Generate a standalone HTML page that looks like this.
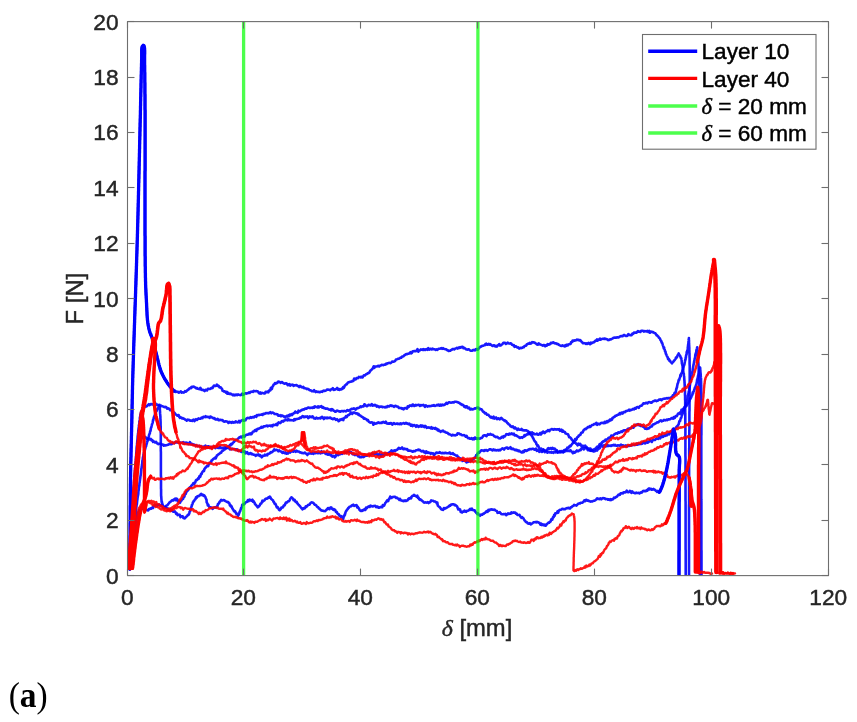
<!DOCTYPE html>
<html><head><meta charset="utf-8"><style>
html,body{margin:0;padding:0;background:#fff;}
body{width:857px;height:722px;overflow:hidden;position:relative;}
svg{position:absolute;left:0;top:0;will-change:transform;}
text{font-family:"Liberation Sans",sans-serif;fill:#262626;stroke:#262626;stroke-width:0.45px;}
</style></head><body>
<svg width="857" height="722" viewBox="0 0 857 722">
<defs><clipPath id="cp"><rect x="127.5" y="21.6" width="701" height="554"/></clipPath></defs>
<g clip-path="url(#cp)">
<polyline points="129.5,569.0 129.5,568.8 129.5,566.9 129.5,567.1 129.6,565.7 129.6,564.9 129.6,565.2 129.6,563.6 129.6,562.7 129.6,562.4 129.6,561.8 129.7,560.5 129.7,560.0 129.7,558.5 129.7,558.0 129.7,557.2 129.7,556.0 129.7,555.2 129.8,554.3 129.8,554.3 129.8,553.5 129.8,552.7 129.8,552.1 129.8,550.6 129.8,550.4 129.9,549.7 129.9,549.2 129.9,547.6 129.9,546.9 129.9,545.3 129.9,545.2 129.9,543.5 129.9,543.0 130.0,543.3 130.0,540.8 130.0,541.3 130.0,540.2 130.0,539.2 130.0,538.9 130.0,538.3 130.0,537.8 130.0,536.5 130.0,535.6 130.1,534.9 130.1,534.0 130.1,533.8 130.1,532.7 130.1,532.9 130.1,530.7 130.1,530.3 130.1,529.6 130.1,528.3 130.1,529.6 130.1,526.6 130.1,526.9 130.1,526.0 130.1,526.4 130.1,523.8 130.1,524.5 130.1,522.8 130.2,522.3 130.2,521.2 130.2,521.1 130.2,519.4 130.2,519.1 130.2,518.5 130.2,518.4 130.2,515.5 130.2,516.6 130.2,515.5 130.2,514.0 130.2,513.6 130.2,512.3 130.2,512.6 130.2,511.0 130.2,510.0 130.2,509.1 130.2,508.3 130.2,507.4 130.2,506.3 130.2,506.9 130.3,504.0 130.3,502.3 130.3,503.2 130.3,502.4 130.3,501.8 130.3,500.7 130.3,499.8 130.3,499.2 130.3,498.7 130.3,497.1 130.3,496.3 130.3,496.7 130.3,495.1 130.3,493.5 130.3,494.3 130.4,492.7 130.4,491.2 130.4,490.1 130.4,490.0 130.4,488.6 130.4,487.6 130.4,486.7 130.4,486.2 130.4,486.2 130.4,484.6 130.4,483.3 130.5,483.6 130.5,482.4 130.5,482.0 130.5,481.4 130.5,479.9 130.5,479.1 130.5,478.4 130.5,477.0 130.6,477.1 130.6,476.6 130.6,475.2 130.6,474.2 130.6,473.3 130.6,472.2 130.6,471.4 130.7,470.8 130.7,469.7 130.7,469.1 130.7,467.7 130.7,467.8 130.7,466.9 130.8,465.4 130.8,464.0 130.8,464.3 130.8,464.1 130.8,462.3 130.8,461.6 130.9,460.7 130.9,460.5 130.9,458.9 130.9,459.0 130.9,457.5 131.0,457.3 131.0,456.0 131.0,455.1 131.0,453.6 131.0,453.2 131.0,452.6 131.1,452.2 131.1,451.2 131.1,449.9 131.1,449.6 131.1,449.1 131.2,447.7 131.2,446.7 131.2,445.9 131.2,445.7 131.2,444.7 131.3,443.2 131.3,443.0 131.3,441.8 131.3,440.8 131.3,441.0 131.4,440.0 131.4,438.4 131.4,438.0 131.4,437.4 131.4,436.1 131.5,435.5 131.5,435.1 131.5,433.1 131.5,433.4 131.5,432.8 131.6,431.9 131.6,430.2 131.6,430.2 131.6,428.9 131.6,428.8 131.6,428.1 131.7,427.1 131.7,425.9 131.7,425.2 131.7,425.1 131.7,423.5 131.8,423.5 131.8,422.7 131.8,421.6 131.8,422.2 131.8,420.2 131.8,420.3 131.9,417.4 131.9,416.4 131.9,417.2 131.9,416.2 131.9,414.9 131.9,414.2 132.0,412.5 132.0,412.3 132.0,411.3 132.0,410.9 132.0,410.6 132.0,409.4 132.1,408.8 132.1,407.5 132.1,406.8 132.1,406.3 132.1,405.4 132.1,405.4 132.2,403.5 132.2,404.1 132.2,401.9 132.2,402.2 132.2,400.5 132.2,400.9 132.2,399.4 132.3,398.8 132.3,398.2 132.3,396.7 132.3,395.7 132.3,394.5 132.3,395.3 132.4,393.6 132.4,392.9 132.4,392.4 132.4,392.6 132.4,389.9 132.4,390.1 132.5,389.0 132.5,388.7 132.5,386.7 132.5,386.6 132.5,386.4 132.6,385.9 132.6,385.1 132.6,383.0 132.6,382.6 132.7,381.7 132.7,380.2 132.7,379.3 132.7,379.6 132.7,378.6 132.8,377.7 132.8,377.6 132.8,375.8 132.8,375.8 132.8,374.7 132.9,373.9 132.9,373.4 132.9,372.5 132.9,371.7 133.0,370.9 133.0,371.0 133.0,369.0 133.0,368.9 133.1,367.9 133.1,366.6 133.1,366.4 133.1,364.7 133.2,364.9 133.2,363.1 133.2,362.4 133.2,362.0 133.3,361.4 133.3,360.6 133.3,359.8 133.3,358.4 133.4,357.2 133.4,357.1 133.4,356.1 133.5,354.7 133.5,354.8 133.5,353.6 133.5,352.1 133.6,352.0 133.6,350.3 133.6,349.6 133.7,349.4 133.7,347.6 133.7,347.6 133.7,346.0 133.8,346.2 133.8,344.7 133.8,344.3 133.8,342.6 133.9,342.3 133.9,342.1 133.9,341.1 134.0,339.1 134.0,339.6 134.0,338.8 134.0,337.3 134.1,337.4 134.1,335.3 134.1,335.0 134.2,334.8 134.2,334.1 134.2,333.2 134.2,331.3 134.3,330.1 134.3,330.4 134.3,328.7 134.3,328.6 134.4,327.2 134.4,327.6 134.4,326.7 134.4,325.8 134.5,324.8 134.5,324.0 134.5,323.1 134.6,322.7 134.6,321.9 134.6,321.2 134.6,319.9 134.7,320.2 134.7,318.5 134.7,318.3 134.7,317.4 134.8,315.4 134.8,314.2 134.8,314.9 134.9,313.2 134.9,312.6 134.9,311.7 134.9,311.1 135.0,309.6 135.0,309.4 135.0,308.4 135.0,307.8 135.1,305.9 135.1,306.7 135.1,305.7 135.2,303.9 135.2,303.6 135.2,303.2 135.2,302.7 135.3,301.7 135.3,301.6 135.3,300.1 135.3,298.8 135.4,298.2 135.4,298.2 135.4,296.7 135.5,296.7 135.5,296.0 135.5,295.0 135.5,294.5 135.6,293.1 135.6,292.4 135.6,291.3 135.6,290.5 135.7,289.2 135.7,288.9 135.7,287.9 135.7,286.9 135.8,286.8 135.8,286.2 135.8,284.9 135.9,285.0 135.9,283.9 135.9,283.1 135.9,281.4 136.0,280.1 136.0,280.3 136.0,279.4 136.0,278.9 136.1,278.0 136.1,277.7 136.1,276.2 136.1,275.9 136.2,274.4 136.2,272.9 136.2,273.1 136.2,273.3 136.3,271.0 136.3,271.6 136.3,270.0 136.3,269.4 136.4,268.9 136.4,268.2 136.4,266.8 136.4,266.6 136.5,266.0 136.5,265.4 136.5,263.9 136.5,264.3 136.6,263.7 136.6,263.2 136.6,260.5 136.6,260.5 136.7,258.7 136.7,259.0 136.7,258.3 136.7,256.7 136.8,255.7 136.8,255.8 136.8,255.2 136.8,253.7 136.9,253.2 136.9,251.3 136.9,251.4 136.9,251.0 137.0,250.2 137.0,250.1 137.0,247.9 137.0,246.6 137.1,247.1 137.1,245.8 137.1,245.4 137.1,244.8 137.2,243.9 137.2,243.5 137.2,242.6 137.2,240.3 137.3,240.2 137.3,240.4 137.3,238.4 137.3,238.2 137.4,236.8 137.4,235.8 137.4,236.0 137.4,234.8 137.5,233.3 137.5,233.0 137.5,231.1 137.5,230.5 137.6,230.4 137.6,229.1 137.6,227.7 137.6,227.5 137.7,226.6 137.7,226.2 137.7,225.1 137.7,223.6 137.8,222.6 137.8,221.8 137.8,220.9 137.8,221.0 137.8,220.4 137.9,219.6 137.9,218.4 137.9,217.3 137.9,217.2 137.9,215.8 138.0,215.4 138.0,213.7 138.0,213.6 138.0,213.8 138.0,211.8 138.1,210.8 138.1,210.7 138.1,210.9 138.1,210.0 138.1,208.3 138.1,207.5 138.2,206.9 138.2,205.7 138.2,205.4 138.2,204.5 138.2,203.1 138.3,202.8 138.3,202.1 138.3,201.0 138.3,200.1 138.3,200.3 138.4,200.0 138.4,198.1 138.4,197.2 138.4,196.9 138.4,195.7 138.5,194.6 138.5,194.9 138.5,192.8 138.5,192.1 138.5,191.4 138.6,190.4 138.6,189.9 138.6,189.5 138.6,189.1 138.6,187.9 138.7,186.7 138.7,185.2 138.7,185.0 138.7,183.7 138.7,183.3 138.8,183.0 138.8,181.7 138.8,180.7 138.8,179.6 138.8,179.1 138.9,178.3 138.9,176.9 138.9,176.3 138.9,176.1 138.9,174.0 139.0,173.8 139.0,172.5 139.0,173.1 139.0,171.7 139.0,170.8 139.1,169.9 139.1,169.0 139.1,168.2 139.1,166.4 139.1,166.4 139.2,165.8 139.2,163.9 139.2,164.2 139.2,163.2 139.2,161.3 139.3,161.0 139.3,160.2 139.3,159.3 139.3,158.9 139.3,157.2 139.4,156.9 139.4,156.3 139.4,155.7 139.4,154.5 139.4,153.5 139.5,153.2 139.5,151.0 139.5,151.6 139.5,150.2 139.5,148.9 139.6,148.4 139.6,146.9 139.6,146.0 139.6,146.0 139.6,145.0 139.6,144.9 139.7,143.3 139.7,142.3 139.7,141.7 139.7,142.2 139.7,140.6 139.8,139.4 139.8,138.5 139.8,137.6 139.8,137.3 139.8,136.8 139.9,136.4 139.9,135.6 139.9,134.4 139.9,133.1 139.9,132.3 139.9,130.8 140.0,130.7 140.0,130.6 140.0,129.5 140.0,129.1 140.0,127.5 140.0,127.9 140.1,126.9 140.1,126.0 140.1,125.5 140.1,123.4 140.1,123.5 140.1,122.7 140.2,123.3 140.2,121.6 140.2,120.7 140.2,120.5 140.2,118.6 140.3,119.0 140.3,117.0 140.3,116.4 140.3,115.0 140.4,115.0 140.4,112.6 140.4,113.1 140.4,111.4 140.4,110.9 140.5,109.4 140.5,109.2 140.5,108.2 140.5,107.5 140.5,106.5 140.6,105.7 140.6,105.0 140.6,103.4 140.6,102.1 140.6,101.1 140.7,101.2 140.7,99.8 140.7,99.6 140.7,98.2 140.7,96.8 140.8,96.9 140.8,96.5 140.8,94.5 140.8,93.3 140.8,92.5 140.9,92.5 140.9,90.9 140.9,90.1 140.9,89.8 140.9,88.6 141.0,87.8 141.0,86.6 141.0,85.7 141.0,85.3 141.0,84.5 141.0,83.9 141.1,82.5 141.1,82.1 141.1,81.4 141.1,80.4 141.1,79.9 141.2,79.3 141.2,78.1 141.2,77.3 141.2,76.0 141.2,75.9 141.2,74.9 141.3,74.1 141.3,73.1 141.3,73.1 141.3,73.4 141.3,71.6 141.4,70.7 141.4,70.2 141.4,69.0 141.4,68.7 141.4,67.7 141.4,67.0 141.5,66.8 141.5,66.2 141.5,65.4 141.5,64.5 141.5,64.4 141.5,63.1 141.6,63.5 141.6,62.4 141.6,62.0 141.6,61.3 141.6,60.1 141.7,58.2 141.7,57.6 141.7,56.9 141.7,55.2 141.7,53.6 141.7,53.8 141.7,52.9 141.7,52.3 141.7,51.3 141.7,50.5 141.7,49.9 141.8,49.7 141.8,48.7 141.9,48.1 142.0,47.1 142.1,47.4 142.2,46.4 143.2,45.7 144.2,45.4 144.3,47.0 144.4,47.3 144.5,47.6 144.6,49.1 144.6,49.3 144.6,49.7 144.7,50.2 144.7,52.2 144.7,52.5 144.7,53.3 144.7,53.5 144.6,55.4 144.6,56.0 144.6,56.6 144.6,57.7 144.6,58.0 144.6,60.2 144.6,60.4 144.6,62.4 144.6,62.3 144.6,62.8 144.6,63.9 144.6,64.4 144.6,64.3 144.7,65.4 144.7,66.4 144.7,66.6 144.7,66.7 144.7,67.9 144.7,68.2 144.7,69.1 144.7,70.0 144.7,70.7 144.7,71.3 144.7,71.3 144.8,73.0 144.8,73.4 144.8,74.1 144.8,75.1 144.8,76.7 144.8,75.9 144.8,76.5 144.8,78.4 144.8,78.4 144.8,80.2 144.8,79.9 144.8,80.9 144.8,82.4 144.9,83.2 144.9,83.8 144.9,84.6 144.9,85.2 144.9,85.8 144.9,86.8 144.9,88.4 144.9,88.9 144.9,89.4 144.9,90.4 144.9,91.6 144.9,92.6 144.9,92.8 144.9,93.7 145.0,94.8 145.0,96.8 145.0,96.5 145.0,97.9 145.0,97.4 145.0,99.5 145.0,99.3 145.0,100.3 145.0,101.5 145.0,102.6 145.0,103.7 145.0,104.7 145.0,105.5 145.0,106.1 145.0,108.5 145.0,108.3 145.0,109.4 145.1,111.0 145.1,111.4 145.1,112.1 145.1,112.9 145.1,114.6 145.1,114.0 145.1,115.0 145.1,116.5 145.1,116.3 145.1,117.9 145.1,119.7 145.1,119.9 145.1,121.1 145.1,122.0 145.1,121.8 145.1,123.2 145.1,123.5 145.1,124.0 145.1,125.1 145.1,126.0 145.1,126.5 145.1,127.1 145.1,128.7 145.1,129.5 145.1,130.0 145.1,130.4 145.1,130.7 145.1,131.5 145.1,132.2 145.1,133.6 145.1,134.7 145.1,135.5 145.1,135.8 145.1,136.4 145.1,137.5 145.1,138.2 145.1,139.2 145.1,140.5 145.1,140.2 145.1,142.4 145.1,141.1 145.1,142.1 145.1,143.0 145.1,144.1 145.1,145.3 145.1,147.2 145.1,146.7 145.1,148.4 145.1,148.5 145.1,149.6 145.1,149.8 145.1,152.3 145.1,152.0 145.1,152.5 145.1,154.8 145.1,154.6 145.1,155.5 145.1,156.1 145.1,156.6 145.1,157.1 145.1,158.6 145.1,160.3 145.1,160.6 145.1,161.1 145.1,162.6 145.1,162.5 145.1,164.4 145.1,164.6 145.1,165.1 145.1,166.6 145.1,167.4 145.1,167.8 145.1,169.0 145.1,170.2 145.1,171.3 145.0,171.0 145.0,171.0 145.0,174.1 145.0,173.9 145.0,174.6 145.0,175.9 145.0,176.3 145.0,177.9 145.0,177.6 145.0,179.0 145.0,179.3 145.0,181.5 145.0,181.5 145.0,183.0 145.0,184.0 145.0,183.6 145.0,184.9 145.0,186.2 145.0,186.7 145.0,187.5 145.0,188.8 145.0,189.6 145.0,189.7 145.0,190.8 145.0,192.0 145.0,192.6 145.0,193.4 145.0,193.6 145.0,195.9 145.0,195.7 145.0,196.8 145.0,197.4 145.0,198.3 145.0,199.1 145.0,199.4 145.0,200.8 145.0,202.1 145.0,202.5 145.0,203.4 145.0,204.1 145.0,204.6 145.0,206.3 145.0,205.9 145.0,207.2 145.0,208.3 145.0,208.7 145.0,208.8 145.0,209.5 145.0,211.6 145.0,211.1 145.0,212.3 145.0,213.3 145.0,213.9 145.0,213.7 145.0,214.3 145.0,216.0 145.0,216.4 145.0,217.3 145.0,218.2 145.0,219.0 145.0,218.9 145.0,219.5 145.0,221.5 145.0,221.6 145.0,222.2 145.0,222.7 145.0,224.9 145.0,224.9 145.0,225.9 145.0,227.7 145.0,228.4 145.0,229.5 145.0,229.4 145.0,229.6 145.0,231.4 145.0,232.6 145.0,233.3 145.0,235.0 145.0,235.6 145.1,235.8 145.1,237.5 145.1,238.0 145.1,238.7 145.1,240.4 145.1,239.9 145.1,242.1 145.1,243.0 145.1,242.3 145.1,244.1 145.1,245.0 145.1,245.4 145.1,246.5 145.1,247.2 145.1,248.5 145.1,249.0 145.1,249.1 145.1,251.6 145.1,252.3 145.1,252.2 145.1,253.9 145.1,255.3 145.1,254.3 145.1,255.7 145.2,256.5 145.2,257.8 145.2,258.2 145.2,258.4 145.2,260.6 145.2,260.6 145.2,261.9 145.2,263.4 145.2,262.7 145.2,263.6 145.2,265.0 145.2,265.3 145.2,266.4 145.3,266.8 145.3,269.0 145.3,268.6 145.3,269.2 145.3,269.9 145.3,270.7 145.3,270.4 145.3,271.8 145.3,273.0 145.4,272.7 145.4,274.1 145.4,274.7 145.4,275.2 145.4,277.3 145.4,277.1 145.4,277.6 145.5,277.7 145.5,278.8 145.5,279.2 145.5,280.0 145.5,281.1 145.6,283.2 145.6,283.6 145.6,284.7 145.6,285.4 145.7,287.1 145.7,286.2 145.7,286.8 145.8,288.4 145.8,289.3 145.9,290.0 145.9,290.5 145.9,292.0 146.0,293.3 146.0,293.3 146.0,293.9 146.1,295.4 146.1,295.4 146.2,296.1 146.2,297.2 146.2,296.7 146.3,299.5 146.3,299.3 146.4,300.3 146.4,301.0 146.4,301.8 146.5,301.6 146.5,303.9 146.6,304.1 146.6,304.7 146.6,307.0 146.7,305.7 146.7,307.6 146.8,308.0 146.8,308.2 146.8,310.8 146.9,309.9 146.9,311.6 147.0,312.3 147.0,313.3 147.0,313.6 147.1,315.5 147.1,315.8 147.2,315.8 147.2,316.6 147.3,318.2 147.4,318.2 147.4,319.8 147.5,320.4 147.6,320.7 147.7,321.0 147.8,322.2 148.0,323.9 148.1,324.3 148.2,326.3 148.4,326.0 148.6,327.2 148.7,328.2 148.9,328.7 149.1,329.6 149.3,330.7 149.5,330.9 149.7,332.0 150.0,332.4 150.3,334.3 150.5,334.1 150.8,335.2 151.1,334.0 151.4,336.0 151.7,336.4 152.0,337.8 152.3,338.4 152.6,339.0 152.8,340.1 153.0,341.3 153.2,342.2 153.4,342.1 153.7,343.7 153.9,343.6 154.1,345.1 154.3,345.2 154.5,346.9 154.7,348.4 154.9,347.9 155.1,349.6 155.3,349.1 155.5,350.3 155.7,352.8 156.0,352.3 156.2,353.4 156.4,353.2 156.6,354.8 156.8,355.2 157.0,357.0 157.2,357.0 157.4,359.4 157.6,358.4 157.8,359.9 158.0,359.6 158.2,361.2 158.4,362.9 158.6,363.1 158.8,363.3 159.0,365.0 159.2,366.0 159.5,366.6 159.7,367.7 159.9,367.2 160.1,369.6 160.4,369.8 160.6,369.1 160.9,371.8 161.2,371.5 161.6,372.8 161.9,372.4 162.3,373.9 162.7,374.0 163.1,376.1 163.4,376.3 163.8,376.7 164.2,377.7 164.6,379.2 165.0,378.9 165.4,380.2 165.8,380.0 166.3,380.5 166.7,381.8 167.2,382.6 167.6,383.5 168.1,384.5 168.6,384.5 169.0,385.1 169.5,386.3 170.0,386.7 170.5,387.2 171.1,388.1 171.6,387.6 172.1,389.1 172.7,389.2 173.3,390.4 174.1,391.5 174.8,390.5 175.5,392.0 176.3,391.5 177.1,391.9 178.0,391.9 178.9,392.6 179.8,392.0 180.8,391.4 181.7,392.6 182.6,392.3 183.4,392.6 184.2,392.4 185.0,391.2 185.8,391.6 186.5,391.1 187.2,390.4 187.9,389.9 188.6,389.4 189.3,388.4 190.0,388.1 190.8,388.2 191.6,386.9 192.4,387.2 193.1,386.6 193.9,386.7 194.6,387.1 195.4,387.6 196.2,388.5 197.1,388.0 197.9,388.8 198.7,389.0 199.6,389.1 200.4,387.8 201.3,389.8 202.1,390.0 203.0,389.7 203.8,390.4 204.6,391.2 205.4,389.8 206.2,390.0 207.0,390.5 207.8,388.8 208.6,388.8 209.4,389.0 210.2,388.9 210.9,388.5 211.7,387.8 212.5,388.1 213.2,386.7 214.0,385.5 214.7,385.7 215.5,385.9 216.2,385.7 216.9,384.5 217.6,385.8 218.3,385.5 218.9,386.2 219.5,387.5 220.2,387.2 220.8,387.5 221.4,388.4 222.0,388.8 222.6,390.8 223.2,390.8 223.9,391.5 224.5,391.2 225.2,391.8 226.0,392.7 226.7,391.8 227.4,393.7 228.2,392.8 228.9,393.7 229.7,394.0 230.5,393.6 231.3,394.3 232.2,394.6 233.0,395.3 233.9,394.6 234.7,395.4 235.6,394.8 236.4,394.5 237.3,395.1 238.1,394.4 239.0,394.7 239.8,394.9 240.6,395.1 241.4,394.6 242.2,393.7 243.1,394.9 243.9,394.2 244.8,393.7 245.6,393.2 246.5,393.6 247.3,393.2 248.1,393.1 248.9,392.4 249.7,392.9 250.6,391.8 251.3,391.9 252.1,391.6 252.9,391.9 253.7,390.9 254.4,391.1 255.3,391.2 256.1,391.1 257.0,391.3 257.8,391.4 258.7,392.7 259.5,393.4 260.3,392.4 261.0,393.6 261.8,392.8 262.6,393.1 263.3,393.3 264.1,393.4 264.9,393.4 265.6,391.9 266.3,391.9 267.0,392.2 267.7,391.6 268.4,392.3 269.1,390.6 269.8,389.9 270.4,390.3 270.9,387.8 271.4,387.5 271.9,389.1 272.4,386.7 272.8,386.3 273.3,385.5 273.8,384.4 274.4,384.2 275.0,383.0 275.6,383.7 276.3,383.3 277.0,383.0 277.7,382.1 278.4,381.5 279.2,382.3 280.0,382.0 280.8,382.9 281.6,382.0 282.5,382.5 283.4,383.2 284.2,383.6 285.1,383.6 286.0,383.2 286.9,383.6 287.7,385.2 288.6,384.8 289.4,384.1 290.2,385.6 291.0,384.7 291.9,384.9 292.7,384.6 293.5,385.9 294.3,385.3 295.1,385.4 295.9,385.1 296.7,385.1 297.6,386.0 298.4,386.0 299.2,387.0 300.0,385.9 300.8,386.4 301.7,387.3 302.5,387.4 303.3,386.9 304.0,388.2 304.8,388.0 305.6,388.5 306.3,388.5 307.1,389.1 307.9,388.8 308.7,389.2 309.5,390.2 310.2,390.2 311.0,390.5 311.8,391.1 312.6,391.0 313.4,391.3 314.1,390.2 314.9,391.3 315.7,392.1 316.4,391.4 317.2,391.8 318.0,392.0 318.9,391.8 319.7,392.3 320.5,391.9 321.4,391.5 322.2,391.9 323.0,391.0 323.8,390.6 324.7,390.9 325.5,390.8 326.3,390.2 327.1,389.5 327.9,389.6 328.7,389.8 329.5,389.9 330.3,390.3 331.1,389.2 332.0,389.2 332.9,388.2 333.7,389.9 334.6,389.7 335.5,389.3 336.3,388.9 337.1,388.0 338.0,389.6 338.8,388.8 339.5,389.9 340.3,389.4 341.0,389.5 341.7,388.5 342.5,388.8 343.2,387.0 343.8,387.9 344.4,386.6 345.0,385.4 345.6,385.1 346.2,384.2 346.8,384.2 347.5,383.1 348.2,382.3 348.9,382.3 349.6,381.9 350.3,381.7 351.0,381.6 351.8,381.5 352.6,380.7 353.4,380.9 354.2,378.5 355.0,379.3 355.7,379.5 356.5,378.0 357.3,378.2 358.0,378.1 358.8,376.9 359.5,377.1 360.3,377.4 361.1,376.7 361.8,377.4 362.6,377.5 363.3,376.0 364.0,375.2 364.8,375.5 365.5,374.8 366.2,374.0 366.9,374.0 367.5,373.5 368.1,373.0 368.7,373.1 369.3,372.5 369.9,371.5 370.5,370.5 371.1,370.3 371.7,369.5 372.3,369.0 373.0,367.8 373.7,366.3 374.4,367.8 375.1,366.7 375.9,366.5 376.7,366.4 377.5,366.2 378.4,365.8 379.2,366.5 380.1,365.6 380.9,365.5 381.8,364.8 382.6,365.0 383.4,365.1 384.2,364.7 385.0,364.7 385.7,363.8 386.6,364.2 387.5,363.2 388.3,363.2 389.0,362.8 389.8,363.0 390.6,363.1 391.4,362.4 392.3,361.5 393.0,361.7 393.7,361.8 394.4,361.3 395.2,360.8 395.9,359.6 396.7,359.5 397.5,359.0 398.3,358.7 399.0,358.7 399.8,358.2 400.6,357.6 401.3,357.7 402.1,356.6 402.9,356.5 403.6,356.3 404.4,355.1 405.1,355.0 405.9,354.3 406.6,354.1 407.3,354.1 408.1,353.7 408.9,353.6 409.6,353.2 410.4,352.2 411.1,353.3 411.9,352.8 412.7,351.2 413.5,351.2 414.3,351.0 415.1,351.1 415.9,351.1 416.7,350.6 417.5,349.1 418.3,351.7 419.1,350.5 420.0,350.3 420.8,349.4 421.7,349.6 422.5,349.9 423.3,349.2 424.1,349.9 424.9,349.3 425.7,349.9 426.6,349.1 427.5,349.8 428.3,348.2 429.2,349.7 430.0,349.2 430.9,348.7 431.7,349.4 432.5,348.7 433.3,349.2 434.1,349.3 434.8,349.3 435.7,349.9 436.6,349.4 437.4,349.9 438.2,349.0 439.0,348.7 439.8,348.8 440.6,348.6 441.4,348.1 442.1,348.8 442.9,348.2 443.8,348.8 444.6,349.0 445.4,349.2 446.1,349.2 446.9,350.0 447.7,350.2 448.6,351.0 449.5,350.7 450.2,350.8 451.0,350.0 451.8,349.8 452.6,349.1 453.4,349.0 454.2,349.4 455.1,348.7 455.9,348.3 456.8,347.8 457.6,348.6 458.5,347.5 459.3,347.9 460.1,347.2 460.9,347.7 461.8,346.8 462.6,346.8 463.5,348.2 464.3,347.9 465.2,348.5 466.0,349.2 466.8,349.5 467.6,349.6 468.4,349.2 469.2,349.7 470.0,350.3 470.7,350.7 471.6,350.7 472.4,350.6 473.2,349.9 474.0,350.1 474.8,350.4 475.6,349.3 476.5,349.1 477.2,349.6 477.9,349.6 478.6,348.6 479.3,347.9 480.1,346.9 480.8,346.8 481.6,346.0 482.4,345.9 483.2,345.8 484.0,345.2 484.7,345.3 485.5,343.9 486.3,343.6 487.1,344.8 487.9,344.7 488.7,343.8 489.5,344.6 490.3,344.2 491.1,345.0 491.9,345.5 492.8,346.0 493.6,345.3 494.4,345.3 495.3,346.4 496.1,345.9 496.9,346.7 497.7,345.3 498.5,345.3 499.3,344.0 500.1,345.6 500.9,345.4 501.8,344.6 502.6,343.9 503.4,342.7 504.2,342.8 505.1,342.9 505.9,344.0 506.8,343.4 507.6,342.6 508.4,343.2 509.1,343.4 509.9,343.6 510.7,343.2 511.4,343.8 512.2,344.9 513.0,345.2 513.8,345.1 514.6,346.9 515.4,346.3 516.1,346.3 516.9,347.3 517.7,347.6 518.4,347.4 519.2,348.6 520.0,348.3 520.7,347.8 521.5,348.1 522.3,347.8 523.0,347.1 523.8,347.2 524.6,346.1 525.3,345.8 526.1,345.8 526.8,344.3 527.6,344.2 528.3,343.5 529.1,343.8 529.8,342.8 530.6,343.7 531.3,343.3 532.1,342.1 532.9,342.5 533.7,342.3 534.5,342.6 535.4,343.2 536.2,343.8 537.0,344.5 537.8,344.6 538.7,343.4 539.5,344.1 540.3,344.6 541.1,344.8 541.9,345.2 542.7,345.6 543.5,345.1 544.3,345.0 545.2,346.3 546.0,345.3 546.8,345.7 547.6,344.1 548.4,344.8 549.2,344.6 550.0,344.2 550.8,342.9 551.6,343.3 552.5,342.6 553.3,342.3 554.1,343.0 554.9,343.4 555.7,343.2 556.5,343.6 557.4,344.3 558.2,344.0 559.0,344.9 559.9,345.4 560.7,345.7 561.5,345.9 562.4,345.4 563.2,345.9 564.0,345.9 564.8,346.5 565.5,345.1 566.2,345.8 567.0,344.6 567.7,345.4 568.4,344.4 569.1,344.2 569.8,344.1 570.5,344.0 571.1,342.1 571.9,342.1 572.6,340.6 573.3,341.1 574.0,340.4 574.7,340.8 575.5,340.2 576.2,340.2 577.0,339.5 577.8,340.0 578.6,339.7 579.4,340.5 580.2,340.0 581.1,341.3 581.9,342.0 582.7,343.1 583.6,343.0 584.4,343.2 585.2,343.3 586.1,344.0 586.9,343.4 587.7,343.8 588.5,342.8 589.3,343.5 590.1,344.2 590.9,342.6 591.7,343.3 592.4,342.8 593.2,342.3 594.0,342.2 594.7,341.6 595.5,340.6 596.2,340.7 597.0,339.4 597.7,340.6 598.5,339.5 599.2,339.7 600.0,338.5 600.7,339.7 601.6,339.2 602.4,338.8 603.3,338.8 604.1,339.0 605.0,338.5 605.8,339.0 606.6,339.1 607.5,339.5 608.3,340.1 609.2,339.9 610.0,339.4 610.8,339.5 611.7,338.9 612.5,338.6 613.3,337.8 614.1,337.7 615.0,337.5 615.8,337.7 616.7,337.4 617.5,337.4 618.3,337.5 619.2,337.1 620.0,336.4 620.8,336.1 621.7,336.0 622.5,336.3 623.3,335.4 624.1,335.0 625.0,335.5 625.8,336.0 626.6,336.0 627.5,335.5 628.3,334.1 629.2,334.8 630.0,335.1 630.8,335.0 631.6,335.2 632.4,333.5 633.1,333.9 633.9,332.6 634.7,332.9 635.5,332.5 636.3,332.8 637.1,332.2 637.9,331.0 638.7,331.6 639.5,331.6 640.4,332.0 641.2,330.8 642.0,330.7 642.9,330.8 643.8,331.6 644.7,331.0 645.6,331.2 646.5,331.5 647.4,330.9 648.3,332.0 649.2,330.8 650.0,332.7 650.9,331.6 651.7,331.7 652.4,332.1 653.1,332.1 653.8,332.6 654.6,333.0 655.3,333.3 656.0,334.3 656.6,335.2 657.2,335.3 657.8,336.3 658.3,336.5 658.9,337.7 659.4,338.1 659.9,338.4 660.3,339.7 660.7,340.3 661.1,340.7 661.4,341.8 661.8,342.9 662.1,342.8 662.5,343.9 662.8,345.3 663.1,345.8 663.5,347.0 663.8,348.5 664.1,347.5 664.4,349.1 664.7,349.6 665.0,351.3 665.3,351.7 665.5,351.6 665.8,353.7 666.1,354.0 666.4,354.6 666.7,355.6 667.0,356.4 667.4,356.6 667.7,357.5 668.1,359.1 668.6,358.7 669.1,359.5 669.5,360.8 670.0,360.6 670.5,361.6 671.0,362.4 671.5,362.4 672.0,363.3 672.5,362.4 673.0,362.0 673.5,361.5 674.1,360.7 674.6,360.1 675.1,359.5 675.5,359.0 676.0,357.5 676.5,357.3 676.9,357.4 677.4,355.8 677.8,355.0 678.3,354.5 678.7,353.4 679.2,354.9 679.7,355.3 680.2,356.0 680.7,357.5 680.9,358.3 681.1,357.7 681.3,358.9 681.5,359.8 681.6,360.1 681.8,362.0 681.9,363.6 682.1,363.9 682.2,365.0 682.3,364.2 682.5,365.9 682.6,366.2 682.7,368.1 682.9,368.5 683.0,369.3 683.2,370.4 683.3,371.3 683.4,372.6 683.6,373.2 683.7,373.8 683.8,373.4 683.9,375.7 684.0,376.0 684.1,376.0 684.2,377.6 684.2,378.1 684.3,378.9 684.3,380.2 684.4,379.8 684.5,381.6 684.5,382.7 684.6,382.3 684.6,384.4 684.7,384.2 684.7,385.0 684.7,386.7 684.8,387.2 684.8,387.2 684.9,388.7 684.9,390.3 684.9,390.4 684.9,391.1 685.0,392.0 685.0,392.7 685.0,393.1 685.0,393.6 685.0,395.0 685.1,396.2 685.1,395.0 685.1,397.2 685.1,398.3 685.1,398.1 685.1,400.0 685.1,399.3 685.2,401.3 685.2,402.4 685.2,403.2 685.2,401.9 685.2,404.1 685.2,404.4 685.2,405.9 685.2,407.2 685.2,407.6 685.2,409.1 685.2,408.3 685.2,409.6 685.2,410.6 685.2,412.1 685.2,413.2 685.3,413.1 685.3,414.0 685.3,415.8 685.3,415.6 685.3,417.5 685.3,417.7 685.3,419.0 685.3,421.0 685.3,420.5 685.3,421.4 685.3,421.6 685.3,423.0 685.3,424.1 685.3,424.4 685.3,424.1 685.3,425.6 685.3,426.9 685.3,426.4 685.4,427.5 685.4,427.8 685.4,428.7 685.4,429.2 685.4,429.8 685.4,431.4 685.4,431.9 685.4,431.6 685.4,432.9 685.4,433.8 685.4,434.4 685.4,435.8 685.4,436.3 685.4,437.4 685.4,437.3 685.4,438.4 685.4,439.3 685.4,440.1 685.4,440.9 685.4,441.5 685.4,442.6 685.4,444.3 685.4,443.9 685.4,444.2 685.4,446.0 685.4,446.2 685.4,447.9 685.4,448.8 685.4,449.9 685.4,450.0 685.4,449.9 685.4,452.3 685.4,452.8 685.4,453.8 685.4,454.1 685.4,454.7 685.4,455.7 685.4,455.6 685.5,457.9 685.5,457.9 685.5,458.8 685.5,460.1 685.5,460.3 685.5,462.0 685.5,462.2 685.5,464.5 685.5,464.8 685.5,465.4 685.5,466.1 685.5,466.8 685.5,467.4 685.5,467.6 685.5,469.1 685.5,469.9 685.5,470.9 685.5,472.1 685.5,472.0 685.5,473.2 685.5,474.3 685.5,475.3 685.5,476.9 685.5,478.7 685.5,478.2 685.5,479.4 685.5,480.0 685.5,480.9 685.5,482.3 685.5,482.2 685.5,483.2 685.5,483.6 685.5,484.0 685.5,485.6 685.5,485.7 685.5,487.3 685.5,486.7 685.5,488.3 685.5,489.6 685.5,489.2 685.5,490.5 685.5,491.8 685.5,492.0 685.5,492.1 685.5,493.1 685.5,494.2 685.5,494.5 685.5,495.4 685.5,496.4 685.5,496.5 685.5,498.8 685.5,498.4 685.5,499.5 685.5,500.3 685.6,501.8 685.6,501.6 685.6,503.6 685.6,504.3 685.6,504.6 685.6,504.3 685.6,505.1 685.6,506.5 685.6,507.5 685.6,508.5 685.6,509.6 685.6,510.0 685.6,510.6 685.6,511.6 685.6,511.2 685.6,513.6 685.6,513.1 685.6,513.7 685.6,515.1 685.6,516.1 685.6,516.5 685.6,517.8 685.6,518.8 685.6,519.9 685.6,520.6 685.6,520.9 685.6,522.1 685.6,523.5 685.6,523.5 685.6,524.4 685.6,524.3 685.6,526.3 685.6,528.0 685.6,528.2 685.6,528.5 685.6,530.1 685.6,530.9 685.6,531.8 685.6,531.4 685.6,532.2 685.6,534.0 685.6,534.7 685.6,535.5 685.6,535.4 685.6,537.4 685.6,538.8 685.6,539.2 685.6,540.8 685.6,540.5 685.6,541.2 685.6,542.9 685.6,543.3 685.6,542.5 685.6,543.7 685.6,545.5 685.6,545.9 685.6,547.9 685.6,548.6 685.6,549.3 685.6,549.3 685.7,550.2 685.7,551.6 685.7,551.8 685.7,553.2 685.7,553.8 685.7,554.9 685.7,555.4 685.7,555.8 685.7,555.5 685.7,557.1 685.7,557.9 685.7,559.8 685.7,559.6 685.7,560.8 685.7,562.2 685.7,563.1 685.7,564.1 685.7,564.6 685.7,566.0 685.7,565.8 685.7,567.5 685.7,567.0 685.7,568.3 685.7,569.5 685.7,570.5 685.7,570.8 685.7,571.4 685.7,572.0 685.7,572.2 685.7,573.2 685.7,575.8" fill="none" stroke="#0000ff" stroke-width="2.6" stroke-linejoin="round" stroke-linecap="round" stroke-opacity="0.90"/>
<polyline points="130.0,568.1 130.0,567.4 130.0,566.6 130.1,566.5 130.1,565.7 130.1,564.7 130.1,563.5 130.2,563.3 130.2,561.9 130.2,561.9 130.2,561.7 130.2,559.7 130.3,559.5 130.3,558.3 130.3,557.6 130.3,556.3 130.3,556.2 130.4,555.3 130.4,555.2 130.4,555.0 130.4,552.4 130.4,552.7 130.5,550.9 130.5,550.3 130.5,549.1 130.5,549.2 130.5,548.8 130.6,547.3 130.6,546.6 130.6,545.3 130.6,544.8 130.6,543.5 130.7,543.3 130.7,541.5 130.7,542.9 130.7,541.5 130.7,539.8 130.8,539.1 130.8,538.3 130.8,537.8 130.8,537.0 130.9,537.0 130.9,535.1 130.9,533.5 130.9,533.8 131.0,533.1 131.0,531.7 131.0,531.7 131.1,530.4 131.1,529.3 131.1,528.8 131.1,527.4 131.2,527.0 131.2,527.3 131.2,526.2 131.3,525.1 131.3,524.1 131.3,523.4 131.4,521.8 131.4,521.7 131.5,520.4 131.5,519.7 131.5,520.0 131.6,518.0 131.6,517.6 131.7,516.8 131.7,516.5 131.8,515.0 131.8,514.6 131.9,513.7 131.9,512.6 131.9,511.6 132.0,510.6 132.0,510.8 132.1,509.0 132.1,509.2 132.2,508.7 132.3,506.7 132.3,505.7 132.4,504.8 132.4,504.3 132.5,504.4 132.5,502.5 132.6,501.5 132.6,500.4 132.7,500.5 132.7,499.8 132.8,499.5 132.9,498.1 132.9,497.1 133.0,496.3 133.0,497.0 133.1,495.5 133.2,494.3 133.2,492.9 133.3,492.1 133.3,491.4 133.4,490.5 133.5,490.0 133.5,488.6 133.6,489.1 133.6,486.9 133.7,486.9 133.8,486.1 133.8,485.4 133.9,484.8 134.0,483.5 134.0,482.6 134.1,482.5 134.1,481.6 134.2,480.1 134.3,479.8 134.3,477.9 134.4,478.0 134.5,475.9 134.5,476.8 134.6,475.1 134.6,475.1 134.7,474.1 134.8,472.8 134.8,472.7 134.9,472.4 134.9,470.3 135.0,471.0 135.1,469.4 135.1,467.9 135.2,467.3 135.3,466.8 135.3,466.1 135.4,464.5 135.5,463.9 135.5,463.4 135.6,462.5 135.7,462.5 135.7,461.1 135.8,460.2 135.9,458.5 135.9,457.6 136.0,456.7 136.0,456.4 136.1,455.8 136.2,455.5 136.2,454.3 136.3,452.6 136.4,452.1 136.4,452.4 136.5,450.6 136.6,449.9 136.6,448.1 136.7,447.3 136.8,446.9 136.9,446.2 136.9,445.8 137.0,444.7 137.1,443.1 137.1,444.4 137.2,442.6 137.3,440.7 137.3,441.7 137.4,440.5 137.5,439.2 137.6,438.5 137.6,438.0 137.7,435.9 137.8,436.8 137.9,435.7 137.9,435.2 138.0,433.8 138.1,433.1 138.2,433.5 138.3,430.4 138.3,432.0 138.4,431.3 138.5,429.2 138.6,429.0 138.7,427.8 138.8,426.9 138.9,425.6 139.1,424.6 139.2,424.4 139.3,423.3 139.4,422.8 139.5,422.0 139.6,420.5 139.7,420.9 139.8,419.9 139.9,417.4 140.0,417.3 140.2,416.4 140.3,416.1 140.4,414.6 140.6,415.2 140.7,413.5 140.9,414.1 141.1,412.1 141.3,412.9 141.5,411.5 141.7,411.3 142.2,410.1 142.6,409.3 143.1,408.0 143.7,407.8 144.3,407.0 145.0,406.7 145.7,406.2 146.4,406.4 147.2,405.7 148.0,405.1 148.9,404.1 149.7,405.1 150.6,404.1 151.5,404.1 152.3,404.5 153.1,404.2 153.9,404.2 154.7,404.3 155.5,403.4 156.3,404.8 157.2,404.5 158.0,405.1 158.9,405.0 159.7,404.9 160.4,406.0 161.2,405.6 161.9,406.3 162.7,406.3 163.5,406.7 164.2,407.1 165.0,407.3 165.8,406.8 166.5,407.5 167.3,408.7 168.0,408.3 168.8,408.6 169.5,409.2 170.2,410.1 170.8,409.7 171.5,410.5 172.1,410.8 172.8,411.2 173.4,412.5 174.0,412.4 174.7,413.2 175.3,413.9 175.9,414.5 176.6,415.0 177.2,415.7 177.9,415.4 178.6,415.0 179.3,417.0 180.0,417.8 180.7,417.2 181.4,417.7 182.2,418.5 182.9,418.0 183.6,418.8 184.4,418.9 185.1,419.7 185.9,419.7 186.7,420.7 187.5,419.7 188.2,420.0 189.1,419.8 189.9,420.7 190.7,420.6 191.4,420.5 192.2,420.9 192.9,420.0 193.7,419.6 194.5,421.2 195.2,419.9 196.0,419.2 196.9,419.9 197.7,419.2 198.5,418.4 199.3,418.7 200.1,418.8 200.9,418.3 201.7,417.6 202.5,418.2 203.3,416.8 204.1,416.9 204.9,417.1 205.6,416.2 206.4,417.0 207.1,416.8 208.0,417.1 208.8,416.9 209.7,417.9 210.5,416.5 211.3,417.2 212.1,417.4 212.8,417.9 213.6,418.5 214.4,418.0 215.2,419.3 216.0,419.6 216.8,419.4 217.6,418.9 218.5,420.1 219.3,420.2 220.1,419.7 220.9,420.0 221.7,420.3 222.5,420.1 223.3,421.1 224.2,421.7 225.0,421.5 225.8,421.2 226.7,421.6 227.5,421.8 228.4,422.9 229.2,421.9 230.0,422.4 230.8,422.1 231.6,422.9 232.4,421.9 233.2,422.6 234.1,422.1 234.9,422.5 235.7,421.4 236.5,421.9 237.4,422.4 238.2,422.0 239.0,420.9 239.7,422.5 240.5,421.2 241.3,420.6 242.1,420.3 243.0,419.8 243.8,420.8 244.6,420.5 245.4,420.3 246.1,418.9 246.9,418.2 247.7,417.9 248.5,418.0 249.3,418.1 250.0,417.6 250.8,417.1 251.6,417.9 252.4,417.0 253.2,417.3 254.0,417.5 254.7,416.2 255.5,416.1 256.3,416.8 257.0,415.2 257.7,415.5 258.5,414.9 259.4,415.1 260.2,414.7 261.0,414.8 261.8,414.3 262.6,414.9 263.3,413.7 264.1,413.8 264.8,414.0 265.6,413.1 266.3,413.1 267.0,413.2 267.9,413.0 268.8,413.4 269.6,412.6 270.4,412.2 271.3,413.3 272.1,412.6 273.1,412.8 273.8,413.1 274.5,414.0 275.3,414.0 276.0,414.0 276.8,414.4 277.6,414.4 278.4,415.8 279.3,415.8 280.1,415.2 281.0,416.3 281.8,415.4 282.7,415.9 283.6,416.0 284.5,417.2 285.2,417.3 285.9,416.3 286.7,415.9 287.4,416.6 288.2,415.4 288.9,416.2 289.7,414.7 290.5,415.3 291.3,414.1 292.1,415.0 292.9,413.9 293.7,413.1 294.5,413.1 295.3,411.5 296.1,412.4 296.9,412.3 297.7,412.8 298.5,410.7 299.4,411.5 300.1,411.2 300.9,410.7 301.7,409.9 302.5,409.9 303.3,409.2 304.2,409.5 305.0,408.5 305.8,408.6 306.7,408.7 307.5,407.9 308.4,407.5 309.2,407.9 310.0,407.9 310.9,407.9 311.7,407.6 312.5,408.0 313.3,407.0 314.1,407.6 314.9,406.3 315.7,407.0 316.5,407.0 317.3,407.5 318.1,406.3 318.8,407.5 319.7,406.6 320.6,406.6 321.4,406.1 322.2,407.6 323.1,407.1 323.9,408.1 324.7,408.0 325.5,408.6 326.3,408.6 327.1,408.5 327.9,408.9 328.7,409.4 329.5,409.8 330.3,409.4 331.1,410.4 331.9,409.1 332.8,409.7 333.6,410.8 334.4,410.8 335.3,411.8 336.1,411.5 336.9,410.6 337.8,410.7 338.6,411.3 339.4,411.4 340.2,411.8 340.9,411.2 341.7,411.1 342.6,411.1 343.4,411.4 344.2,410.9 345.0,411.1 345.8,411.4 346.6,410.8 347.4,410.1 348.2,410.7 349.0,410.7 349.8,409.7 350.6,409.7 351.4,408.9 352.2,409.0 353.0,408.8 353.8,408.4 354.6,408.6 355.5,409.6 356.3,409.0 357.1,408.0 358.0,408.2 358.8,407.8 359.6,407.6 360.4,406.4 361.2,407.1 362.0,406.3 362.8,406.4 363.6,406.4 364.4,404.3 365.2,404.6 366.0,405.9 366.8,406.2 367.7,405.8 368.5,404.7 369.4,405.0 370.2,405.5 370.9,405.1 371.7,404.1 372.6,405.7 373.4,405.1 374.2,405.5 375.0,404.8 375.9,405.3 376.7,406.6 377.6,405.9 378.4,406.6 379.2,407.3 380.1,406.6 380.9,406.7 381.7,406.6 382.5,407.2 383.3,407.0 384.2,407.0 385.0,407.5 385.8,406.9 386.7,407.2 387.5,406.0 388.3,406.2 389.1,406.5 389.9,405.7 390.7,405.3 391.5,405.9 392.3,405.7 393.1,406.1 393.9,406.8 394.7,405.9 395.6,405.7 396.4,406.4 397.2,406.5 398.1,406.8 398.9,407.9 399.7,407.9 400.5,408.1 401.3,408.0 402.1,408.8 402.9,408.3 403.7,409.3 404.5,408.3 405.3,408.1 406.1,408.3 406.9,408.7 407.7,406.4 408.5,407.2 409.3,405.9 410.1,405.4 410.9,405.6 411.7,406.0 412.6,404.5 413.5,405.0 414.2,406.0 415.0,405.7 415.8,404.9 416.6,405.4 417.4,405.1 418.2,404.9 419.0,404.8 419.9,405.9 420.7,405.0 421.5,405.4 422.4,405.3 423.2,404.9 424.1,405.6 424.9,406.8 425.8,405.4 426.6,405.9 427.4,406.6 428.2,406.2 429.0,406.0 429.9,406.3 430.7,406.1 431.5,405.9 432.3,405.5 433.1,405.7 434.0,405.0 434.8,405.9 435.6,405.7 436.4,405.4 437.2,404.8 438.0,405.3 438.8,404.6 439.6,405.7 440.5,404.7 441.3,405.6 442.1,404.6 442.9,405.2 443.8,404.9 444.6,404.9 445.5,404.0 446.3,402.9 447.2,403.8 448.0,403.0 448.9,402.3 449.8,402.3 450.6,402.7 451.4,402.7 452.2,402.3 453.0,402.4 453.8,402.4 454.6,401.7 455.3,401.8 456.0,401.7 456.9,401.9 457.7,402.2 458.5,402.7 459.2,402.7 460.0,403.4 460.7,404.3 461.4,404.1 462.1,405.0 462.8,404.7 463.5,405.2 464.2,406.8 465.0,406.3 465.7,407.4 466.4,406.2 467.1,406.4 467.8,408.0 468.5,408.3 469.2,407.6 469.9,409.4 470.7,409.5 471.5,408.9 472.3,409.4 473.2,409.3 474.0,408.8 474.8,408.2 475.7,408.6 476.5,407.9 477.4,407.8 478.2,407.5 478.9,408.5 479.6,409.3 480.3,408.9 481.0,409.3 481.6,409.4 482.3,410.5 483.0,411.6 483.7,411.7 484.3,412.7 485.0,413.5 485.7,413.0 486.3,413.6 487.0,414.7 487.8,414.8 488.5,414.9 489.2,415.9 489.9,416.6 490.6,417.4 491.3,416.9 492.1,417.8 492.9,418.2 493.6,416.7 494.4,418.6 495.2,418.3 496.1,417.5 497.0,419.2 497.8,418.5 498.7,418.4 499.6,419.4 500.4,418.8 501.2,417.9 502.0,418.5 502.7,419.6 503.4,419.8 504.1,420.4 504.8,420.2 505.4,421.3 506.0,421.1 506.6,421.9 507.2,423.0 507.9,423.3 508.5,424.2 509.2,424.4 509.9,425.1 510.6,426.5 511.3,426.3 512.1,427.1 512.8,426.3 513.5,427.2 514.3,428.4 515.1,427.5 515.9,428.5 516.6,428.9 517.4,430.0 518.2,428.7 519.0,429.4 519.9,429.8 520.8,429.8 521.6,428.9 522.5,430.3 523.3,430.1 524.1,430.5 524.9,430.2 525.6,430.5 526.4,430.4 527.2,430.9 527.9,431.0 528.6,432.4 529.2,432.2 529.9,434.1 530.5,434.5 531.0,434.6 531.4,435.6 531.9,435.5 532.3,436.5 532.7,437.5 533.1,437.9 533.6,439.1 534.0,440.1 534.4,440.7 534.9,441.3 535.4,441.9 535.9,442.1 536.4,444.1 536.8,444.3 537.3,445.8 537.8,445.2 538.4,446.2 538.9,447.4 539.4,448.4 540.0,448.8 540.6,449.3 541.2,448.6 541.9,450.0 542.6,451.1 543.3,449.4 544.1,451.0 544.9,452.2 545.7,450.8 546.6,451.7 547.4,452.7 548.3,452.1 549.2,452.1 550.0,452.5 550.9,452.1 551.7,452.6 552.5,452.3 553.4,452.8 554.2,451.9 555.0,452.3 555.9,452.4 556.7,451.1 557.6,452.7 558.4,451.9 559.2,451.7 560.0,451.1 560.8,451.6 561.5,451.0 562.3,451.6 563.1,451.8 563.8,450.4 564.6,450.0 565.3,449.9 566.0,449.4 566.6,449.4 567.3,447.7 568.0,448.4 568.6,447.7 569.1,446.9 569.7,445.8 570.2,446.5 570.8,446.0 571.3,444.9 571.8,444.5 572.3,443.9 572.9,442.9 573.4,442.5 574.0,440.9 574.6,441.2 575.1,439.0 575.6,440.2 576.1,439.9 576.6,439.1 577.1,437.4 577.7,437.1 578.2,436.9 578.7,435.5 579.3,435.5 579.8,434.7 580.4,434.8 581.0,433.2 581.5,432.6 582.1,432.6 582.7,432.3 583.2,431.0 583.8,430.0 584.4,429.5 585.1,428.9 585.7,429.2 586.4,428.2 587.1,428.2 587.7,427.1 588.4,427.2 589.1,427.2 589.8,426.0 590.5,426.8 591.2,425.8 591.9,425.1 592.7,425.0 593.4,424.8 594.2,424.1 594.9,423.9 595.6,424.1 596.4,422.8 597.2,424.8 598.0,423.9 598.8,423.9 599.6,424.3 600.5,423.4 601.3,422.9 602.1,422.7 603.0,422.9 603.8,423.2 604.6,421.9 605.4,423.0 606.1,421.8 606.9,421.2 607.6,422.1 608.3,420.9 609.1,421.2 609.9,419.7 610.6,420.3 611.3,419.2 612.0,419.6 612.7,417.7 613.3,417.6 614.0,416.9 614.7,417.0 615.3,415.9 616.0,415.8 616.7,415.5 617.4,414.9 618.1,414.8 618.9,414.5 619.7,413.1 620.4,414.1 621.2,412.7 622.0,412.6 622.7,413.5 623.5,412.0 624.3,412.0 625.1,412.1 625.8,411.1 626.6,411.1 627.4,410.7 628.3,410.5 629.1,409.7 629.9,410.6 630.7,409.9 631.6,409.9 632.4,409.4 633.2,408.8 634.1,409.4 634.9,408.1 635.7,408.7 636.5,407.5 637.2,407.1 638.0,407.1 638.8,407.9 639.5,406.7 640.3,405.9 641.1,405.6 641.8,405.6 642.6,404.4 643.4,403.3 644.1,403.4 644.9,403.6 645.7,402.9 646.5,402.9 647.4,403.5 648.2,402.5 649.0,402.1 649.8,402.2 650.7,402.6 651.5,402.7 652.3,402.0 653.2,401.3 654.0,401.1 654.8,400.5 655.7,400.6 656.5,401.1 657.3,400.7 658.2,400.4 659.0,399.5 659.9,399.8 660.7,399.3 661.5,400.2 662.4,399.2 663.2,398.9 664.1,398.8 664.9,398.6 665.8,398.5 666.8,398.1 667.7,398.4 668.6,398.1 669.4,398.3 670.2,398.0 671.0,397.8 671.7,396.9 672.3,396.8 673.0,395.1 673.6,395.1 674.1,394.6 674.6,392.8 675.0,393.7 675.4,392.7 675.7,391.6 675.9,392.0 676.2,389.2 676.4,389.2 676.6,388.4 676.8,387.3 677.0,387.4 677.1,386.4 677.3,385.2 677.6,383.7 677.8,383.5 678.1,382.6 678.3,382.0 678.6,380.3 678.9,379.7 679.2,380.0 679.5,378.7 679.8,377.8 680.1,377.1 680.4,375.0 680.7,376.3 681.0,374.1 681.3,373.4 681.5,373.6 681.8,373.3 682.1,372.5 682.3,370.9 682.6,370.0 682.8,369.9 683.1,368.9 683.3,367.1 683.5,367.9 683.7,365.5 683.9,365.9 684.2,365.0 684.4,364.4 684.6,363.3 684.7,362.8 684.9,361.7 685.1,360.3 685.3,359.6 685.5,359.8 685.7,357.3 685.9,357.8 686.0,356.4 686.2,355.0 686.4,354.6 686.6,354.5 686.7,352.1 686.9,353.1 687.1,352.5 687.2,350.8 687.4,350.0 687.5,349.4 687.6,349.0 687.8,347.3 687.9,346.7 688.0,346.3 688.1,344.6 688.2,344.6 688.3,343.6 688.4,343.2 688.5,341.4 688.6,341.1 688.7,340.5 688.8,339.5 688.9,338.1 688.9,340.1 689.0,340.2 689.0,341.2 689.0,341.9 689.0,343.0 689.1,343.4 689.1,343.8 689.1,345.3 689.2,345.6 689.2,346.4 689.2,347.2 689.3,347.3 689.3,348.7 689.3,349.6 689.3,349.5 689.4,350.9 689.4,351.8 689.4,353.0 689.5,353.3 689.5,354.4 689.5,355.5 689.5,355.5 689.5,356.7 689.6,357.9 689.6,359.3 689.6,360.7 689.6,360.6 689.6,361.2 689.6,361.6 689.6,362.5 689.6,364.0 689.6,363.7 689.6,364.2 689.7,365.9 689.7,365.7 689.7,366.4 689.7,366.7 689.7,368.4 689.7,368.5 689.7,368.4 689.7,369.0 689.7,371.0 689.7,371.3 689.7,372.5 689.7,373.3 689.7,374.6 689.7,375.3 689.7,374.8 689.7,376.0 689.7,376.6 689.7,378.2 689.7,377.8 689.7,379.7 689.7,379.3 689.7,381.5 689.6,382.4 689.6,381.8 689.6,383.5 689.6,384.0 689.6,384.3 689.6,386.4 689.6,386.4 689.6,388.2 689.6,388.8 689.6,390.3 689.6,390.0 689.6,391.5 689.6,392.0 689.6,392.6 689.6,394.2 689.6,394.6 689.6,395.2 689.6,396.4 689.6,396.5 689.5,398.5 689.5,399.7 689.5,399.0 689.5,400.7 689.5,401.3 689.5,402.0 689.5,403.6 689.5,404.9 689.5,405.1 689.5,405.6 689.5,407.5 689.5,407.3 689.5,408.0 689.5,408.9 689.5,410.5 689.5,410.9 689.4,411.8 689.4,412.3 689.4,413.6 689.4,414.3 689.4,416.0 689.4,415.9 689.4,416.2 689.4,418.4 689.4,418.5 689.4,419.2 689.4,420.2 689.4,420.8 689.4,420.5 689.4,422.4 689.4,423.8 689.4,424.4 689.4,424.4 689.4,425.4 689.4,426.6 689.4,428.2 689.4,428.1 689.4,428.8 689.4,429.2 689.4,430.0 689.3,430.7 689.3,431.8 689.3,432.1 689.3,433.1 689.3,433.5 689.3,435.4 689.3,436.0 689.3,436.3 689.3,437.1 689.3,438.3 689.3,438.8 689.3,439.3 689.3,438.9 689.3,440.1 689.3,442.1 689.3,442.5 689.3,443.0 689.3,443.2 689.3,445.2 689.3,445.1 689.3,446.5 689.3,447.2 689.3,447.7 689.2,448.2 689.2,449.7 689.2,449.6 689.2,450.8 689.2,451.8 689.2,453.2 689.2,453.2 689.2,454.3 689.2,455.3 689.2,454.6 689.2,456.1 689.2,457.2 689.2,457.8 689.2,459.4 689.2,459.5 689.2,460.9 689.2,461.8 689.2,462.1 689.2,463.2 689.2,464.5 689.2,465.1 689.2,465.5 689.2,465.4 689.1,466.8 689.1,467.9 689.1,468.9 689.1,469.7 689.1,470.5 689.1,470.8 689.1,472.5 689.1,473.5 689.1,473.8 689.1,474.8 689.1,476.0 689.1,476.3 689.1,477.5 689.1,478.7 689.1,478.8 689.1,480.0 689.1,480.3 689.1,480.9 689.1,481.2 689.1,483.0 689.1,484.8 689.1,484.2 689.1,485.8 689.1,486.3 689.1,486.3 689.1,487.7 689.1,487.8 689.1,487.7 689.1,490.0 689.1,490.1 689.1,490.9 689.1,492.1 689.1,493.0 689.1,493.2 689.1,494.2 689.1,495.0 689.1,495.2 689.1,496.8 689.1,496.9 689.1,498.1 689.1,499.2 689.1,500.0 689.1,499.3 689.1,500.7 689.1,501.7 689.1,502.2 689.1,503.3 689.1,504.2 689.0,505.0 689.0,506.9 689.0,506.7 689.0,507.4 689.0,507.8 689.0,508.9 689.0,509.7 689.0,510.9 689.0,510.8 689.0,512.1 689.0,512.5 689.0,513.0 689.0,515.0 689.0,515.4 689.0,516.5 689.0,517.9 689.0,518.6 689.0,518.7 689.0,519.7 689.0,520.1 689.0,521.1 689.0,521.2 689.0,523.2 689.0,523.7 689.0,525.0 689.0,526.2 689.0,525.7 689.0,527.1 689.0,527.7 689.0,529.3 689.0,529.4 689.0,531.1 689.0,532.3 689.0,533.0 689.0,533.8 689.0,533.8 689.0,534.5 689.0,534.6 689.0,536.2 689.0,536.2 689.0,537.3 689.0,539.3 689.0,540.0 689.0,539.8 689.0,542.3 689.0,541.4 689.0,542.3 689.0,544.4 689.0,545.3 689.0,545.2 689.0,546.5 689.0,546.2 689.0,548.2 689.0,548.4 689.0,550.0 689.0,550.0 689.0,550.9 689.0,552.4 689.0,553.2 689.0,553.5 689.0,553.8 689.0,555.5 689.0,556.9 689.0,557.4 689.0,557.1 689.0,558.7 689.0,559.6 689.0,561.1 689.0,561.0 689.0,561.8 689.0,563.6 689.0,563.0 689.0,564.1 689.0,564.8 689.0,566.6 689.0,566.5 689.0,568.0 689.0,568.1 689.0,570.1 689.0,570.4 689.0,570.6 689.0,572.1 689.0,572.8 689.0,573.4 689.0,573.7 689.0,576.0" fill="none" stroke="#0000ff" stroke-width="2.6" stroke-linejoin="round" stroke-linecap="round" stroke-opacity="0.90"/>
<polyline points="130.0,569.1 130.1,568.0 130.1,567.5 130.2,566.6 130.2,565.2 130.3,565.5 130.3,563.4 130.4,563.8 130.4,561.6 130.5,561.1 130.5,561.6 130.5,559.4 130.6,559.4 130.6,558.7 130.7,558.4 130.7,557.8 130.8,556.6 130.8,555.6 130.9,555.1 130.9,554.2 131.0,552.1 131.0,552.4 131.1,550.9 131.1,551.8 131.2,550.3 131.2,548.5 131.3,549.0 131.4,546.8 131.4,546.8 131.5,545.1 131.6,544.7 131.6,544.2 131.7,542.6 131.8,542.7 131.8,542.2 131.9,541.6 132.0,540.5 132.1,539.4 132.2,538.8 132.3,537.2 132.3,536.5 132.4,536.7 132.5,534.6 132.6,534.1 132.7,534.0 132.8,532.7 132.9,531.3 133.0,530.8 133.2,530.0 133.3,528.9 133.4,528.4 133.5,528.2 133.6,526.8 133.7,526.4 133.8,525.1 133.9,524.5 134.0,524.2 134.2,523.2 134.3,522.1 134.4,521.2 134.5,521.1 134.6,519.6 134.7,518.2 134.9,518.5 135.0,517.7 135.1,516.4 135.2,515.4 135.3,515.5 135.4,514.7 135.6,513.4 135.7,512.4 135.8,512.0 135.9,511.7 136.0,509.7 136.1,509.6 136.2,507.4 136.3,507.3 136.4,507.1 136.5,506.0 136.7,504.5 136.8,504.7 136.9,503.8 137.0,503.0 137.1,501.7 137.2,500.9 137.3,500.1 137.4,499.5 137.5,498.6 137.6,497.7 137.7,497.3 137.8,496.6 138.0,495.3 138.1,495.1 138.2,492.8 138.3,494.1 138.4,491.5 138.5,491.0 138.6,490.6 138.7,490.0 138.8,488.8 138.9,487.1 139.0,486.9 139.1,485.7 139.3,486.0 139.4,484.5 139.5,482.7 139.6,482.8 139.7,482.5 139.8,481.0 139.9,481.0 140.0,479.2 140.1,479.0 140.2,478.8 140.3,477.5 140.5,476.1 140.6,475.3 140.7,475.3 140.8,474.3 140.9,473.2 141.0,472.5 141.1,471.2 141.2,470.4 141.3,469.5 141.4,468.4 141.6,468.3 141.7,466.5 141.8,467.2 141.9,465.6 142.0,464.3 142.1,464.3 142.2,463.6 142.3,462.1 142.4,460.6 142.6,460.5 142.7,459.7 142.8,458.7 142.9,457.5 143.0,457.1 143.1,457.0 143.3,456.1 143.4,456.1 143.5,454.4 143.7,454.3 143.9,452.7 144.2,452.5 144.4,451.6 144.6,451.5 144.8,450.3 145.1,449.2 145.3,448.6 145.5,447.0 145.8,446.8 146.0,446.4 146.2,445.6 146.4,444.5 146.6,444.1 146.8,443.4 147.0,442.6 147.3,441.2 147.5,441.3 147.7,440.1 147.9,438.7 148.2,438.4 148.4,438.2 148.6,437.6 148.9,435.9 149.1,434.8 149.3,434.2 149.6,433.9 149.8,433.5 150.0,432.1 150.2,431.1 150.5,431.1 150.7,429.7 150.9,428.3 151.1,427.7 151.3,427.4 151.6,426.0 151.8,425.3 152.0,424.1 152.2,423.9 152.4,423.5 152.7,422.5 152.9,420.9 153.1,419.8 153.3,420.3 153.5,419.2 153.8,417.4 154.0,418.1 154.3,416.3 154.6,415.4 154.9,414.9 155.2,413.4 155.5,412.8 155.7,413.3 156.0,411.7 156.3,411.4 156.6,411.1 156.9,410.0 157.2,409.2 157.7,408.5 158.1,408.2 158.6,406.9 159.0,405.6 159.5,406.0 159.6,406.5 159.6,406.0 159.7,407.6 159.7,409.3 159.8,408.2 159.9,409.0 159.9,410.7 160.0,410.9 160.0,411.1 160.1,413.4 160.1,413.4 160.2,414.5 160.3,415.7 160.3,416.1 160.4,416.5 160.4,419.0 160.5,419.4 160.5,420.0 160.5,420.4 160.5,420.4 160.6,422.0 160.6,421.7 160.6,423.8 160.6,422.6 160.6,424.6 160.6,424.3 160.6,425.0 160.7,426.6 160.7,427.0 160.7,428.1 160.7,427.9 160.7,429.1 160.7,429.8 160.7,430.9 160.7,432.0 160.7,432.3 160.8,432.7 160.8,434.0 160.8,434.0 160.8,435.3 160.8,437.1 160.8,437.1 160.8,438.7 160.8,438.9 160.8,439.5 160.8,440.9 160.8,442.0 160.8,442.6 160.8,443.7 160.8,445.3 160.8,445.4 160.8,446.5 160.8,446.8 160.8,448.5 160.8,448.7 160.8,450.1 160.8,450.7 160.9,452.1 160.9,453.0 160.9,454.2 160.9,454.6 160.9,455.8 160.9,457.3 160.9,456.9 160.9,457.8 160.9,459.5 160.9,460.1 160.9,461.0 160.9,460.6 160.9,462.6 160.9,464.0 160.9,464.7 160.9,465.3 160.9,466.0 160.9,466.6 160.9,467.6 160.9,468.6 160.9,468.5 160.9,470.9 160.9,470.4 160.9,472.4 160.9,472.9 160.9,472.9 160.9,473.9 160.9,474.9 160.9,476.0 161.0,475.7 161.0,477.1 161.0,477.9 161.0,478.1 161.0,479.0 161.0,479.2 161.0,479.8 161.0,480.5 161.0,481.5 161.0,483.3 161.0,484.2 161.0,485.1 161.0,485.5 161.0,486.8 161.0,488.0 161.0,487.8 161.0,488.7 161.1,489.5 161.1,491.0 161.1,491.8 161.1,493.4 161.1,493.8 161.1,492.7 161.1,494.8 161.1,495.2 161.2,496.6 161.2,496.3 161.3,496.7 161.3,497.6 161.4,499.0 161.4,499.2 161.5,500.3 161.6,501.8 161.8,501.2 162.0,502.4 162.2,503.5 162.4,504.5 162.6,504.4 162.8,505.5 163.0,505.7 163.2,507.7 164.0,507.0 164.7,507.1 165.5,506.6 166.2,505.7 167.0,505.4 167.7,504.9 168.3,504.0 168.9,503.2 169.4,502.5 170.0,502.2 170.6,501.5 171.2,501.4 171.8,500.5 172.6,500.1 173.4,500.5 174.3,499.1 175.2,498.6 176.0,500.3 176.7,498.6 177.3,499.2 177.9,500.9 178.4,500.6 178.9,501.2 179.4,502.3 179.9,502.8 180.4,501.8 180.9,500.7 181.4,500.6 181.9,499.7 182.4,499.3 182.8,498.6 183.1,498.7 183.4,497.9 183.8,496.6 184.1,497.0 184.5,496.3 184.8,493.7 185.2,493.3 185.7,494.0 186.1,492.6 186.5,491.8 187.0,491.0 187.5,490.5 188.0,490.4 188.5,489.5 189.0,488.6 189.5,487.7 190.1,487.1 190.6,487.3 191.2,485.9 191.7,485.4 192.2,484.9 192.8,484.3 193.4,483.0 194.0,484.3 194.6,482.7 195.2,482.5 195.8,480.6 196.4,479.8 197.0,480.0 197.6,479.1 198.2,478.2 198.7,478.8 199.2,476.7 199.7,475.8 200.2,476.8 200.7,475.3 201.1,473.7 201.6,474.2 202.1,472.5 202.5,471.9 203.0,471.3 203.5,470.7 204.0,470.9 204.5,468.9 205.0,468.3 205.5,467.5 206.0,467.4 206.6,466.3 207.1,466.2 207.6,466.3 208.2,466.0 208.8,464.2 209.4,463.8 210.0,462.7 210.5,462.3 211.0,462.3 211.6,460.3 212.1,460.3 212.7,459.6 213.3,459.1 213.9,458.6 214.5,458.4 215.1,457.6 215.7,458.5 216.3,457.1 216.9,455.5 217.6,455.1 218.2,454.4 218.8,454.2 219.4,453.6 220.0,453.3 220.6,452.5 221.2,452.6 221.8,451.3 222.5,450.9 223.1,450.6 223.7,450.0 224.3,449.4 225.0,449.2 225.6,448.7 226.2,448.1 226.9,447.7 227.5,446.8 228.1,446.3 228.7,446.5 229.4,446.1 230.0,444.9 230.7,445.2 231.3,443.8 232.0,444.2 232.6,443.3 233.3,442.4 233.9,442.1 234.6,440.9 235.3,440.5 235.9,439.9 236.6,440.1 237.3,439.5 237.9,438.6 238.6,438.3 239.3,437.4 240.0,437.4 240.7,436.6 241.5,437.5 242.2,436.9 243.0,435.9 243.8,435.7 244.5,436.6 245.3,435.6 246.1,434.8 246.9,434.8 247.6,434.6 248.4,434.5 249.2,433.7 250.0,434.3 250.7,433.3 251.4,434.2 252.1,433.3 252.8,431.7 253.5,431.5 254.2,431.5 254.9,430.2 255.6,429.9 256.3,430.9 257.0,429.3 257.7,428.8 258.4,428.9 259.1,428.5 259.8,428.0 260.5,428.0 261.3,426.9 262.0,427.6 262.8,427.4 263.6,426.4 264.4,426.4 265.2,426.3 266.0,426.1 266.8,425.6 267.6,426.3 268.5,425.7 269.3,425.8 270.1,425.6 270.9,426.1 271.7,425.4 272.5,426.3 273.2,424.8 274.0,424.9 274.8,425.1 275.6,424.7 276.4,423.9 277.2,425.2 277.9,423.4 278.7,422.4 279.5,422.7 280.2,423.1 280.9,422.5 281.7,421.3 282.5,421.0 283.2,421.7 284.0,420.6 284.9,420.5 285.7,419.5 286.6,419.8 287.4,420.3 288.3,419.1 289.1,420.3 290.0,420.1 290.9,420.1 291.7,420.2 292.6,420.3 293.5,420.6 294.3,419.1 295.1,420.1 295.9,419.1 296.7,419.0 297.5,419.0 298.3,418.5 299.1,418.6 300.0,417.5 300.8,417.9 301.6,417.2 302.5,416.1 303.3,416.2 304.1,417.3 305.0,416.5 305.8,416.9 306.6,416.6 307.4,416.4 308.2,418.1 309.0,417.5 309.8,416.4 310.6,417.1 311.4,417.3 312.3,416.3 313.1,416.9 313.9,418.3 314.7,418.5 315.5,418.7 316.4,417.6 317.2,418.4 318.0,418.4 318.8,418.3 319.6,418.1 320.5,418.4 321.3,417.4 322.1,416.8 323.0,418.0 323.8,419.0 324.6,417.6 325.4,417.8 326.3,418.2 327.1,417.5 327.9,418.2 328.7,417.8 329.5,417.9 330.2,417.6 331.0,418.3 331.9,418.7 332.8,419.2 333.6,418.5 334.5,418.4 335.3,419.2 336.1,419.9 337.0,419.1 337.8,420.1 338.6,421.2 339.4,420.6 340.2,419.4 341.0,419.8 341.7,419.1 342.5,418.8 343.2,420.2 343.9,418.4 344.6,417.7 345.3,417.5 346.0,416.2 346.7,417.0 347.4,415.9 348.1,415.0 348.8,414.9 349.4,414.4 350.1,413.9 350.7,412.4 351.5,412.9 352.3,413.9 353.1,412.6 353.9,412.6 354.7,412.5 355.5,413.4 356.3,413.2 357.0,413.3 357.7,414.4 358.5,413.8 359.2,415.2 360.0,415.4 360.7,415.9 361.5,416.7 362.2,416.8 363.0,417.3 363.8,418.7 364.5,418.2 365.2,419.0 366.0,419.1 366.7,419.4 367.4,420.5 368.1,420.2 368.8,421.7 369.6,422.3 370.3,422.6 371.1,422.5 371.9,422.3 372.7,422.9 373.4,424.7 374.2,422.9 375.0,423.8 375.8,423.5 376.6,423.4 377.5,422.7 378.3,422.4 379.1,422.9 380.0,422.9 380.8,422.7 381.7,423.0 382.5,422.2 383.3,421.9 384.1,422.7 384.9,422.6 385.8,421.6 386.6,423.4 387.4,423.3 388.2,423.8 389.0,423.3 389.9,423.7 390.7,423.1 391.5,423.2 392.3,424.7 393.1,423.7 393.9,423.1 394.7,423.7 395.5,424.0 396.3,423.8 397.1,423.4 397.9,424.1 398.8,423.7 399.6,424.2 400.4,423.3 401.2,424.2 402.0,423.5 402.9,423.3 403.7,423.1 404.5,423.7 405.3,423.5 406.1,422.8 406.9,423.7 407.7,423.5 408.5,424.2 409.3,423.6 410.1,424.6 410.9,425.7 411.8,424.7 412.6,426.1 413.5,425.3 414.3,425.1 415.2,425.8 416.0,426.8 416.8,425.3 417.6,425.7 418.4,426.9 419.2,426.1 420.0,426.4 420.8,425.3 421.7,426.6 422.5,425.6 423.3,426.3 424.2,427.1 425.0,425.9 425.8,426.4 426.7,427.9 427.5,427.5 428.3,427.4 429.1,427.7 429.9,427.6 430.7,428.3 431.5,427.2 432.3,428.6 433.1,428.1 433.8,428.1 434.6,428.6 435.4,427.8 436.1,429.2 436.9,428.8 437.7,430.4 438.4,429.6 439.2,431.0 439.9,430.9 440.7,431.8 441.4,431.1 442.2,431.3 442.9,430.6 443.7,431.3 444.5,431.9 445.3,431.8 446.1,432.6 447.0,432.7 447.8,433.2 448.6,434.1 449.4,434.1 450.2,434.6 451.0,434.9 451.7,435.6 452.4,434.8 453.1,435.1 453.8,435.1 454.4,435.2 455.3,435.4 456.1,435.0 456.9,434.8 457.7,433.2 458.4,433.4 459.3,433.6 460.0,434.3 460.8,434.2 461.6,435.0 462.4,435.2 463.2,435.2 464.0,435.1 464.9,435.6 465.7,436.6 466.6,435.9 467.4,437.5 468.2,438.1 469.1,438.0 469.9,438.7 470.8,438.6 471.6,438.2 472.5,439.3 473.3,438.3 474.1,439.3 474.9,437.5 475.6,438.7 476.5,438.2 477.3,438.9 478.1,438.4 478.9,438.6 479.8,438.8 480.4,438.0 481.1,438.1 481.8,437.9 482.5,437.0 483.3,435.7 484.1,435.3 484.8,435.2 485.6,435.7 486.4,436.2 487.3,434.9 488.0,434.2 488.8,434.8 489.6,434.6 490.4,433.8 491.2,434.8 492.0,434.7 492.8,434.8 493.6,435.5 494.4,436.4 495.3,436.6 496.1,437.2 496.9,436.8 497.7,437.1 498.6,438.1 499.4,438.2 500.1,438.4 500.9,437.9 501.6,436.9 502.4,436.6 503.2,437.5 503.9,436.2 504.7,436.5 505.5,435.4 506.3,434.1 507.0,434.4 507.8,434.4 508.6,434.7 509.3,433.6 510.1,434.2 510.8,434.2 511.6,433.4 512.4,434.0 513.1,434.4 513.9,433.7 514.7,435.4 515.4,435.5 516.2,435.4 516.9,435.9 517.7,436.5 518.4,436.7 519.2,437.4 519.9,438.0 520.7,437.4 521.5,437.2 522.2,437.9 523.0,437.0 523.7,436.8 524.5,435.2 525.3,435.9 526.0,434.7 526.8,434.8 527.5,433.8 528.3,434.2 529.0,433.1 529.8,433.5 530.5,432.6 531.3,432.7 532.1,432.3 532.9,433.8 533.7,433.4 534.5,434.3 535.3,434.2 536.1,434.3 536.9,433.6 537.7,434.6 538.6,434.6 539.3,434.2 540.0,433.1 540.8,434.5 541.5,432.6 542.3,433.2 543.1,431.5 543.9,432.2 544.7,433.0 545.5,432.2 546.3,431.3 547.1,431.3 547.9,430.1 548.7,430.2 549.4,431.2 550.2,429.7 551.0,429.5 551.7,429.0 552.6,429.4 553.4,429.8 554.3,429.0 555.1,429.5 556.0,429.3 556.8,429.6 557.7,429.2 558.5,429.6 559.3,429.1 560.0,430.9 560.8,430.3 561.5,429.6 562.2,431.7 563.0,430.6 563.6,431.5 564.3,431.9 564.9,432.0 565.5,433.4 566.2,433.5 566.8,433.9 567.4,434.2 568.0,434.3 568.6,435.6 569.1,437.1 569.6,437.0 570.1,437.4 570.6,437.9 571.2,438.5 571.7,439.6 572.2,440.0 572.8,440.9 573.3,441.4 573.9,442.5 574.6,442.6 575.3,442.6 576.1,443.7 576.8,444.0 577.6,445.4 578.5,443.6 579.3,444.6 580.2,443.9 581.0,445.6 581.9,445.6 582.7,446.2 583.6,445.9 584.4,446.8 585.2,445.5 585.9,446.9 586.7,447.1 587.5,448.4 588.2,448.2 589.0,449.4 589.8,448.5 590.5,448.6 591.3,450.8 592.0,450.2 592.8,450.9 593.5,451.5 594.2,451.4 595.0,451.1 595.7,450.6 596.4,449.9 597.1,450.5 597.8,449.3 598.5,448.1 599.2,448.6 599.9,448.0 600.6,445.9 601.4,445.6 602.2,446.2 602.9,446.8 603.7,445.5 604.5,445.1 605.3,446.5 606.1,444.7 606.9,446.1 607.7,445.2 608.6,446.0 609.4,445.8 610.3,445.6 611.1,446.0 612.0,445.3 612.9,445.4 613.6,444.9 614.4,445.4 615.2,444.9 616.0,445.7 616.8,445.8 617.6,445.3 618.4,445.3 619.2,445.7 620.0,445.5 620.9,444.6 621.7,445.2 622.5,445.6 623.3,445.3 624.2,446.2 625.0,446.1 625.8,445.4 626.6,445.7 627.3,446.1 628.1,446.0 629.0,445.9 629.8,445.4 630.6,445.7 631.5,445.1 632.3,445.2 633.1,445.0 633.9,445.0 634.8,445.0 635.6,444.7 636.4,444.0 637.2,444.7 637.9,443.5 638.7,444.3 639.5,443.9 640.3,443.9 641.2,443.9 642.0,443.8 642.8,443.0 643.7,442.2 644.5,443.2 645.3,443.4 646.1,442.5 646.9,441.5 647.7,442.7 648.6,442.0 649.4,441.2 650.2,440.1 651.0,441.3 651.8,441.9 652.5,440.4 653.3,440.0 654.1,440.0 654.9,440.0 655.7,439.2 656.4,438.8 657.2,438.6 658.0,438.9 658.7,438.0 659.5,437.4 660.2,438.5 660.9,437.2 661.6,435.4 662.4,437.0 663.3,436.7 664.1,435.8 664.9,435.2 665.7,435.8 666.5,434.6 667.2,435.1 667.9,434.3 668.6,433.8 669.3,434.3 670.1,433.3 670.9,431.5 671.7,432.5 672.4,431.9 673.1,431.4 673.8,431.6 674.4,430.2 674.9,429.7 675.4,428.4 676.0,427.5 676.5,426.9 677.0,426.3 677.5,426.1 678.0,425.1 678.4,424.7 678.8,423.7 679.1,422.3 679.5,421.0 679.8,421.2 680.1,421.0 680.4,419.5 680.7,418.5 680.9,417.9 681.2,417.8 681.5,416.8 681.8,415.4 682.1,415.1 682.4,414.1 682.7,413.5 682.9,413.3 683.2,412.2 683.5,411.6 683.8,409.8 684.0,410.4 684.3,408.2 684.5,407.0 684.8,407.4 685.0,407.2 685.3,406.0 685.5,405.7 685.8,405.0 686.1,404.1 686.3,402.5 686.5,401.8 686.8,400.4 687.0,400.0 687.2,399.4 687.4,398.9 687.5,396.9 687.7,395.5 687.8,396.0 688.0,395.3 688.2,395.2 688.3,394.1 688.5,393.2 688.6,392.9 688.8,391.2 688.9,390.9 689.1,390.6 689.2,390.2 689.4,389.1 689.5,387.3 689.7,387.3 689.8,385.6 690.0,385.0 690.1,383.7 690.3,383.0 690.4,381.9 690.6,381.7 690.7,380.3 690.8,380.0 691.0,379.3 691.1,379.1 691.2,376.9 691.4,377.2 691.5,376.6 691.6,375.9 691.8,374.7 691.9,374.0 692.1,373.3 692.2,372.4 692.3,371.8 692.5,371.2 692.6,370.9 692.8,369.0 692.9,368.2 693.1,367.8 693.2,366.3 693.4,365.8 693.5,364.6 693.7,364.3 693.8,363.4 694.0,362.7 694.1,361.7 694.3,360.6 694.5,360.3 694.6,359.0 694.8,358.2 695.0,357.9 695.2,356.6 695.3,354.8 695.5,355.0 695.7,353.4 695.8,353.6 696.0,354.0 696.2,352.6 696.4,350.1 696.5,351.7 696.7,349.8 696.9,348.7 697.0,348.3 697.2,347.2 697.3,347.5 697.3,349.0 697.4,350.0 697.5,350.8 697.5,351.6 697.6,351.9 697.7,353.0 697.7,353.2 697.8,354.8 697.9,356.2 697.9,355.8 698.0,357.1 698.0,358.8 698.1,357.5 698.2,358.6 698.2,361.3 698.3,361.7 698.3,362.5 698.4,362.6 698.4,363.8 698.5,364.6 698.5,365.9 698.6,365.9 698.6,366.3 698.6,366.7 698.6,368.3 698.7,368.5 698.7,369.4 698.7,368.9 698.7,370.6 698.7,371.2 698.8,372.2 698.8,372.8 698.8,373.0 698.8,374.3 698.8,374.4 698.9,375.4 698.9,376.7 698.9,377.1 698.9,377.0 698.9,378.0 698.9,379.1 699.0,380.3 699.0,380.3 699.0,381.0 699.0,381.3 699.0,381.7 699.0,383.4 699.1,383.8 699.1,384.1 699.1,386.0 699.1,386.2 699.1,387.9 699.1,387.9 699.1,388.5 699.1,390.3 699.2,390.3 699.2,391.8 699.2,392.5 699.2,392.2 699.2,393.1 699.2,394.2 699.2,395.9 699.2,396.0 699.3,398.3 699.3,398.7 699.3,399.6 699.3,400.1 699.3,401.3 699.3,402.1 699.3,402.7 699.3,403.4 699.3,404.0 699.3,405.4 699.4,405.8 699.4,406.4 699.4,408.2 699.4,409.0 699.4,409.8 699.4,411.5 699.4,412.6 699.4,413.9 699.4,413.7 699.4,415.4 699.5,416.1 699.5,417.6 699.5,418.1 699.5,418.8 699.5,419.6 699.5,420.6 699.5,421.7 699.5,422.0 699.5,422.0 699.5,422.5 699.5,424.5 699.5,424.3 699.5,425.7 699.6,425.2 699.6,425.8 699.6,425.9 699.6,428.0 699.6,427.5 699.6,428.6 699.6,429.8 699.6,430.2 699.6,430.7 699.6,430.7 699.6,432.7 699.6,432.6 699.6,434.0 699.6,433.7 699.6,435.4 699.6,435.6 699.6,436.1 699.6,436.1 699.6,438.1 699.7,437.2 699.7,439.7 699.7,439.7 699.7,441.0 699.7,441.6 699.7,442.8 699.7,441.7 699.7,443.5 699.7,443.9 699.7,444.4 699.7,445.6 699.7,446.1 699.7,447.8 699.7,447.4 699.7,448.5 699.7,449.9 699.7,449.7 699.7,451.2 699.7,452.0 699.7,452.1 699.7,452.9 699.7,453.7 699.7,455.1 699.7,455.5 699.7,455.1 699.7,457.4 699.7,456.7 699.8,458.0 699.8,458.2 699.8,459.5 699.8,460.8 699.8,461.7 699.8,462.4 699.8,462.5 699.8,464.1 699.8,465.1 699.8,464.5 699.8,466.6 699.8,466.9 699.8,467.5 699.8,468.4 699.8,469.4 699.8,470.2 699.8,471.4 699.8,472.0 699.8,472.8 699.8,473.5 699.8,474.5 699.8,475.9 699.8,476.8 699.8,477.4 699.8,477.4 699.8,479.4 699.8,479.3 699.8,479.7 699.8,481.0 699.8,482.2 699.8,482.9 699.8,483.7 699.8,484.0 699.8,485.7 699.8,486.1 699.8,487.0 699.8,488.2 699.8,489.3 699.8,489.3 699.8,490.5 699.8,491.5 699.8,492.1 699.8,493.0 699.8,494.1 699.8,494.5 699.8,495.7 699.8,495.5 699.9,497.1 699.9,498.8 699.9,498.8 699.9,499.4 699.9,499.9 699.9,502.2 699.9,502.4 699.9,504.0 699.9,504.8 699.9,505.1 699.9,506.4 699.9,506.7 699.9,507.6 699.9,508.1 699.9,509.0 699.9,510.6 699.9,511.5 699.9,511.7 699.9,513.5 699.9,513.9 699.9,514.0 699.9,515.2 699.9,515.9 699.9,517.3 699.9,518.0 699.9,518.6 699.9,519.8 699.9,521.0 699.9,521.9 699.9,522.6 699.9,523.1 699.9,523.7 699.9,524.7 699.9,526.0 699.9,526.8 699.9,528.4 699.9,528.8 699.9,529.3 699.9,529.8 699.9,530.0 699.9,531.0 699.9,532.6 699.9,534.1 699.9,535.4 699.9,535.8 699.9,536.6 699.9,537.3 699.9,538.1 699.9,539.0 699.9,539.4 699.9,540.1 699.9,542.2 699.9,542.4 699.9,544.2 699.9,544.7 699.9,546.2 699.9,546.2 699.9,546.3 699.9,548.4 699.9,548.0 699.9,549.7 699.9,550.0 699.9,550.6 699.9,552.0 699.9,552.1 699.9,553.7 699.9,554.6 699.9,554.8 699.9,555.7 700.0,556.7 700.0,557.6 700.0,558.6 700.0,558.7 700.0,560.1 700.0,560.2 700.0,561.4 700.0,562.3 700.0,563.5 700.0,564.9 700.0,565.1 700.0,566.2 700.0,567.4 700.0,567.6 700.0,568.1 700.0,569.4 700.0,570.4 700.0,570.5 700.0,571.6 700.0,572.7 700.0,573.1 700.0,574.0 700.0,574.8" fill="none" stroke="#0000ff" stroke-width="2.6" stroke-linejoin="round" stroke-linecap="round" stroke-opacity="0.90"/>
<polyline points="130.0,569.1 130.0,568.4 130.1,566.9 130.1,565.9 130.1,564.9 130.1,565.3 130.2,564.4 130.2,562.4 130.2,562.2 130.3,561.3 130.3,560.1 130.3,560.5 130.3,559.2 130.4,558.8 130.4,558.8 130.4,556.8 130.4,555.5 130.5,554.4 130.5,555.2 130.5,553.9 130.5,552.4 130.6,551.7 130.6,551.0 130.6,551.1 130.6,550.2 130.7,548.3 130.7,548.5 130.7,547.3 130.7,546.1 130.8,545.8 130.8,545.3 130.8,544.1 130.9,543.0 130.9,542.7 130.9,540.3 131.0,540.6 131.0,539.7 131.0,539.6 131.1,537.6 131.1,536.7 131.1,536.7 131.2,535.4 131.2,535.0 131.3,533.9 131.3,532.5 131.4,532.7 131.4,532.0 131.4,530.5 131.5,529.7 131.6,528.5 131.6,529.2 131.7,527.9 131.7,526.9 131.8,525.8 131.8,525.0 131.9,524.9 132.0,524.8 132.0,522.3 132.1,522.2 132.1,521.6 132.2,520.5 132.3,519.7 132.3,519.0 132.4,519.1 132.5,517.4 132.6,516.1 132.6,515.0 132.7,514.2 132.8,513.0 132.8,513.4 132.9,512.6 133.0,511.7 133.1,511.5 133.1,510.6 133.2,509.2 133.3,507.7 133.4,508.3 133.4,507.2 133.5,506.0 133.6,504.0 133.7,504.9 133.8,503.2 133.8,501.7 133.9,501.9 134.0,501.6 134.1,500.9 134.1,499.2 134.2,499.1 134.3,497.9 134.4,497.0 134.4,495.8 134.5,496.2 134.6,493.8 134.7,494.5 134.7,493.0 134.8,492.0 134.9,491.1 134.9,490.8 135.0,489.6 135.1,488.5 135.1,488.1 135.2,487.5 135.3,486.8 135.4,485.5 135.4,484.2 135.5,483.3 135.6,483.0 135.6,482.3 135.7,481.2 135.8,480.4 135.8,479.8 135.9,479.1 136.0,478.2 136.1,477.6 136.1,476.2 136.2,474.7 136.3,474.6 136.3,473.5 136.4,472.5 136.5,472.2 136.5,470.3 136.6,470.0 136.7,469.2 136.7,469.0 136.8,467.3 136.9,467.1 136.9,466.8 137.0,465.5 137.1,464.9 137.2,463.7 137.2,462.9 137.3,462.6 137.4,461.0 137.4,459.7 137.5,460.3 137.6,458.6 137.6,458.4 137.7,457.7 137.8,457.6 137.9,457.1 137.9,455.3 138.0,455.3 138.1,453.7 138.2,453.4 138.3,452.2 138.4,451.5 138.5,449.6 138.5,449.4 138.6,448.6 138.7,447.6 138.8,447.2 138.9,445.9 139.0,444.4 139.1,443.4 139.2,442.9 139.4,443.2 139.5,442.2 139.7,440.9 139.9,440.6 140.1,440.2 140.5,439.1 141.1,437.9 141.6,437.8 142.2,438.1 142.7,436.9 143.3,436.4 144.1,436.3 144.8,437.5 145.5,437.1 146.3,438.0 147.0,438.9 147.8,438.3 148.5,438.9 149.3,439.5 150.0,439.4 150.8,438.9 151.5,440.3 152.3,440.0 153.1,441.9 153.8,441.3 154.6,442.2 155.3,442.5 156.1,441.9 156.8,443.2 157.6,443.5 158.4,444.1 159.2,443.7 159.9,443.7 160.7,444.0 161.5,444.3 162.3,444.6 163.0,444.5 163.8,445.7 164.6,445.1 165.4,445.4 166.2,445.2 167.0,445.0 167.8,444.7 168.6,444.7 169.4,443.8 170.2,443.9 171.0,444.3 171.9,444.0 172.7,442.9 173.5,442.7 174.3,443.2 175.2,442.3 176.0,442.4 176.8,442.5 177.6,442.1 178.4,442.5 179.2,442.8 180.0,442.3 180.8,442.7 181.7,442.8 182.5,443.0 183.3,442.1 184.2,443.7 185.0,442.5 185.8,443.0 186.6,442.6 187.5,443.3 188.3,444.2 189.1,443.8 189.9,442.1 190.7,443.7 191.5,443.7 192.3,443.9 193.2,444.7 194.0,444.6 194.8,445.0 195.6,445.4 196.4,445.5 197.2,445.9 198.0,446.1 198.8,445.9 199.6,446.0 200.5,446.5 201.3,446.6 202.2,447.0 203.0,446.6 203.8,447.3 204.6,446.9 205.4,445.6 206.2,447.4 207.0,447.8 207.8,446.2 208.7,446.3 209.5,448.0 210.3,447.7 211.2,446.9 212.0,447.8 212.8,447.2 213.7,446.7 214.5,446.8 215.3,448.1 216.1,447.2 216.9,447.4 217.7,447.7 218.5,447.9 219.4,448.0 220.2,446.8 221.0,448.1 221.9,448.3 222.7,447.9 223.5,447.8 224.3,447.5 225.2,447.2 226.0,447.3 226.8,448.1 227.6,447.4 228.4,448.1 229.2,447.8 230.0,449.3 230.8,448.9 231.6,448.7 232.4,448.8 233.1,449.2 233.9,449.2 234.7,449.2 235.4,449.3 236.2,449.6 237.0,449.3 237.7,450.6 238.5,450.3 239.2,450.7 240.0,450.6 240.8,451.5 241.5,451.9 242.3,450.9 243.1,451.3 243.8,451.8 244.6,451.3 245.4,453.4 246.3,452.7 247.1,452.1 248.0,453.7 248.9,454.1 249.8,453.2 250.7,453.1 251.5,454.2 252.4,453.9 253.2,454.7 254.1,454.8 254.9,454.7 255.6,455.9 256.4,455.3 257.1,454.6 257.7,455.2 258.6,454.5 259.5,455.9 260.2,455.2 260.9,456.2 261.7,457.3 262.5,455.8 263.2,456.0 264.0,455.7 264.8,454.7 265.6,455.4 266.4,454.6 267.2,455.4 267.9,453.8 268.7,453.8 269.4,453.5 270.1,453.1 270.8,452.1 271.5,452.4 272.2,451.9 272.8,451.5 273.5,450.5 274.3,449.3 275.0,450.4 275.8,450.1 276.6,449.8 277.4,450.2 278.3,451.3 279.1,450.3 280.0,451.2 280.8,451.6 281.6,451.8 282.3,452.9 283.2,451.9 284.0,452.6 284.8,453.2 285.6,452.4 286.5,453.7 287.2,453.3 287.9,453.6 288.6,452.6 289.4,451.8 290.2,452.5 291.0,451.4 291.8,451.5 292.6,450.8 293.4,451.7 294.1,451.0 294.9,450.8 295.7,451.8 296.6,450.7 297.4,451.5 298.2,451.5 299.0,451.6 299.8,452.5 300.6,452.3 301.5,453.0 302.3,452.9 303.1,453.2 303.9,453.3 304.8,452.5 305.6,453.2 306.5,453.9 307.4,455.0 308.2,453.5 309.0,453.6 309.9,453.4 310.7,453.4 311.5,453.6 312.3,453.1 313.2,453.9 314.0,453.2 314.7,452.9 315.5,453.2 316.4,452.6 317.2,452.9 318.0,453.3 318.8,453.1 319.7,452.8 320.5,453.3 321.4,451.3 322.2,452.9 323.1,452.4 323.9,452.6 324.8,452.9 325.6,453.8 326.4,453.3 327.3,454.6 328.1,454.8 329.0,453.9 329.8,454.0 330.6,455.5 331.5,455.2 332.3,456.6 333.0,456.2 333.8,455.9 334.7,457.3 335.6,456.5 336.4,454.6 337.3,454.7 338.1,455.2 339.0,453.7 339.8,454.4 340.7,454.0 341.6,452.7 342.4,453.8 343.3,452.7 344.2,452.2 345.0,452.9 345.8,452.8 346.6,452.0 347.3,451.8 348.1,451.7 348.9,452.0 349.8,451.8 350.4,452.1 351.1,452.0 351.8,452.8 352.5,454.2 353.2,453.8 354.0,454.4 354.8,455.1 355.6,454.5 356.4,454.6 357.2,455.1 358.0,456.2 358.8,456.1 359.6,457.1 360.4,457.1 361.2,457.3 362.0,456.5 362.8,456.8 363.6,457.1 364.4,456.4 365.2,455.8 366.1,455.5 366.9,455.8 367.7,454.9 368.5,454.8 369.3,455.2 370.2,454.8 371.0,454.4 371.9,453.5 372.7,453.9 373.5,453.7 374.3,454.4 375.1,453.9 376.0,453.4 376.9,454.0 377.7,454.9 378.6,454.7 379.4,453.8 380.3,454.9 381.1,456.2 382.0,454.2 382.8,455.2 383.5,455.3 384.3,454.8 385.0,453.4 385.7,453.9 386.5,454.1 387.3,453.8 388.0,453.1 388.7,453.4 389.4,452.4 390.1,451.7 390.8,451.8 391.5,450.4 392.3,452.4 393.0,451.0 393.8,450.8 394.6,450.3 395.4,450.7 396.2,450.1 397.1,449.8 397.9,449.1 398.8,447.8 399.6,448.3 400.4,448.8 401.3,448.2 402.1,447.5 402.9,448.9 403.8,449.2 404.6,448.5 405.4,449.0 406.3,449.4 407.1,449.0 408.0,450.6 408.8,450.6 409.6,450.6 410.4,450.7 411.2,450.9 411.9,451.4 412.8,451.8 413.6,451.1 414.3,451.3 415.1,451.2 415.9,450.2 416.7,450.2 417.5,450.0 418.4,449.6 419.1,450.2 419.8,449.8 420.6,450.6 421.4,451.4 422.2,451.3 423.0,450.8 423.8,452.1 424.7,451.7 425.5,453.2 426.4,451.4 427.2,452.8 428.1,452.4 429.0,453.0 429.8,452.9 430.7,453.6 431.5,453.0 432.3,453.5 433.1,453.4 434.0,455.3 434.8,454.1 435.6,453.3 436.5,452.5 437.3,452.9 438.2,452.8 439.0,452.7 439.8,452.1 440.6,452.9 441.5,453.3 442.3,452.9 443.1,453.3 443.8,453.0 444.6,453.2 445.5,452.8 446.4,453.1 447.2,453.2 448.1,453.3 448.9,453.0 449.8,452.5 450.6,453.9 451.4,453.5 452.2,453.9 452.9,453.2 453.7,454.4 454.4,454.4 455.1,455.0 455.9,455.5 456.5,455.7 457.2,455.6 457.8,457.1 458.5,457.1 459.1,458.4 459.7,458.4 460.3,458.4 460.9,459.0 461.7,458.9 462.5,461.0 463.3,460.4 464.1,460.8 464.9,461.0 465.8,460.9 466.5,462.4 467.2,461.8 468.0,461.9 468.7,461.6 469.5,461.3 470.3,461.1 471.1,459.7 471.9,460.8 472.6,459.4 473.4,459.2 474.0,458.5 474.6,457.8 475.2,457.3 475.7,456.8 476.2,455.1 476.6,455.8 477.1,454.3 477.6,453.4 478.1,453.2 478.7,452.2 479.3,452.6 480.0,451.7 480.7,451.0 481.5,450.2 482.3,450.5 483.1,450.5 484.0,451.0 484.8,450.0 485.7,450.4 486.6,450.1 487.5,450.9 488.3,450.1 489.1,449.7 489.9,449.2 490.7,449.3 491.6,449.9 492.5,450.5 493.4,449.4 494.2,450.2 495.1,449.9 496.0,450.4 496.8,450.2 497.6,450.0 498.4,450.5 499.2,449.9 500.1,450.4 500.9,449.6 501.7,448.8 502.5,448.3 503.3,448.7 504.1,449.5 504.9,448.3 505.7,448.1 506.5,447.6 507.3,447.6 508.1,448.7 508.9,448.4 509.7,447.8 510.5,447.2 511.3,448.9 512.1,449.1 512.9,448.6 513.7,449.1 514.5,449.9 515.3,450.2 516.0,449.6 516.7,450.5 517.6,450.1 518.4,451.1 519.2,450.5 520.0,451.5 520.8,451.8 521.6,452.5 522.5,452.5 523.2,451.2 523.9,452.0 524.7,450.4 525.4,450.3 526.2,451.0 527.0,450.7 527.8,449.8 528.6,450.0 529.4,449.0 530.2,449.1 531.0,449.1 531.8,449.1 532.6,448.7 533.5,448.7 534.3,449.7 535.1,449.8 536.0,448.6 536.8,450.8 537.7,450.1 538.5,450.8 539.4,451.8 540.2,451.0 541.1,451.2 541.9,451.9 542.7,451.2 543.6,449.9 544.4,450.7 545.2,450.7 546.1,450.6 546.9,450.7 547.7,448.7 548.5,448.2 549.3,448.9 550.1,448.2 550.9,448.1 551.7,449.1 552.5,447.8 553.2,448.9 554.0,448.8 554.7,448.5 555.5,449.7 556.2,451.1 556.9,450.2 557.7,452.1 558.4,452.1 559.1,452.0 559.9,452.5 560.7,452.1 561.5,452.3 562.3,451.9 563.2,452.4 564.0,451.3 564.8,451.6 565.6,450.5 566.4,450.9 567.2,451.0 568.0,451.0 568.9,450.7 569.7,451.1 570.5,450.2 571.3,451.4 572.1,451.9 572.9,453.2 573.7,451.9 574.6,452.7 575.3,452.3 576.0,451.4 576.8,450.5 577.6,451.3 578.3,451.3 579.1,450.6 579.9,449.8 580.7,450.1 581.5,448.4 582.2,448.5 583.0,448.1 583.7,449.4 584.4,449.0 585.3,448.0 586.1,447.9 587.0,448.5 587.8,450.1 588.6,450.2 589.4,449.9 590.1,450.8 590.9,450.5 591.7,450.1 592.4,450.5 593.2,449.7 593.9,449.4 594.6,449.4 595.4,448.5 596.1,448.0 596.7,447.2 597.3,446.5 597.9,446.9 598.5,446.4 599.0,445.7 599.6,444.2 600.3,443.9 600.9,443.3 601.5,443.8 602.2,442.0 602.8,442.2 603.5,441.0 604.1,441.1 604.8,441.1 605.5,439.6 606.2,440.1 606.9,439.3 607.7,438.9 608.4,437.9 609.1,437.6 609.9,437.6 610.6,437.4 611.3,435.5 612.1,436.3 612.8,436.2 613.6,435.1 614.3,434.4 615.1,433.9 615.9,433.5 616.6,433.2 617.4,433.6 618.2,432.4 618.9,432.5 619.7,432.6 620.5,431.9 621.3,431.4 622.1,432.0 623.0,430.9 623.8,430.3 624.6,430.4 625.5,430.2 626.3,430.4 627.1,429.6 628.0,428.7 628.8,428.6 629.6,428.8 630.4,428.2 631.2,428.1 631.9,427.0 632.7,427.5 633.5,427.7 634.3,426.1 635.1,426.0 635.8,425.1 636.6,424.5 637.3,425.0 638.1,424.2 638.8,424.9 639.5,425.4 640.2,424.9 640.9,426.0 641.6,425.1 642.3,426.1 643.0,426.6 643.7,427.0 644.4,427.5 645.0,428.6 645.7,428.2 646.4,428.9 647.1,428.3 647.8,428.8 648.4,428.2 649.1,428.2 649.8,427.3 650.5,426.9 651.2,426.4 651.9,426.5 652.6,424.8 653.3,424.5 654.0,424.3 654.7,423.9 655.5,423.4 656.2,423.1 657.0,422.3 657.7,422.4 658.5,422.2 659.3,421.3 660.1,420.7 660.9,420.3 661.6,421.3 662.4,420.8 663.2,420.8 664.0,419.9 664.9,420.1 665.7,420.4 666.6,419.6 667.4,420.1 668.3,419.3 669.1,419.4 669.9,419.3 670.7,418.9 671.5,418.0 672.3,418.0 673.1,418.7 673.8,417.2 674.6,418.1 675.3,416.6 676.1,415.9 676.8,416.1 677.5,414.8 678.1,413.5 678.8,413.5 679.4,413.0 679.9,413.8 680.5,412.0 681.1,412.5 681.5,409.8 682.0,410.3 682.5,410.5 683.0,408.8 683.5,408.8 684.1,408.4 684.7,407.9 685.3,406.6 685.9,406.5 686.4,406.2 687.0,405.1 687.4,404.5 687.8,403.7 688.2,403.0 688.6,401.9 689.0,401.8 689.4,400.9 689.8,399.5 690.2,398.4 690.6,398.5 690.9,397.7 691.3,397.1 691.6,396.0 692.0,395.5 692.3,394.7 692.7,392.4 693.0,393.6 693.3,391.7 693.7,391.7 694.0,390.6 694.3,389.4 694.6,389.3 694.9,387.5 695.2,387.6 695.5,387.3 695.7,385.8 696.0,385.8 696.2,384.5 696.5,384.1 696.7,382.3 696.9,381.9 697.1,379.5 697.3,380.3 697.5,378.8 697.7,377.7 697.9,376.9 698.0,375.9 698.2,375.5 698.4,375.2 698.5,374.1 698.7,374.3 698.9,372.8 699.0,372.0 699.2,370.9 699.5,369.5 699.7,368.6 699.9,368.2 700.1,367.4 700.2,368.2 700.2,369.5 700.3,370.0 700.4,371.0 700.4,371.4 700.5,372.5 700.5,372.4 700.6,373.8 700.7,373.8 700.7,376.6 700.8,376.0 700.8,377.3 700.9,378.0 701.0,378.4 701.0,380.6 701.0,380.6 701.0,380.4 701.0,382.0 701.1,381.5 701.1,382.6 701.1,382.0 701.1,383.1 701.1,383.8 701.1,384.3 701.1,384.8 701.2,384.9 701.2,386.7 701.2,386.0 701.2,386.7 701.2,387.5 701.2,388.1 701.2,388.8 701.2,388.8 701.2,389.6 701.2,390.5 701.2,390.7 701.3,392.7 701.3,391.9 701.3,392.9 701.3,393.3 701.3,395.1 701.3,395.0 701.3,397.0 701.3,396.6 701.3,397.8 701.3,398.3 701.3,398.1 701.3,400.3 701.3,399.8 701.3,400.7 701.3,402.9 701.3,402.5 701.3,403.0 701.3,403.7 701.3,405.1 701.4,406.7 701.4,406.2 701.4,406.3 701.4,407.1 701.4,409.6 701.4,410.2 701.4,410.8 701.4,412.3 701.4,412.0 701.4,413.4 701.4,414.4 701.4,415.0 701.4,416.4 701.4,416.3 701.4,416.8 701.4,418.2 701.4,419.3 701.4,419.5 701.4,422.0 701.4,421.8 701.4,422.1 701.4,423.2 701.4,424.3 701.4,425.8 701.4,426.4 701.4,427.2 701.4,428.3 701.4,428.8 701.4,430.4 701.4,430.5 701.4,432.1 701.4,432.9 701.4,433.1 701.4,435.1 701.3,435.2 701.3,436.2 701.3,437.9 701.3,438.2 701.3,439.0 701.3,439.8 701.3,439.9 701.3,441.9 701.3,442.2 701.3,443.9 701.3,444.8 701.3,445.3 701.3,446.5 701.3,447.8 701.3,449.0 701.3,450.2 701.3,450.6 701.3,451.7 701.3,452.5 701.3,454.5 701.3,455.0 701.3,455.0 701.3,456.5 701.3,457.2 701.3,457.8 701.3,458.5 701.3,459.6 701.3,460.9 701.3,460.8 701.3,462.7 701.3,463.2 701.3,464.4 701.3,465.2 701.3,465.8 701.3,466.3 701.3,467.8 701.3,467.9 701.3,468.3 701.3,469.1 701.3,471.3 701.3,472.5 701.3,473.2 701.3,473.2 701.3,474.4 701.3,476.0 701.3,475.8 701.3,476.8 701.3,477.8 701.3,478.3 701.3,479.2 701.3,479.7 701.3,480.2 701.3,481.8 701.3,482.4 701.3,483.9 701.3,484.5 701.3,484.9 701.3,484.8 701.3,485.7 701.3,487.9 701.3,489.0 701.3,489.6 701.3,489.4 701.3,491.0 701.3,491.5 701.3,492.3 701.3,493.6 701.3,494.1 701.3,495.7 701.3,495.6 701.3,496.2 701.3,497.3 701.3,497.4 701.3,498.1 701.3,499.4 701.3,499.9 701.4,501.6 701.4,501.5 701.4,502.5 701.4,503.6 701.4,504.8 701.4,505.4 701.4,506.6 701.4,506.0 701.4,507.3 701.4,507.9 701.4,508.6 701.4,510.0 701.4,511.3 701.4,512.3 701.4,512.9 701.4,513.8 701.4,513.6 701.4,514.4 701.4,515.6 701.4,515.6 701.4,517.0 701.4,517.3 701.4,518.8 701.4,519.9 701.4,520.6 701.4,520.3 701.4,521.7 701.4,522.7 701.4,524.2 701.4,524.3 701.4,525.5 701.4,525.9 701.4,527.6 701.4,527.3 701.4,528.9 701.4,528.6 701.4,530.0 701.4,530.3 701.4,531.2 701.4,533.0 701.4,532.8 701.4,533.1 701.4,534.4 701.4,535.1 701.4,536.7 701.4,537.9 701.4,538.4 701.4,537.9 701.4,539.1 701.4,540.8 701.4,541.4 701.4,542.1 701.4,542.0 701.4,543.5 701.4,544.2 701.4,545.9 701.4,545.8 701.4,547.4 701.4,546.9 701.4,548.2 701.4,548.8 701.4,550.0 701.5,550.7 701.5,551.7 701.5,551.4 701.5,552.8 701.5,553.7 701.5,554.9 701.5,555.0 701.5,557.1 701.5,558.1 701.5,558.2 701.5,558.6 701.5,559.5 701.5,560.5 701.5,561.3 701.5,562.6 701.5,562.1 701.5,563.8 701.5,565.3 701.5,565.1 701.5,566.0 701.5,567.4 701.5,568.3 701.5,568.9 701.5,568.9 701.5,570.6 701.5,570.3 701.5,572.1 701.5,572.6 701.5,572.9 701.5,573.4 701.5,575.0" fill="none" stroke="#0000ff" stroke-width="2.6" stroke-linejoin="round" stroke-linecap="round" stroke-opacity="0.90"/>
<polyline points="130.0,569.2 130.1,568.8 130.2,567.7 130.3,566.8 130.3,565.2 130.4,565.2 130.5,563.4 130.6,564.1 130.7,562.5 130.7,562.7 130.8,561.0 130.9,559.9 131.0,559.3 131.1,559.3 131.2,557.1 131.3,556.5 131.4,556.1 131.5,554.8 131.6,554.9 131.7,555.0 131.8,552.6 131.9,552.7 132.0,551.3 132.1,550.8 132.2,550.1 132.3,548.2 132.4,548.1 132.5,547.5 132.6,546.5 132.7,545.3 132.8,544.8 132.9,543.6 133.0,543.4 133.2,542.2 133.3,541.2 133.4,540.9 133.5,539.1 133.6,538.2 133.8,538.4 133.9,537.6 134.0,536.8 134.1,535.3 134.3,534.5 134.4,533.1 134.5,532.8 134.6,533.3 134.8,531.7 134.9,530.2 135.0,530.1 135.1,529.3 135.3,528.6 135.4,526.8 135.6,525.8 135.7,525.3 135.8,524.8 136.0,523.5 136.1,523.5 136.2,522.0 136.4,521.2 136.5,519.6 136.6,518.5 136.8,517.6 136.9,518.6 137.1,516.2 137.3,516.5 137.4,515.8 137.6,513.9 137.8,513.3 138.0,513.1 138.3,512.4 138.5,512.4 139.0,510.2 139.5,510.7 140.1,510.0 140.7,510.5 141.5,508.9 142.2,508.0 142.9,508.1 143.8,509.6 144.6,509.7 145.5,509.8 146.5,509.9 147.3,510.1 148.2,510.5 148.9,509.0 149.7,509.1 150.4,508.4 151.1,508.7 151.8,508.4 152.4,507.4 153.1,507.9 153.8,505.8 154.6,505.7 155.4,505.6 156.2,504.8 157.1,505.8 157.9,504.8 158.7,504.8 159.5,504.5 160.3,505.5 161.1,505.6 161.9,505.4 162.8,506.7 163.6,506.5 164.4,507.6 165.2,507.3 166.1,507.7 166.9,508.1 167.7,508.5 168.5,509.3 169.3,509.7 170.2,509.4 171.0,510.7 171.8,510.0 172.6,511.4 173.4,511.7 174.1,511.8 174.8,511.3 175.5,512.3 176.2,513.9 176.9,513.3 177.6,515.1 178.4,514.7 179.1,515.0 179.8,514.8 180.5,517.2 181.2,516.5 181.9,516.4 182.7,516.3 183.4,518.1 184.1,518.3 184.8,518.4 185.4,517.7 186.0,516.8 186.6,516.5 187.2,515.8 187.8,514.9 188.4,515.0 188.9,514.3 189.3,513.4 189.6,511.7 189.9,511.4 190.1,511.5 190.4,510.4 190.6,509.2 190.9,508.6 191.1,508.1 191.4,506.8 191.6,506.4 191.9,504.9 192.2,504.7 192.6,503.6 192.9,502.3 193.3,502.1 193.7,501.1 194.1,501.0 194.5,500.2 195.0,499.3 195.5,499.3 196.0,497.3 196.6,497.9 197.2,496.4 197.9,496.1 198.5,496.3 199.2,495.5 199.9,495.4 200.6,494.3 201.2,493.9 202.0,495.1 202.8,494.7 203.6,495.9 204.3,495.4 205.0,496.5 205.4,497.0 205.7,498.2 206.0,498.7 206.2,499.3 206.5,499.7 206.7,502.4 206.9,502.6 207.2,503.2 207.5,503.7 207.8,505.5 208.2,504.6 208.7,505.8 209.4,507.1 210.1,507.4 210.9,507.3 211.8,507.9 212.7,508.9 213.6,507.8 214.4,507.4 215.2,507.6 215.8,507.1 216.4,507.3 216.9,506.4 217.5,506.0 218.0,503.7 218.5,503.7 219.0,503.4 219.6,501.7 220.1,501.7 220.6,500.7 221.2,499.9 221.8,500.2 222.6,500.5 223.4,500.0 224.3,500.3 225.1,500.9 226.0,501.4 226.8,501.7 227.6,502.3 228.3,502.0 228.9,503.1 229.4,503.4 229.9,505.5 230.4,504.9 230.8,506.3 231.3,506.0 231.7,506.7 232.2,508.1 232.6,508.6 233.0,509.5 233.5,510.1 234.0,511.1 234.5,511.6 235.0,511.1 235.6,512.3 236.1,513.6 236.6,513.3 237.1,513.9 237.6,515.0 238.1,515.8 238.5,515.3 238.8,514.0 239.1,513.6 239.5,512.3 239.8,511.5 240.1,511.4 240.5,510.0 240.8,509.3 241.1,508.1 241.5,507.8 241.8,507.5 242.2,504.9 242.5,505.2 242.9,504.9 243.3,504.3 243.7,504.5 244.2,503.6 244.6,503.8 245.4,502.6 246.2,502.0 247.0,502.0 247.9,500.0 248.7,501.2 249.6,499.7 250.4,500.2 251.2,500.7 251.8,500.5 252.4,499.7 252.9,501.6 253.5,500.9 254.0,502.4 254.5,502.5 255.1,504.2 255.6,504.5 256.1,505.3 256.6,505.6 257.2,506.5 257.7,507.3 258.2,507.1 258.7,506.5 259.2,506.0 259.7,505.4 260.3,504.0 260.8,503.5 261.3,503.4 261.8,502.2 262.4,500.6 263.0,501.4 263.6,500.8 264.3,500.4 264.9,499.6 265.6,498.7 266.3,498.6 267.0,498.7 267.7,498.3 268.4,497.4 269.1,497.6 269.8,496.5 270.3,497.2 270.7,497.9 271.2,499.1 271.7,499.2 272.1,499.8 272.6,499.9 273.1,500.6 273.5,501.9 274.0,502.0 274.5,503.7 274.9,503.8 275.4,503.7 275.9,505.2 276.3,506.0 276.8,507.3 277.3,507.0 277.7,507.2 278.2,508.0 278.7,509.1 279.1,509.8 279.6,510.2 280.2,509.3 280.7,509.2 281.3,507.7 281.8,507.9 282.4,507.2 283.0,507.3 283.5,505.9 284.1,505.2 284.6,505.4 285.2,504.2 285.8,502.6 286.3,502.6 286.9,502.5 287.4,502.0 288.0,501.3 288.5,501.0 289.1,501.1 289.7,500.1 290.2,498.8 290.8,498.1 291.3,497.4 291.9,497.5 292.4,498.1 293.0,498.7 293.5,500.2 294.0,499.8 294.6,499.7 295.1,501.0 295.6,501.8 296.1,501.5 296.7,501.9 297.2,503.4 297.7,503.5 298.3,504.4 298.8,505.1 299.3,505.5 299.9,506.1 300.4,506.8 300.9,507.3 301.4,508.2 302.0,508.3 302.5,509.3 303.2,508.7 303.8,508.0 304.5,508.5 305.1,507.9 305.8,506.3 306.4,506.9 307.1,505.9 307.7,505.4 308.4,504.9 309.0,504.5 309.7,504.6 310.3,503.2 311.0,502.7 311.6,502.4 312.3,502.5 312.9,502.7 313.6,503.1 314.2,504.1 314.9,504.8 315.5,504.9 316.2,505.3 316.8,506.3 317.5,507.0 318.2,507.3 318.8,508.4 319.4,508.6 320.1,509.2 320.7,510.2 321.3,510.0 321.9,510.6 322.5,510.7 323.1,510.7 323.7,511.0 324.5,511.0 325.2,511.1 325.9,510.4 326.6,509.6 327.3,509.1 328.0,508.1 328.8,508.3 329.5,509.2 330.3,507.6 330.9,507.3 331.5,507.7 332.1,509.0 332.7,508.9 333.3,510.0 333.9,509.0 334.6,509.9 335.2,509.9 335.9,511.9 336.6,511.7 337.2,512.9 337.9,513.9 338.6,514.0 339.3,515.7 340.0,515.6 340.6,516.9 341.3,516.2 342.0,516.7 342.6,518.0 343.3,518.9 343.6,516.2 344.0,516.7 344.3,515.8 344.6,514.5 344.9,515.0 345.2,513.6 345.5,512.4 345.8,511.6 346.2,510.9 346.5,510.8 346.9,509.8 347.3,509.4 347.7,509.1 348.2,508.1 348.8,507.9 349.5,506.7 350.3,506.5 351.0,506.3 351.8,505.4 352.6,505.5 353.3,504.7 354.1,505.9 354.8,505.5 355.4,505.4 356.0,505.6 356.6,505.2 357.2,507.4 357.8,506.7 358.3,508.2 358.9,508.3 359.5,509.9 360.0,510.3 360.6,511.0 361.2,511.0 361.9,510.3 362.6,510.8 363.3,509.9 364.0,510.0 364.7,509.0 365.4,509.9 366.1,507.6 366.8,508.2 367.5,507.4 368.2,506.7 368.9,506.3 369.7,506.9 370.4,505.6 371.1,506.0 371.9,506.1 372.7,506.5 373.5,506.1 374.4,505.9 375.2,505.7 376.1,507.1 376.9,506.6 377.7,506.6 378.5,507.8 379.3,507.7 380.1,507.2 380.9,506.8 381.5,507.2 382.2,507.3 382.8,505.0 383.4,505.5 384.1,505.6 384.7,504.3 385.3,502.9 385.9,502.3 386.5,501.5 387.1,500.4 387.6,500.4 388.2,501.1 388.7,499.4 389.3,498.4 389.8,498.5 390.2,496.6 390.7,497.7 391.6,498.0 392.3,497.1 393.1,497.0 393.9,496.9 394.6,496.7 395.3,497.0 396.1,498.0 396.9,497.5 397.7,498.4 398.5,498.9 399.3,499.8 400.0,498.9 400.8,500.2 401.6,500.5 402.4,500.8 403.2,501.1 404.0,500.5 404.9,501.0 405.5,500.4 406.1,501.0 406.8,500.5 407.5,500.4 408.2,499.1 408.9,498.3 409.6,498.8 410.4,497.8 411.1,498.3 411.8,496.4 412.6,495.7 413.3,495.8 414.0,494.9 414.7,495.5 415.4,495.9 416.0,496.2 416.7,496.8 417.3,495.7 418.0,497.8 418.6,497.6 419.2,499.2 419.9,499.8 420.5,499.3 421.2,500.1 421.8,500.4 422.5,501.3 423.1,501.5 423.8,502.5 424.5,502.6 425.3,502.4 426.1,502.5 426.9,502.6 427.8,502.1 428.6,503.0 429.5,502.1 430.3,502.1 431.2,500.4 432.0,500.7 432.8,500.7 433.6,501.1 434.3,501.5 435.0,501.5 435.6,501.8 436.2,502.1 436.7,503.3 437.3,502.5 437.8,505.6 438.4,506.2 438.9,506.6 439.5,507.0 440.0,507.5 440.6,508.4 441.2,509.2 441.8,509.4 442.5,509.8 443.2,509.9 443.9,508.0 444.6,508.6 445.4,508.5 446.2,507.9 447.0,507.6 447.8,506.9 448.6,506.6 449.4,505.6 450.2,505.7 451.0,504.6 451.8,504.6 452.5,504.2 453.2,504.2 453.9,504.2 454.6,505.1 455.3,504.9 455.9,505.6 456.5,505.8 457.1,506.4 457.7,508.0 458.3,509.5 458.9,508.8 459.5,509.2 460.1,509.5 460.7,511.8 461.4,511.6 462.1,512.5 462.9,511.6 463.6,511.8 464.5,510.5 465.3,511.6 466.1,511.9 467.0,510.8 467.8,510.7 468.7,510.5 469.5,509.5 470.3,508.9 471.1,509.8 471.9,508.6 472.6,510.0 473.3,510.1 474.0,510.4 474.7,510.3 475.3,511.6 476.0,512.4 476.6,513.2 477.3,514.0 478.0,513.4 478.6,514.6 479.4,514.9 480.1,515.8 480.8,514.8 481.5,514.5 482.2,514.8 483.0,513.9 483.7,513.8 484.5,512.9 485.3,512.7 486.0,511.6 486.8,511.1 487.6,511.8 488.4,509.9 489.2,510.7 490.0,509.5 490.7,509.5 491.5,509.3 492.3,509.8 493.0,509.6 493.8,509.9 494.5,509.6 495.3,510.2 496.0,510.7 496.8,510.9 497.5,512.8 498.3,512.5 499.1,512.8 499.8,512.2 500.6,513.2 501.4,514.1 502.1,514.3 502.9,514.2 503.7,514.1 504.6,514.3 505.4,513.9 506.3,515.2 507.1,514.3 508.0,513.3 508.9,514.0 509.7,513.5 510.6,513.8 511.4,512.3 512.2,513.0 513.0,512.7 513.7,512.4 514.4,512.7 515.2,512.5 516.0,513.7 516.7,513.6 517.4,514.9 518.1,515.0 518.8,515.0 519.5,514.9 520.2,516.2 520.9,517.1 521.5,517.8 522.1,517.0 522.8,518.1 523.4,518.3 524.0,519.4 524.7,520.6 525.3,521.1 525.9,522.0 526.6,522.0 527.2,522.6 527.8,523.4 528.5,523.5 529.1,523.8 529.9,523.2 530.7,524.4 531.5,523.7 532.3,523.5 533.1,522.6 533.9,522.2 534.7,522.3 535.6,522.0 536.3,522.4 537.1,521.9 537.9,522.2 538.7,522.7 539.5,522.7 540.4,524.6 541.2,523.5 542.0,525.1 542.8,524.4 543.5,524.6 544.2,525.4 544.9,524.6 545.7,525.7 546.5,524.6 547.2,523.8 547.9,523.3 548.5,522.5 549.2,522.6 549.8,521.8 550.3,521.8 550.8,521.0 551.3,519.3 551.8,519.7 552.3,519.8 552.8,517.6 553.2,516.9 553.7,517.1 554.2,514.8 554.7,515.8 555.3,513.2 555.8,513.6 556.4,513.0 556.9,513.0 557.5,511.4 558.2,512.7 558.8,510.6 559.6,510.1 560.3,509.7 561.0,509.8 561.8,509.2 562.6,508.7 563.4,509.3 564.2,509.1 565.1,509.1 566.0,508.5 566.9,508.1 567.7,508.1 568.6,507.7 569.4,508.5 570.2,508.4 570.9,507.3 571.7,507.0 572.5,506.2 573.3,505.9 574.1,504.8 574.8,505.2 575.6,505.2 576.4,505.6 577.1,504.8 577.8,504.0 578.5,503.7 579.2,503.4 580.0,503.4 580.7,502.8 581.5,502.7 582.2,502.8 582.9,502.2 583.6,501.6 584.3,500.4 585.0,501.2 585.7,499.9 586.5,499.7 587.3,500.7 588.1,500.4 588.9,501.1 589.7,501.1 590.6,501.6 591.4,501.4 592.3,501.5 593.1,501.0 593.8,500.8 594.6,500.7 595.5,500.2 596.3,499.4 597.1,498.4 598.0,499.0 598.8,498.7 599.7,499.2 600.5,498.3 601.3,499.3 602.1,498.5 602.9,498.0 603.8,498.4 604.6,498.2 605.4,499.1 606.3,499.0 607.1,499.0 607.9,499.7 608.7,499.4 609.5,500.0 610.3,499.2 611.1,500.1 611.8,499.3 612.5,499.5 613.2,498.9 614.0,497.6 614.7,498.0 615.4,497.4 616.1,497.0 616.9,496.6 617.6,495.7 618.4,494.7 619.1,495.0 619.8,494.8 620.6,493.3 621.3,493.5 622.1,493.0 622.8,493.4 623.6,492.3 624.4,492.4 625.1,492.4 625.9,491.9 626.7,490.7 627.4,492.1 628.2,492.3 629.0,492.0 629.8,490.9 630.6,491.4 631.4,492.9 632.2,491.3 633.0,492.4 633.8,492.7 634.6,493.1 635.5,493.1 636.3,492.6 637.1,493.0 638.0,493.0 638.7,492.9 639.5,493.4 640.3,492.8 641.0,492.2 641.8,492.6 642.6,491.4 643.4,490.9 644.2,491.3 645.0,490.8 645.8,491.2 646.6,490.2 647.4,490.6 648.2,489.1 649.0,488.4 649.7,489.4 650.4,488.8 651.1,488.9 651.9,489.8 652.7,489.6 653.5,488.8 654.2,489.7 655.0,489.8 655.7,490.7 656.4,491.0 657.1,491.8 657.8,491.0 658.6,492.1 659.3,491.5 659.7,491.7 660.1,491.7 660.5,490.6 660.8,489.5 661.2,489.0 661.6,487.7 662.0,486.8 662.2,486.1 662.4,485.5 662.7,484.5 662.9,484.1 663.1,483.0 663.4,482.1 663.6,482.1 663.8,480.8 664.0,480.1 664.3,480.2 664.5,478.9 664.7,476.9 664.9,477.8 665.1,475.6 665.4,475.8 665.6,474.3 665.8,472.9 666.0,471.5 666.2,471.2 666.4,471.0 666.5,470.5 666.7,469.6 666.8,469.1 667.0,468.3 667.1,467.8 667.3,467.1 667.4,466.0 667.6,465.3 667.8,463.8 667.9,463.5 668.1,462.5 668.2,461.9 668.4,460.7 668.5,459.2 668.6,458.6 668.8,458.1 668.9,456.8 669.1,457.2 669.2,456.2 669.4,455.0 669.5,454.0 669.6,452.4 669.8,452.0 669.9,451.7 670.0,450.3 670.2,449.1 670.3,449.2 670.4,448.6 670.6,447.5 670.7,446.6 670.8,446.5 670.9,444.7 671.1,444.6 671.2,444.5 671.4,442.2 671.5,442.3 671.6,440.6 671.8,440.1 671.9,439.1 672.0,438.7 672.1,437.4 672.3,435.7 672.4,436.4 672.5,435.4 672.6,433.9 672.8,434.0 672.9,432.3 673.0,432.5 673.1,431.7 673.2,430.6 673.4,430.1 673.5,429.5 673.7,429.2 673.9,429.8 674.2,430.2 674.4,431.9 674.6,433.7 674.8,433.3 675.1,433.2 675.2,436.1 675.4,435.2 675.5,436.3 675.6,437.4 675.6,438.1 675.6,439.9 675.6,439.8 675.6,440.3 675.6,441.0 675.6,442.2 675.6,444.0 675.6,444.2 675.6,445.7 675.5,445.9 675.5,447.5 675.6,448.4 675.6,448.5 675.6,450.4 675.7,451.3 675.8,451.1 675.9,451.0 676.0,452.6 676.2,453.2 676.6,454.9 677.1,455.4 677.7,454.9 678.3,455.2 678.8,456.4 679.2,456.9 679.4,457.7 679.5,457.8 679.6,459.6 679.6,459.4 679.7,460.0 679.7,460.6 679.7,460.8 679.7,460.9 679.6,463.3 679.6,463.1 679.5,464.9 679.4,464.5 679.4,465.2 679.3,467.0 679.3,468.3 679.2,469.6 679.2,469.6 679.2,472.2 679.2,472.3 679.2,472.7 679.2,471.5 679.2,473.4 679.2,472.4 679.2,474.2 679.2,475.2 679.2,475.6 679.2,476.1 679.2,476.6 679.2,477.3 679.2,477.2 679.2,477.5 679.2,478.8 679.2,480.6 679.2,480.1 679.2,479.6 679.2,480.3 679.2,482.2 679.2,482.8 679.2,483.1 679.2,482.8 679.2,483.5 679.2,485.4 679.2,486.3 679.2,485.9 679.2,487.0 679.2,487.4 679.2,487.8 679.2,488.7 679.2,490.1 679.2,491.3 679.2,491.9 679.2,492.6 679.2,492.7 679.2,493.6 679.2,493.9 679.2,495.9 679.2,495.4 679.2,497.0 679.2,497.3 679.2,498.3 679.2,498.5 679.2,499.9 679.2,500.6 679.2,501.1 679.1,503.2 679.1,503.2 679.1,503.9 679.1,504.7 679.1,505.9 679.1,507.3 679.1,507.1 679.1,508.5 679.1,508.2 679.1,509.3 679.1,510.7 679.1,511.5 679.1,511.3 679.1,514.2 679.1,513.8 679.1,514.6 679.1,515.7 679.1,516.2 679.1,518.8 679.1,518.9 679.1,519.8 679.1,521.0 679.1,521.4 679.1,522.4 679.1,523.5 679.1,524.6 679.1,525.0 679.1,525.5 679.1,526.0 679.1,528.2 679.1,528.1 679.1,529.1 679.1,530.2 679.1,531.2 679.1,532.8 679.1,533.2 679.1,534.5 679.1,536.2 679.1,535.3 679.1,537.3 679.1,537.6 679.1,538.9 679.1,539.4 679.1,541.0 679.1,541.2 679.1,542.8 679.1,543.8 679.1,544.4 679.1,545.1 679.1,545.7 679.1,547.2 679.1,548.9 679.1,549.1 679.1,550.9 679.0,551.4 679.0,551.6 679.0,551.7 679.0,554.0 679.0,554.3 679.0,555.2 679.0,555.3 679.0,556.8 679.0,558.0 679.0,558.0 679.0,559.6 679.0,561.7 679.0,561.6 679.0,561.9 679.0,563.4 679.0,563.6 679.0,565.1 679.0,566.5 679.0,567.0 679.0,566.8 679.0,568.8 679.0,568.0 679.0,570.3 679.0,569.7 679.0,571.4 679.0,572.7 679.0,573.1 679.0,574.6 679.0,574.6" fill="none" stroke="#0000ff" stroke-width="2.6" stroke-linejoin="round" stroke-linecap="round" stroke-opacity="0.90"/>
<polyline points="131.0,568.9 131.0,568.2 131.1,567.2 131.1,565.7 131.2,565.0 131.2,564.4 131.3,565.1 131.3,563.1 131.4,561.1 131.4,561.2 131.5,560.2 131.5,559.4 131.6,559.5 131.6,558.0 131.7,556.8 131.7,555.7 131.8,555.0 131.8,554.8 131.9,553.7 131.9,553.2 132.0,551.6 132.0,551.6 132.1,550.6 132.1,549.7 132.2,547.8 132.2,548.4 132.3,547.1 132.3,545.4 132.4,546.3 132.4,544.5 132.5,543.9 132.5,542.9 132.6,542.9 132.6,542.1 132.7,541.1 132.7,540.9 132.8,538.6 132.8,538.8 132.9,538.3 132.9,537.1 133.0,535.8 133.0,534.9 133.1,535.0 133.1,533.5 133.2,533.5 133.2,532.1 133.3,530.7 133.3,531.3 133.4,528.3 133.4,529.0 133.5,528.7 133.5,527.8 133.6,526.9 133.6,526.0 133.7,524.9 133.7,524.0 133.8,522.5 133.8,522.1 133.9,521.8 133.9,521.0 134.0,519.4 134.1,519.4 134.1,519.3 134.2,517.5 134.2,516.0 134.3,515.2 134.3,515.4 134.4,514.5 134.4,513.7 134.5,512.4 134.5,511.3 134.6,510.9 134.6,510.2 134.7,509.6 134.7,509.3 134.8,508.3 134.8,507.1 134.9,505.6 134.9,505.5 135.0,503.6 135.0,504.5 135.1,503.3 135.1,501.8 135.2,501.3 135.2,499.7 135.3,500.1 135.3,497.5 135.4,497.6 135.4,497.6 135.5,496.0 135.5,496.2 135.6,494.6 135.7,494.8 135.7,493.3 135.8,492.1 135.8,491.3 135.9,490.4 135.9,490.0 136.0,489.0 136.0,487.2 136.1,487.5 136.1,487.5 136.2,486.4 136.2,484.7 136.3,484.4 136.4,483.0 136.4,481.9 136.5,481.4 136.5,481.2 136.6,481.0 136.6,478.7 136.7,479.3 136.8,478.6 136.8,478.3 136.9,476.2 136.9,476.6 137.0,476.0 137.1,473.6 137.1,472.3 137.2,471.2 137.3,472.7 137.4,470.7 137.4,469.5 137.5,468.9 137.6,468.1 137.7,467.2 137.7,465.8 137.8,465.5 137.9,465.4 138.0,464.2 138.1,462.9 138.1,461.9 138.2,461.6 138.3,460.8 138.4,459.5 138.5,459.7 138.5,458.0 138.6,457.7 138.7,456.5 138.8,455.5 138.9,455.2 138.9,454.1 139.0,453.1 139.1,453.3 139.2,452.2 139.3,451.2 139.3,449.1 139.4,449.0 139.5,448.2 139.6,447.7 139.6,447.8 139.7,446.3 139.8,445.7 139.9,445.0 139.9,442.9 140.0,443.1 140.1,442.6 140.2,441.9 140.2,440.7 140.3,439.4 140.4,438.1 140.5,438.5 140.5,437.6 140.6,436.3 140.7,435.6 140.7,435.5 140.8,434.0 140.9,433.9 140.9,432.0 141.0,431.4 141.0,431.0 141.1,429.3 141.2,428.9 141.2,428.5 141.3,427.2 141.3,426.4 141.4,426.1 141.5,424.9 141.5,423.3 141.6,423.0 141.7,422.3 141.7,421.3 141.8,420.5 141.9,420.3 141.9,419.0 142.0,418.3 142.1,418.8 142.2,418.3 142.2,416.5 142.3,415.8 142.4,414.1 142.5,413.9 142.6,413.7 142.7,412.4 142.9,412.5 143.0,411.7 143.2,411.1 143.3,409.7 143.5,408.3 143.7,408.2 143.8,406.2 144.0,407.2 144.2,404.7 144.3,405.8 144.5,404.1 144.7,404.0 144.8,401.5 145.0,401.6 145.1,400.6 145.3,399.7 145.5,398.8 145.6,398.4 145.7,398.0 145.8,397.2 145.9,395.5 146.0,395.7 146.1,395.1 146.3,393.1 146.4,394.4 146.5,392.1 146.6,391.2 146.7,390.5 146.8,391.0 146.8,388.5 146.9,388.0 147.0,387.1 147.1,386.5 147.2,386.4 147.3,385.0 147.4,384.3 147.5,384.3 147.6,382.0 147.7,381.7 147.8,381.4 147.9,379.6 148.0,379.4 148.1,377.5 148.2,377.2 148.3,375.8 148.4,375.4 148.5,375.5 148.6,374.0 148.7,374.3 148.8,372.1 148.9,371.9 149.0,370.7 149.2,369.7 149.3,370.0 149.4,368.2 149.5,367.5 149.6,366.8 149.7,364.9 149.9,364.8 150.0,363.6 150.1,363.4 150.2,362.1 150.3,361.0 150.4,360.3 150.5,358.4 150.7,358.0 150.8,357.4 150.9,357.0 151.0,356.0 151.1,356.5 151.2,354.1 151.3,353.3 151.4,353.7 151.5,351.6 151.6,352.2 151.7,350.4 151.9,350.8 152.0,350.2 152.2,348.7 152.3,346.7 152.5,347.9 152.6,346.4 152.8,345.9 153.0,344.5 153.3,343.8 153.7,343.6 154.1,343.0 154.5,341.3 154.8,341.8 155.1,339.9 155.5,339.6 155.8,339.3 156.1,338.8 156.4,337.2 156.6,336.6 156.7,336.1 156.8,335.1 157.0,335.0 157.1,332.5 157.2,331.9 157.3,331.3 157.5,329.8 157.6,330.0 157.7,328.0 157.8,327.2 157.9,326.2 158.1,325.2 158.2,325.2 158.4,324.1 158.5,323.5 158.7,322.8 158.9,323.3 159.7,321.2 160.5,321.1 160.7,320.2 160.9,319.7 161.1,318.7 161.2,317.7 161.4,317.9 161.6,315.8 161.7,316.8 161.8,315.5 162.0,314.4 162.1,313.9 162.2,313.2 162.4,310.8 162.5,310.0 162.7,309.1 162.8,308.7 163.0,308.3 163.2,307.0 163.4,305.8 163.6,305.8 163.7,304.4 164.0,303.4 164.2,303.0 164.4,302.4 164.6,301.7 164.8,299.0 165.0,299.9 165.2,299.3 165.3,298.3 165.5,297.8 165.7,295.5 165.9,295.5 166.0,295.2 166.1,294.5 166.3,293.4 166.4,292.1 166.4,292.4 166.5,289.8 166.6,289.6 166.7,288.3 166.8,286.9 166.8,286.7 166.9,285.8 167.1,285.5 167.2,284.4 167.4,283.9 168.0,283.6 168.6,283.0 169.0,284.5 169.3,285.2 169.6,285.9 169.7,286.1 169.8,287.8 169.8,288.1 169.9,289.0 169.9,289.7 169.9,290.8 169.9,292.0 169.9,292.7 169.9,292.3 169.9,293.8 169.9,294.9 169.9,295.4 170.0,296.0 170.0,296.2 170.0,297.2 170.0,297.2 170.0,298.1 170.0,299.7 170.0,300.0 170.0,300.0 170.0,301.4 170.0,302.2 170.1,302.4 170.1,303.6 170.1,304.0 170.1,305.3 170.1,305.8 170.1,307.8 170.1,306.5 170.1,308.1 170.1,309.8 170.1,309.6 170.1,310.3 170.1,311.8 170.1,313.6 170.1,313.6 170.2,314.6 170.2,315.0 170.2,315.4 170.2,316.8 170.2,318.4 170.2,317.8 170.2,319.7 170.2,320.4 170.2,321.2 170.2,322.8 170.2,323.6 170.2,323.7 170.3,324.3 170.3,326.1 170.3,327.0 170.3,326.9 170.3,328.4 170.3,329.4 170.3,330.7 170.3,332.0 170.3,331.8 170.3,332.5 170.4,334.0 170.4,334.6 170.4,335.2 170.4,336.4 170.4,336.0 170.4,337.0 170.4,337.1 170.4,338.5 170.4,341.0 170.4,340.8 170.4,341.5 170.5,341.6 170.5,343.4 170.5,343.7 170.5,344.9 170.5,346.4 170.5,346.5 170.5,347.1 170.5,348.9 170.5,349.0 170.5,350.5 170.5,350.9 170.6,351.7 170.6,352.8 170.6,353.7 170.6,354.1 170.6,355.7 170.6,356.9 170.6,357.5 170.6,357.9 170.6,358.7 170.7,359.3 170.7,359.8 170.7,361.1 170.7,362.6 170.7,363.1 170.7,363.6 170.7,363.1 170.7,365.4 170.8,365.4 170.8,367.3 170.8,367.6 170.8,368.4 170.8,368.6 170.8,369.6 170.9,371.5 170.9,371.4 170.9,371.8 170.9,373.2 170.9,374.7 170.9,374.1 171.0,376.6 171.0,375.4 171.0,376.2 171.0,378.5 171.1,377.8 171.1,378.4 171.1,379.7 171.1,380.2 171.2,381.8 171.2,382.2 171.2,383.3 171.3,383.4 171.3,385.7 171.3,386.9 171.4,386.7 171.4,387.6 171.4,389.1 171.5,389.4 171.5,391.1 171.5,391.8 171.6,393.2 171.6,393.0 171.7,394.8 171.7,394.8 171.7,396.3 171.8,396.5 171.8,396.7 171.9,398.0 171.9,398.9 172.0,400.2 172.0,401.1 172.0,402.0 172.1,402.2 172.1,403.5 172.2,404.5 172.2,404.0 172.3,405.9 172.3,406.3 172.4,406.4 172.4,407.4 172.5,408.2 172.5,409.1 172.6,409.7 172.6,409.1 172.7,409.9 172.8,412.2 172.9,412.7 173.0,413.8 173.1,414.8 173.1,415.0 173.2,416.0 173.3,417.5 173.4,418.3 173.5,418.7 173.6,420.1 173.7,420.7 173.8,421.1 174.0,421.7 174.1,421.3 174.2,423.3 174.3,423.7 174.5,424.9 174.6,425.3 174.8,427.4 174.9,426.9 175.1,428.5 175.3,428.9 175.4,430.8 175.6,429.7 175.8,431.0 176.0,432.0 176.2,433.5 176.4,434.3 176.6,434.5 176.8,434.9 177.0,436.1 177.2,437.2 177.5,438.2 177.7,438.0 177.9,438.3 178.2,439.7 178.4,439.5 178.7,441.5 178.9,442.3 179.2,442.6 179.4,443.8 179.7,444.2 180.0,445.1 180.3,447.9 180.6,446.7 181.0,447.7 181.3,448.0 181.7,449.0 182.1,450.2 182.6,450.9 183.0,451.8 183.5,451.8 184.0,452.2 184.5,452.9 185.1,454.0 185.6,453.9 186.2,456.0 186.9,455.6 187.5,456.3 188.2,456.2 188.8,456.7 189.6,458.0 190.3,458.1 191.1,458.3 191.9,458.2 192.7,458.5 193.5,459.8 194.3,458.6 195.1,459.1 196.0,459.9 196.8,460.8 197.5,461.3 198.3,462.3 199.1,460.4 199.9,461.9 200.7,461.3 201.5,461.6 202.3,462.2 203.1,461.9 203.9,463.5 204.7,462.6 205.5,462.6 206.3,463.0 207.0,463.5 207.8,463.6 208.5,463.0 209.4,462.8 210.2,463.1 211.0,463.6 211.9,463.8 212.7,463.6 213.4,464.6 214.2,464.3 215.0,464.4 215.9,463.2 216.7,464.9 217.5,463.7 218.4,463.5 219.2,463.7 220.1,463.2 221.0,463.0 221.8,462.8 222.7,462.8 223.6,462.7 224.4,462.4 225.2,463.0 226.0,461.5 226.8,463.2 227.6,463.4 228.4,463.6 229.2,463.7 230.0,464.4 230.7,464.5 231.5,465.0 232.2,465.6 233.0,465.7 233.7,465.3 234.5,467.2 235.2,466.6 235.9,467.6 236.7,467.4 237.4,468.0 238.1,467.7 238.7,470.2 239.4,469.7 240.0,469.2 240.6,471.7 241.2,470.5 241.8,472.0 242.3,473.4 242.8,473.7 243.3,473.8 243.8,473.7 244.3,475.3 244.7,475.5 245.3,476.1 245.9,477.7 246.4,478.5 247.0,479.2 247.8,478.7 248.5,477.8 249.3,477.1 250.0,476.5 250.8,476.2 251.7,476.2 252.4,475.7 253.2,476.3 254.0,477.5 254.8,476.7 255.6,476.8 256.4,477.6 257.2,477.9 258.0,478.3 258.7,478.0 259.5,479.1 260.3,479.5 261.0,479.5 261.8,479.9 262.6,480.1 263.4,479.7 264.1,480.2 264.9,479.2 265.7,478.6 266.5,479.1 267.3,477.7 268.2,477.6 269.0,477.9 269.9,475.7 270.8,477.6 271.5,477.0 272.3,476.9 273.1,477.4 273.8,476.7 274.6,477.5 275.4,477.3 276.2,477.2 277.1,479.1 277.9,478.6 278.7,477.8 279.6,478.1 280.4,478.5 281.3,478.2 282.1,479.0 282.9,478.0 283.7,478.7 284.5,477.8 285.4,477.2 286.2,477.7 287.1,477.0 288.0,478.1 288.8,478.0 289.7,477.2 290.5,477.4 291.3,476.8 292.1,478.0 292.9,477.5 293.6,476.9 294.3,477.5 294.9,477.3 295.8,477.5 296.6,478.0 297.4,478.4 298.1,478.8 298.8,478.7 299.5,479.6 300.2,479.7 300.9,480.4 301.7,480.5 302.4,479.9 303.1,481.4 303.8,482.0 304.6,481.7 305.4,482.0 306.2,482.8 306.9,482.7 307.7,481.5 308.5,481.3 309.4,481.8 310.2,480.6 311.1,480.1 311.9,479.9 312.8,480.4 313.6,478.7 314.4,480.1 315.3,480.2 316.2,479.2 317.0,478.5 317.9,479.3 318.8,479.0 319.6,479.6 320.5,479.6 321.4,478.4 322.2,479.6 323.1,477.8 323.9,478.1 324.8,477.9 325.6,477.9 326.4,477.0 327.3,477.7 328.1,477.3 328.9,477.3 329.8,476.1 330.6,476.2 331.4,476.1 332.3,475.9 333.2,476.0 334.0,475.1 334.9,475.7 335.7,475.1 336.6,475.9 337.4,475.1 338.2,474.9 339.0,474.2 339.9,473.5 340.7,474.2 341.6,473.1 342.4,473.0 343.2,474.8 344.1,473.2 345.0,473.5 345.7,473.4 346.3,473.2 347.0,473.8 347.7,474.5 348.4,475.1 349.2,474.1 349.9,476.4 350.7,476.9 351.4,476.1 352.2,475.8 353.0,477.6 353.8,477.2 354.6,477.6 355.5,477.6 356.3,477.1 357.0,478.4 357.8,478.8 358.6,478.3 359.4,477.9 360.2,477.6 361.1,478.9 361.9,478.4 362.8,477.9 363.6,477.5 364.5,477.9 365.4,478.3 366.2,476.8 367.1,477.4 367.9,478.0 368.8,476.9 369.6,477.4 370.4,476.9 371.2,476.5 372.0,476.7 372.7,477.2 373.5,475.6 374.3,475.9 375.1,475.7 375.9,475.9 376.7,474.1 377.5,474.8 378.2,475.1 379.0,473.6 379.7,473.2 380.4,473.4 381.2,472.3 381.9,472.3 382.6,473.0 383.4,471.6 384.1,472.4 384.9,471.4 385.7,471.4 386.5,471.9 387.3,472.4 388.1,470.8 388.9,471.8 389.7,472.1 390.5,471.3 391.3,471.2 392.2,470.9 393.0,470.8 393.9,469.8 394.6,471.0 395.4,470.8 396.2,471.0 396.9,471.1 397.7,470.1 398.5,471.9 399.3,470.8 400.1,471.2 400.9,471.7 401.8,471.2 402.6,472.4 403.4,472.1 404.3,471.6 405.1,472.9 406.0,472.0 406.9,471.8 407.7,473.0 408.6,471.6 409.4,473.1 410.1,471.9 410.9,471.8 411.7,471.9 412.6,472.2 413.4,471.6 414.2,471.6 415.1,472.6 415.9,473.1 416.8,472.0 417.6,471.7 418.5,471.9 419.3,472.5 420.2,471.9 421.0,473.3 421.9,472.3 422.7,472.3 423.5,471.7 424.3,471.3 425.1,472.5 425.9,472.3 426.7,473.1 427.5,471.4 428.2,472.0 429.1,471.9 430.0,471.6 430.9,472.9 431.7,473.5 432.6,473.0 433.4,472.9 434.2,472.7 435.0,474.0 435.9,473.4 436.7,475.3 437.4,474.7 438.2,473.7 439.0,474.9 439.8,474.5 440.5,474.5 441.3,475.3 442.2,474.8 443.0,475.1 443.8,474.1 444.7,474.5 445.5,473.7 446.3,473.0 447.1,473.3 447.8,473.2 448.6,473.6 449.5,473.1 450.3,472.4 451.1,472.6 451.8,472.5 452.6,471.4 453.4,472.1 454.2,470.5 454.9,471.2 455.7,470.6 456.5,470.8 457.3,470.0 458.1,469.1 458.8,467.8 459.6,468.7 460.4,468.8 461.1,468.5 461.8,468.1 462.5,468.7 463.4,468.2 464.3,468.5 465.1,468.7 466.0,469.1 466.8,469.1 467.6,470.1 468.4,469.6 469.2,470.8 470.0,471.5 470.9,471.0 471.7,471.0 472.5,471.3 473.4,470.4 474.2,471.8 475.0,472.9 475.8,471.5 476.6,472.0 477.4,472.2 478.2,470.2 479.0,470.4 479.9,469.7 480.7,469.1 481.7,469.2 482.4,469.4 483.1,469.3 483.9,468.9 484.7,468.7 485.5,469.8 486.4,468.6 487.2,469.2 488.1,469.6 489.0,468.3 489.9,467.9 490.7,467.9 491.6,468.1 492.5,469.0 493.3,468.5 494.1,468.0 495.0,467.7 495.8,468.5 496.6,468.4 497.5,469.1 498.3,468.0 499.1,467.7 500.0,467.3 500.8,468.0 501.7,468.7 502.5,467.9 503.3,467.4 504.2,468.0 505.0,467.7 505.8,468.1 506.7,466.8 507.5,467.2 508.3,468.0 509.2,468.4 510.0,469.0 510.9,467.9 511.7,468.1 512.5,469.2 513.4,469.3 514.2,470.1 515.0,469.6 515.9,469.4 516.7,469.1 517.5,469.8 518.4,469.8 519.2,469.8 520.0,469.6 520.9,469.7 521.7,469.4 522.6,469.5 523.4,468.5 524.2,469.5 525.1,469.7 525.9,469.3 526.7,470.2 527.5,469.8 528.3,470.1 529.2,469.5 530.1,469.9 531.0,469.7 532.0,468.5 532.9,469.1 533.7,468.8 534.6,468.3 535.4,468.4 536.2,469.1 537.0,469.0 537.7,469.1 538.6,469.2 539.4,470.1 540.2,471.1 540.9,470.8 541.6,471.7 542.3,470.5 542.9,472.4 543.5,472.9 544.0,473.3 544.6,473.3 545.1,475.6 545.7,475.0 546.3,476.6 547.0,476.2 547.7,476.6 548.4,477.6 549.2,477.1 550.0,477.1 550.8,477.9 551.6,477.9 552.4,477.7 553.2,479.0 554.0,478.0 554.8,477.8 555.5,477.8 556.3,477.8 557.1,477.3 557.8,476.4 558.6,477.0 559.4,477.2 560.2,475.9 561.0,476.9 561.8,477.7 562.6,476.8 563.4,477.8 564.2,477.0 565.0,477.0 565.8,477.3 566.7,478.0 567.5,478.1 568.4,478.9 569.2,478.9 570.0,478.5 570.8,478.8 571.6,479.1 572.4,478.6 573.3,478.4 574.1,477.3 574.9,478.3 575.7,477.5 576.5,476.9 577.3,476.2 578.2,476.6 579.0,476.4 579.7,475.7 580.4,475.7 581.2,475.8 581.9,474.4 582.7,473.9 583.4,474.0 584.2,474.0 584.9,473.6 585.6,472.2 586.4,472.9 587.1,472.2 587.9,471.8 588.6,470.3 589.3,470.3 590.0,469.8 590.7,469.9 591.3,469.3 591.9,467.9 592.6,467.5 593.2,467.4 593.8,467.1 594.4,467.9 595.0,466.5 595.7,465.8 596.3,465.1 596.9,464.5 597.5,464.0 598.1,462.8 598.7,462.3 599.4,463.1 600.0,462.5 600.7,461.6 601.4,462.0 602.1,460.5 602.8,459.4 603.6,459.8 604.3,459.8 605.0,458.8 605.7,459.4 606.4,458.7 607.2,456.8 607.9,457.2 608.6,456.7 609.3,456.1 610.0,456.7 610.6,455.6 611.2,454.6 611.9,454.7 612.4,453.9 613.0,453.0 613.6,453.0 614.2,452.2 614.8,452.3 615.4,451.4 616.0,451.3 616.6,451.2 617.2,448.9 617.9,448.3 618.6,448.6 619.3,449.3 620.0,449.0 620.7,447.5 621.4,447.4 622.1,446.9 622.9,447.1 623.6,446.5 624.4,446.3 625.2,446.5 626.0,447.0 626.9,446.8 627.7,445.0 628.5,444.9 629.4,445.1 630.2,445.6 631.0,445.7 631.8,443.8 632.6,444.9 633.4,443.6 634.2,444.9 635.0,443.5 635.7,444.7 636.5,443.3 637.3,443.8 638.1,443.2 638.9,442.7 639.6,443.0 640.4,443.4 641.2,441.9 641.9,441.5 642.7,441.4 643.4,441.4 644.1,441.0 644.9,440.8 645.6,440.7 646.4,440.3 647.1,439.4 647.9,438.8 648.7,439.3 649.4,439.7 650.2,438.5 651.0,438.3 651.7,438.6 652.5,437.6 653.2,437.8 654.0,437.2 654.8,436.3 655.5,436.2 656.3,436.9 657.1,436.5 657.8,436.2 658.6,435.9 659.3,434.1 660.1,434.5 660.9,434.5 661.6,434.3 662.4,432.5 663.2,433.5 664.0,433.8 664.7,433.3 665.5,433.2 666.3,432.6 667.1,431.6 667.8,432.1 668.6,432.0 669.4,431.7 670.1,431.7 670.9,431.1 671.6,430.8 672.3,429.6 673.1,430.6 673.9,430.2 674.7,429.2 675.5,429.4 676.2,428.7 677.0,428.8 677.7,429.1 678.5,427.7 679.2,427.6 680.0,427.8 680.7,427.2 681.5,427.6 682.3,427.2 683.0,427.1 683.8,426.9 684.6,426.9 685.4,425.3 686.2,425.4 686.9,424.3 687.7,424.6 688.5,425.4 689.2,423.0 689.9,422.4 690.6,423.1 691.4,423.0 692.2,423.3 693.0,423.6 693.8,422.8 694.6,422.8 695.3,421.6 696.0,421.8 696.7,422.2 697.2,420.5 697.7,421.1 698.1,420.4 698.6,418.5 699.0,417.9 699.4,417.5 699.8,416.0 700.2,415.2 700.5,414.9 700.9,413.6 701.3,413.3 701.6,412.9 702.0,412.0 702.6,410.8 703.1,410.8 703.6,410.1 704.1,408.6 704.6,408.3 705.1,407.3 705.4,406.9 705.7,405.5 706.0,406.1 706.3,403.8 706.6,403.1 706.8,403.2 707.1,401.5 707.4,399.9 707.6,400.5 707.9,399.8 708.0,400.2 708.0,400.6 708.1,402.4 708.2,402.5 708.3,403.2 708.3,404.0 708.4,404.3 708.5,405.9 708.6,406.8 708.6,408.9 708.7,407.6 708.8,408.7 708.9,410.2 708.9,409.5 709.0,411.3 709.1,412.2 709.2,412.8 709.2,414.1 709.3,412.6 709.5,414.7 709.7,413.4 709.9,412.4 710.1,411.7 710.3,410.7 710.5,410.1 710.7,408.4 710.8,408.4 711.0,407.1 711.2,406.4 711.4,405.6 711.6,404.8 711.8,404.2 712.0,403.3 712.9,403.3 713.9,403.7 714.8,404.5 715.1,403.8 715.4,403.4 715.7,401.8 716.0,402.4 716.3,400.7 716.5,399.4 716.6,400.1 716.6,398.7 716.7,398.6 716.8,398.9 716.8,397.7 716.9,396.7 716.9,396.4 717.0,396.1 717.0,395.5 717.1,394.4 717.1,393.8 717.1,392.9 717.2,393.1 717.2,391.7 717.2,391.0 717.2,390.5 717.3,388.9 717.3,388.1 717.3,387.3 717.3,386.5 717.3,385.9 717.3,385.0 717.3,383.7 717.3,382.5 717.3,381.8 717.4,381.4 717.4,380.8 717.4,379.4 717.4,379.3 717.4,376.5 717.4,376.9 717.4,374.7 717.4,374.2 717.4,374.3 717.4,373.2 717.4,371.9 717.4,370.4 717.4,370.0 717.4,369.5 717.4,367.8 717.4,368.4 717.4,366.4 717.4,366.9 717.4,364.9 717.4,362.6 717.4,362.9 717.5,362.2 717.5,361.4 717.5,360.3 717.5,359.5 717.5,359.1 717.5,359.2 717.6,357.1 717.6,355.5 717.6,355.2 717.6,355.1 717.7,353.5 717.7,352.9 717.7,352.5 717.7,351.5 717.7,350.9 717.8,349.8 717.8,349.2 717.8,348.7 717.8,347.7 717.8,346.7 717.9,346.5 717.9,345.1 717.9,344.7 717.9,344.3 718.0,343.6 718.0,341.8 718.0,340.9 718.0,340.7 718.0,339.4 718.1,338.5 718.1,337.9 718.1,338.0 718.1,337.0 718.1,336.1 718.2,335.0 718.2,333.0 718.2,332.7 718.2,332.9 718.3,331.0 718.3,331.1 718.3,329.6 718.3,329.6 718.3,328.5 718.4,327.2 718.4,327.4 718.4,325.8 718.5,326.8 718.6,328.0 718.7,328.6 718.8,329.6 718.9,329.5 719.0,330.4 719.1,330.3 719.2,332.4 719.3,332.8 719.4,333.9 719.5,334.5 719.5,335.7 719.5,335.7 719.6,335.9 719.6,336.7 719.6,337.7 719.6,336.9 719.7,336.7 719.7,338.3 719.7,339.1 719.7,339.4 719.7,340.1 719.8,339.9 719.8,341.1 719.8,341.9 719.8,342.7 719.8,342.7 719.8,343.3 719.8,343.8 719.9,345.1 719.9,345.5 719.9,345.2 719.9,347.1 719.9,347.3 719.9,347.4 719.9,348.3 719.9,349.0 719.9,350.4 719.9,351.2 720.0,351.2 720.0,352.3 720.0,352.4 720.0,352.7 720.0,354.5 720.0,353.9 720.0,356.3 720.0,355.9 720.0,358.0 720.0,358.2 720.0,358.7 720.0,359.5 720.0,360.8 720.0,360.0 720.0,361.9 720.0,362.5 720.0,363.3 720.0,364.5 720.0,365.8 720.0,367.2 720.0,367.1 720.0,368.7 720.0,369.0 720.0,370.2 720.0,370.9 720.0,371.7 720.0,371.7 720.0,373.4 720.0,373.9 720.0,376.4 720.0,375.4 720.0,377.2 720.0,377.6 720.0,377.2 720.0,379.5 720.0,380.0 720.0,380.7 720.0,382.6 720.0,383.3 720.0,384.2 720.0,385.4 720.0,385.8 720.0,386.7 720.0,387.3 720.0,386.9 720.0,389.6 720.0,390.7 720.0,391.2 720.0,391.4 720.0,393.2 720.0,395.7 720.0,396.0 720.0,396.1 720.0,397.1 720.0,398.9 720.0,399.0 720.0,399.9 720.0,401.8 720.0,401.8 720.0,401.9 720.0,402.7 720.0,405.0 720.0,406.5 720.0,406.3 720.0,408.4 720.0,409.0 720.0,409.7 720.0,411.0 720.0,411.8 720.0,411.8 720.0,413.1 720.0,415.1 720.0,415.2 720.0,415.8 720.0,417.7 720.0,418.1 720.0,419.2 720.0,420.2 720.0,421.2 720.0,420.8 720.0,421.5 720.0,422.8 720.0,423.3 720.0,424.2 720.0,425.1 720.0,424.7 720.0,426.5 720.0,426.8 720.0,427.1 720.0,428.8 720.0,429.3 720.0,429.7 720.0,430.3 720.0,430.8 720.0,432.2 720.0,432.6 720.0,433.9 720.0,433.1 720.1,434.7 720.1,435.9 720.1,435.8 720.1,437.7 720.1,437.5 720.1,438.3 720.1,438.7 720.1,440.6 720.1,440.5 720.1,440.9 720.1,442.9 720.1,442.6 720.1,443.8 720.1,445.0 720.1,444.7 720.1,446.6 720.1,447.1 720.1,447.2 720.1,448.1 720.1,449.3 720.1,449.9 720.1,449.8 720.1,451.7 720.1,451.7 720.1,453.1 720.1,454.3 720.1,454.0 720.1,455.0 720.1,455.3 720.1,457.2 720.1,458.3 720.1,458.7 720.1,459.3 720.1,460.0 720.1,459.9 720.1,461.9 720.1,462.2 720.1,462.9 720.1,464.0 720.1,465.4 720.1,465.9 720.1,466.5 720.1,467.2 720.1,467.9 720.1,468.3 720.1,469.1 720.1,470.5 720.1,471.1 720.1,472.6 720.1,473.6 720.1,473.2 720.1,474.8 720.1,475.4 720.1,475.6 720.1,477.5 720.2,479.1 720.2,477.8 720.2,479.6 720.2,480.2 720.2,481.7 720.2,481.4 720.2,482.8 720.2,483.0 720.2,484.9 720.2,485.2 720.2,486.2 720.2,486.7 720.2,487.5 720.2,488.6 720.2,488.8 720.2,490.7 720.2,490.3 720.2,492.4 720.2,492.0 720.2,493.5 720.2,493.5 720.2,495.2 720.2,496.1 720.2,496.4 720.2,497.4 720.2,499.1 720.2,500.3 720.2,499.9 720.2,501.2 720.2,502.0 720.2,502.9 720.2,503.4 720.2,504.2 720.2,505.3 720.2,506.1 720.2,506.8 720.2,508.2 720.2,508.3 720.2,509.0 720.2,509.6 720.2,510.4 720.2,512.5 720.2,513.0 720.2,513.1 720.2,514.7 720.2,515.4 720.2,515.5 720.2,516.0 720.2,518.0 720.2,517.1 720.2,520.1 720.2,520.8 720.2,520.3 720.2,521.9 720.2,522.0 720.2,523.2 720.2,523.4 720.2,525.5 720.2,525.7 720.2,527.1 720.2,527.6 720.2,528.9 720.2,528.5 720.2,531.4 720.2,530.5 720.2,531.9 720.2,532.0 720.2,533.8 720.2,534.1 720.2,535.5 720.2,535.7 720.2,536.2 720.2,537.4 720.2,537.7 720.2,539.1 720.2,540.4 720.2,540.8 720.2,541.7 720.2,542.4 720.2,542.5 720.3,544.3 720.3,544.9 720.3,545.9 720.3,546.4 720.3,548.7 720.3,549.2 720.3,549.2 720.3,550.3 720.3,550.3 720.3,552.1 720.3,552.8 720.3,553.4 720.3,554.4 720.3,554.9 720.3,556.1 720.3,556.9 720.3,557.3 720.3,557.6 720.3,559.3 720.3,559.7 720.3,560.5 720.3,561.2 720.3,562.1 720.3,563.7 720.3,564.4 720.3,564.7 720.3,565.8 720.3,566.8 720.3,567.3 720.3,568.1 720.3,568.2 720.3,569.6 720.3,570.4 720.3,571.4 720.3,571.7 720.3,573.6 721.1,572.6 721.9,572.3 722.8,572.1 723.6,574.0 724.4,573.8 725.2,573.2 726.0,573.1 726.8,573.4 727.7,572.5 728.5,573.2 729.3,573.7 730.1,574.3 730.9,573.0 731.7,573.2 732.5,573.1 733.4,574.0 734.2,573.5 735.0,573.4" fill="none" stroke="#ff0000" stroke-width="2.4" stroke-linejoin="round" stroke-linecap="round" stroke-opacity="0.90"/>
<polyline points="128.5,568.5 128.6,568.2 128.6,567.4 128.7,565.7 128.7,564.7 128.8,564.7 128.9,563.4 128.9,563.1 129.0,562.1 129.0,561.5 129.1,560.7 129.1,559.5 129.2,558.1 129.3,557.7 129.3,557.3 129.4,556.6 129.4,556.0 129.5,555.0 129.6,554.4 129.6,553.7 129.7,552.4 129.7,551.4 129.8,551.2 129.9,549.3 129.9,549.4 130.0,548.8 130.0,547.1 130.1,546.9 130.2,545.1 130.2,546.0 130.3,543.7 130.3,543.7 130.4,543.2 130.5,542.5 130.5,540.7 130.6,540.4 130.6,539.2 130.7,539.4 130.7,538.0 130.8,537.2 130.9,535.7 130.9,534.9 131.0,533.7 131.0,532.6 131.1,533.4 131.2,532.8 131.2,530.2 131.3,530.2 131.3,529.7 131.4,529.0 131.4,528.3 131.5,527.0 131.6,526.6 131.6,525.4 131.7,525.4 131.7,523.3 131.8,523.6 131.8,523.3 131.9,520.7 131.9,520.5 132.0,520.1 132.1,519.8 132.1,518.0 132.2,517.6 132.2,515.9 132.3,517.3 132.3,515.0 132.4,515.5 132.4,513.0 132.5,512.8 132.5,511.4 132.6,510.3 132.7,509.7 132.7,509.5 132.8,508.3 132.8,507.3 132.9,506.6 132.9,507.1 133.0,504.8 133.0,504.8 133.1,503.8 133.1,502.5 133.2,502.4 133.2,501.2 133.3,499.6 133.3,498.6 133.4,499.1 133.4,497.6 133.5,496.5 133.5,495.3 133.6,496.4 133.6,494.6 133.7,493.8 133.7,493.0 133.8,492.5 133.8,491.9 133.9,490.9 133.9,489.3 134.0,488.9 134.0,488.0 134.1,487.4 134.2,486.6 134.2,486.0 134.3,485.9 134.3,483.7 134.4,483.2 134.4,482.9 134.5,481.7 134.5,481.1 134.6,480.3 134.6,479.0 134.7,479.2 134.8,478.0 134.8,476.6 134.9,477.2 134.9,475.5 135.0,475.5 135.1,473.8 135.1,473.0 135.2,472.6 135.3,471.5 135.4,470.4 135.5,469.4 135.5,469.2 135.6,467.7 135.7,467.8 135.8,466.2 135.8,465.7 135.9,464.6 136.0,464.1 136.1,462.9 136.2,462.2 136.2,461.4 136.3,461.2 136.4,460.1 136.5,459.2 136.6,457.9 136.7,457.7 136.7,456.1 136.8,455.7 136.9,454.9 137.0,454.1 137.1,453.3 137.2,452.7 137.2,452.2 137.3,451.1 137.4,451.3 137.5,450.6 137.6,448.7 137.7,448.1 137.7,447.5 137.8,446.8 137.9,445.4 138.0,444.9 138.1,443.1 138.2,442.9 138.3,442.7 138.4,441.3 138.5,440.2 138.6,439.5 138.6,439.8 138.7,437.9 138.8,438.7 138.9,436.7 139.0,435.6 139.1,434.6 139.2,434.7 139.3,432.6 139.4,432.1 139.5,432.4 139.6,431.6 139.7,429.8 139.8,429.3 139.9,428.9 140.0,427.7 140.1,426.7 140.2,426.3 140.3,425.7 140.4,425.2 140.5,423.1 140.6,423.2 140.7,422.7 140.8,421.2 140.9,421.3 141.0,420.3 141.1,419.3 141.2,418.2 141.4,416.4 141.5,417.2 141.6,416.0 141.7,414.8 141.9,413.9 142.0,413.5 142.1,412.5 142.3,411.6 142.4,410.7 142.5,409.9 142.7,408.8 142.8,409.4 142.9,407.8 143.1,406.9 143.2,406.5 143.3,405.6 143.5,403.7 143.6,403.3 143.7,402.9 143.9,401.8 144.0,401.2 144.1,401.2 144.2,399.2 144.4,398.9 144.5,398.1 144.6,397.4 144.7,397.0 144.8,395.1 145.0,394.2 145.1,393.6 145.2,392.8 145.3,392.0 145.4,392.4 145.5,390.8 145.6,389.7 145.7,389.6 145.8,388.2 145.9,387.4 146.1,386.9 146.2,385.5 146.3,384.3 146.4,384.4 146.5,383.1 146.6,381.6 146.7,381.8 146.8,380.6 146.9,380.6 147.0,379.4 147.1,378.3 147.2,377.3 147.4,375.6 147.5,375.2 147.6,374.8 147.7,374.2 147.8,374.5 147.9,372.7 148.0,372.1 148.1,371.9 148.2,370.0 148.4,369.7 148.5,368.6 148.6,366.5 148.7,366.7 148.9,365.4 149.0,365.5 149.1,364.2 149.2,362.4 149.3,362.9 149.5,361.8 149.6,360.9 149.7,361.0 149.8,359.3 149.9,357.9 150.1,358.5 150.2,356.6 150.3,356.2 150.4,355.1 150.5,354.4 150.7,354.7 150.8,352.8 150.9,353.1 151.0,352.4 151.2,351.5 151.3,349.9 151.5,350.0 151.6,348.4 151.8,347.4 151.9,346.2 152.1,345.2 152.2,345.6 152.4,344.3 152.5,343.3 152.7,342.3 152.8,342.1 153.0,341.3 154.1,342.1 155.0,341.5 155.2,342.5 155.3,343.6 155.4,343.6 155.4,344.7 155.4,344.8 155.4,345.6 155.3,347.1 155.3,347.9 155.2,349.6 155.1,350.0 155.0,350.7 155.0,351.7 155.0,352.7 155.0,352.4 154.9,354.2 154.9,354.8 154.9,355.8 154.8,356.5 154.8,357.3 154.7,358.6 154.7,360.0 154.6,359.5 154.6,360.7 154.5,361.4 154.5,362.8 154.4,363.5 154.4,364.8 154.3,364.3 154.3,366.4 154.2,366.2 154.2,366.4 154.1,368.5 154.1,368.8 154.0,369.7 154.0,370.6 153.9,371.5 153.9,373.8 153.9,374.2 153.8,374.0 153.8,374.7 153.8,375.7 153.7,376.8 153.7,376.5 153.7,379.1 153.7,379.6 153.6,380.5 153.6,381.2 153.6,382.5 153.6,383.0 153.5,383.6 153.5,383.9 153.5,384.5 153.5,385.6 153.5,385.5 153.5,387.9 153.5,388.6 153.5,388.8 153.6,389.0 153.6,391.2 153.6,390.6 153.7,392.5 153.7,394.0 153.7,393.5 153.8,394.9 153.8,395.3 153.8,396.0 153.9,397.3 153.9,397.3 154.0,398.9 154.0,399.6 154.1,401.3 154.2,401.1 154.2,402.8 154.3,403.2 154.4,403.7 154.4,405.1 154.5,406.5 154.6,407.6 154.7,407.3 154.8,408.1 154.9,409.8 155.0,409.8 155.1,410.8 155.2,410.8 155.3,412.1 155.4,412.5 155.5,414.1 155.6,416.0 155.8,414.6 155.9,417.0 156.1,417.3 156.3,417.0 156.4,418.4 156.6,419.8 156.8,421.0 157.0,421.6 157.1,422.3 157.3,422.6 157.5,423.4 157.8,424.6 158.0,424.9 158.2,427.4 158.5,427.0 158.7,427.5 159.0,428.9 159.3,428.8 159.7,429.2 160.1,430.2 160.6,430.8 161.0,432.2 161.5,432.0 162.0,433.3 162.5,433.7 163.1,433.5 163.6,435.4 164.1,435.4 164.6,436.7 165.2,437.4 165.7,437.4 166.3,438.0 166.9,438.0 167.4,439.4 168.0,440.2 168.7,440.8 169.3,441.2 170.0,441.0 170.8,442.5 171.6,441.9 172.5,442.4 173.4,443.3 174.3,443.5 175.2,441.9 176.1,441.3 177.0,441.8 177.8,442.5 178.5,442.8 179.3,442.4 180.1,442.9 180.8,443.3 181.6,442.8 182.4,442.4 183.2,443.9 184.0,443.4 184.8,444.2 185.6,443.9 186.4,443.9 187.2,444.4 188.1,444.2 188.9,444.3 189.8,444.5 190.7,444.7 191.5,444.8 192.4,444.5 193.3,445.6 194.1,444.9 194.9,445.4 195.7,446.6 196.6,444.9 197.4,446.6 198.3,446.3 199.1,445.6 200.0,447.5 200.9,445.9 201.7,447.8 202.6,447.0 203.4,446.9 204.2,447.6 205.0,447.3 205.9,446.8 206.8,446.8 207.6,447.8 208.5,447.7 209.3,447.3 210.2,448.1 211.0,448.1 211.9,449.1 212.7,447.7 213.5,447.5 214.3,446.9 215.2,447.5 216.0,446.9 216.8,446.3 217.6,446.5 218.5,445.3 219.3,444.5 220.1,445.3 220.9,444.8 221.7,445.1 222.5,445.1 223.2,445.4 224.0,444.9 224.7,445.3 225.5,445.3 226.2,445.2 226.9,446.4 227.7,446.5 228.4,446.7 229.2,446.9 229.9,448.1 230.7,448.4 231.5,449.6 232.2,449.0 233.0,448.7 233.8,449.2 234.7,449.0 235.5,450.3 236.3,450.3 237.1,450.3 237.9,449.6 238.6,451.2 239.3,451.2 240.0,450.5 240.7,450.9 241.4,450.5 242.0,449.7 242.6,448.8 243.2,448.3 243.8,447.7 244.4,446.2 245.1,447.4 245.8,446.0 246.6,446.0 247.4,447.5 248.4,446.2 249.3,445.6 250.3,446.5 251.2,446.4 252.1,447.3 252.9,447.4 253.5,446.8 254.0,446.6 254.4,448.9 254.6,449.5 255.0,449.9 255.5,450.4 256.2,450.0 257.0,450.1 257.9,451.7 258.8,450.6 259.8,450.6 260.8,451.0 261.7,451.6 262.6,450.4 263.4,450.8 264.1,450.7 264.8,451.0 265.5,450.5 266.1,449.4 266.8,449.4 267.4,449.0 268.0,448.5 268.7,447.3 269.4,447.1 270.1,447.2 270.9,445.3 271.6,446.4 272.3,446.1 273.1,446.2 273.9,446.5 274.7,445.4 275.5,444.1 276.3,445.4 277.2,445.9 278.0,446.5 278.9,446.4 279.7,447.4 280.5,447.6 281.3,447.4 282.1,448.3 282.9,448.7 283.6,447.7 284.3,449.5 285.0,449.5 285.7,450.4 286.5,450.2 287.4,450.7 288.3,451.2 289.2,450.7 290.1,450.5 291.0,450.9 291.8,450.1 292.5,449.6 293.2,449.5 293.8,448.9 294.5,448.6 295.1,447.0 295.7,446.6 296.4,446.1 297.0,445.3 297.7,444.9 298.4,445.3 299.1,442.9 299.8,443.4 300.5,443.6 301.2,443.4 301.8,444.5 302.3,444.5 302.8,445.3 303.4,445.9 303.9,446.5 304.4,447.4 305.0,447.4 305.5,448.4 306.2,449.0 306.8,449.8 307.5,450.0 308.2,449.9 308.9,450.0 309.7,450.9 310.5,451.0 311.3,451.9 312.1,451.1 313.0,451.1 313.9,451.4 314.7,451.5 315.6,451.6 316.4,451.6 317.2,451.9 318.0,451.2 318.9,451.3 319.7,451.8 320.6,452.2 321.4,451.8 322.3,452.0 323.1,451.7 323.9,451.3 324.7,452.2 325.6,452.0 326.4,451.6 327.2,450.5 328.1,452.0 328.9,451.9 329.7,452.2 330.5,452.5 331.4,452.8 332.2,452.2 333.1,453.1 333.9,452.6 334.8,452.5 335.6,452.7 336.5,452.9 337.3,452.9 338.2,453.3 339.0,453.0 339.9,453.5 340.8,452.5 341.6,452.6 342.5,452.6 343.4,453.1 344.2,453.5 345.0,452.9 345.8,452.7 346.6,453.6 347.4,452.8 348.2,452.8 348.9,454.5 349.7,452.6 350.5,452.7 351.3,453.0 352.2,453.1 353.1,454.1 353.8,452.9 354.5,454.0 355.3,454.1 356.0,453.1 356.8,453.3 357.7,454.8 358.5,453.2 359.4,454.0 360.2,454.4 361.1,454.1 362.0,454.5 362.8,454.7 363.7,454.3 364.5,454.2 365.4,455.0 366.2,454.7 367.1,455.3 367.9,455.0 368.6,455.1 369.4,456.3 370.3,455.0 371.1,455.4 372.0,456.0 372.8,455.3 373.6,455.8 374.4,455.9 375.2,456.1 376.0,457.3 376.8,456.1 377.6,456.5 378.4,457.1 379.2,458.0 380.0,456.3 380.8,457.0 381.6,456.9 382.4,456.1 383.2,456.8 384.1,456.1 384.9,455.1 385.7,455.1 386.5,454.4 387.4,455.0 388.2,454.5 389.0,454.2 389.9,454.0 390.7,453.0 391.5,453.9 392.3,453.7 393.1,453.5 393.9,453.4 394.7,453.8 395.4,453.5 396.1,454.3 396.9,454.4 397.6,454.8 398.3,454.9 399.1,455.8 399.8,455.6 400.5,456.4 401.2,457.6 401.9,457.1 402.6,457.3 403.3,458.6 404.0,459.1 404.7,459.7 405.4,459.7 406.2,458.8 406.9,460.3 407.7,460.8 408.5,460.8 409.2,461.8 410.0,460.8 410.7,462.8 411.5,461.7 412.2,463.2 413.0,463.1 413.7,462.6 414.5,463.9 415.2,463.6 416.0,464.6 416.7,463.2 417.4,462.8 418.1,462.3 418.8,461.8 419.5,462.1 420.3,460.9 421.0,460.3 421.8,459.3 422.5,459.8 423.3,458.5 424.1,460.0 425.0,458.1 425.7,458.6 426.4,459.0 427.2,457.3 428.0,458.3 428.7,457.8 429.5,458.4 430.4,457.8 431.2,458.3 432.0,458.7 432.9,458.6 433.7,457.7 434.6,458.6 435.4,458.0 436.3,457.8 437.1,459.0 438.0,459.3 438.8,459.2 439.6,459.0 440.5,458.2 441.3,458.8 442.1,458.7 442.9,459.6 443.8,459.9 444.6,459.6 445.4,459.2 446.3,459.0 447.1,458.4 447.9,459.1 448.8,459.3 449.6,459.6 450.4,459.6 451.2,460.2 452.1,459.2 452.9,460.3 453.7,459.9 454.5,459.8 455.3,460.6 456.1,460.1 456.8,460.1 457.6,460.2 458.5,459.9 459.3,459.9 460.2,460.4 461.0,459.8 461.9,459.8 462.7,459.6 463.5,459.7 464.3,460.6 465.2,461.0 466.0,460.7 466.8,460.1 467.6,460.3 468.4,460.9 469.2,460.4 470.0,461.4 470.8,461.9 471.7,460.4 472.5,461.3 473.4,462.2 474.2,461.3 475.0,461.1 475.9,461.4 476.7,461.5 477.5,462.6 478.4,461.1 479.2,462.0 480.0,461.7 480.9,462.1 481.7,462.3 482.5,462.7 483.4,463.2 484.2,463.0 485.0,463.6 485.8,462.6 486.7,462.6 487.5,462.9 488.3,462.7 489.2,463.1 490.0,462.9 490.8,463.6 491.6,463.5 492.5,463.7 493.3,464.1 494.1,461.9 495.0,464.1 495.9,463.5 496.7,462.7 497.6,463.1 498.5,462.3 499.3,461.7 500.2,461.1 501.1,461.7 501.9,460.9 502.7,460.9 503.5,461.2 504.3,461.7 505.0,461.3 505.9,461.5 506.7,461.7 507.4,461.7 508.2,462.5 508.9,462.8 509.6,462.2 510.4,462.8 511.2,463.3 512.0,463.9 512.7,463.8 513.5,464.0 514.3,465.0 515.1,463.8 515.9,465.4 516.7,465.2 517.5,464.7 518.4,464.7 519.2,463.1 520.0,464.5 520.9,464.3 521.7,464.3 522.5,464.8 523.3,465.7 524.1,464.9 525.0,464.3 525.8,465.3 526.6,466.1 527.4,465.3 528.2,465.6 529.1,465.5 529.9,465.4 530.7,466.0 531.5,465.5 532.2,466.7 533.0,466.2 533.9,465.1 534.7,465.7 535.6,464.9 536.4,465.6 537.3,465.5 538.1,465.7 538.9,464.9 539.7,463.5 540.4,465.3 541.2,464.1 542.1,463.8 542.9,463.7 543.7,463.2 544.5,462.6 545.3,462.8 546.1,462.7 547.0,461.2 547.9,461.6 548.8,462.4 549.7,462.4 550.7,462.6 551.6,462.2 552.5,463.6 553.3,463.3 554.0,463.7 554.6,463.7 555.2,464.8 555.7,464.8 556.2,466.1 556.6,467.5 557.0,468.1 557.4,468.6 557.8,470.3 558.3,469.5 558.7,472.1 559.1,471.4 559.7,473.4 560.3,472.7 560.9,473.5 561.6,474.7 562.3,474.6 563.1,475.9 563.9,475.9 564.6,476.2 565.4,477.0 566.2,478.2 567.0,477.8 567.8,478.2 568.6,477.8 569.4,478.2 570.1,477.8 570.8,477.7 571.5,477.2 572.2,476.0 572.9,475.6 573.5,474.3 574.2,474.4 574.7,474.2 575.2,472.9 575.7,472.6 576.2,472.6 576.6,471.7 577.1,470.1 577.6,470.2 578.1,469.9 578.6,468.3 579.1,467.6 579.8,467.7 580.4,466.7 581.1,465.9 581.8,464.1 582.5,465.6 583.3,463.9 584.0,464.4 584.8,463.2 585.6,464.0 586.4,462.9 587.2,463.1 588.0,463.4 588.8,462.1 589.6,463.9 590.4,463.9 591.2,463.4 591.9,463.9 592.8,463.8 593.6,464.8 594.4,465.9 595.2,465.1 596.0,466.3 596.8,466.7 597.7,466.3 598.6,466.9 599.5,466.1 600.4,466.3 601.2,466.3 602.1,466.8 603.0,466.9 604.0,466.4 604.9,467.3 605.8,466.2 606.8,466.7 607.6,466.6 608.4,466.1 609.2,467.8 609.8,465.7 610.5,467.9 611.0,468.7 611.4,468.9 611.8,470.3 612.2,470.9 612.9,471.0 613.6,471.5 614.4,472.4 615.3,471.6 616.2,472.0 617.2,472.2 618.1,472.6 619.0,472.1 619.8,470.9 620.5,471.3 621.2,471.6 621.7,469.4 622.2,469.3 622.6,469.8 623.0,468.1 623.5,467.6 624.2,468.4 625.0,468.3 625.7,468.6 626.4,468.6 627.1,468.8 627.9,469.5 628.7,469.8 629.6,470.3 630.3,470.6 631.0,469.8 631.8,469.9 632.5,470.6 633.3,469.9 634.2,470.5 635.0,470.5 635.8,471.5 636.7,470.3 637.6,470.4 638.4,470.6 639.3,470.2 640.1,469.9 641.0,470.7 641.8,471.1 642.6,470.9 643.4,470.4 644.3,470.9 645.1,470.5 645.9,471.0 646.8,471.7 647.6,471.8 648.4,471.3 649.2,471.3 650.1,471.1 650.9,471.2 651.7,471.3 652.5,471.7 653.2,470.7 654.0,472.4 654.9,471.1 655.8,472.5 656.7,471.8 657.5,472.2 658.4,471.4 659.3,472.2 660.1,472.5 660.9,472.2 661.7,472.3 662.5,473.8 663.2,473.3 664.0,472.8 664.8,474.3 665.5,474.9 666.2,475.4 667.0,474.8 667.7,476.9 668.5,477.1 669.3,477.6 670.0,477.4 670.8,477.7 671.6,476.8 672.5,477.1 673.3,477.0 674.2,476.4 675.1,477.6 675.9,476.2 676.8,476.2 677.6,475.3 678.4,475.9 679.2,475.8 680.0,475.7 680.8,475.3 681.5,474.9 682.3,475.6 683.0,474.1 683.8,473.5 684.5,473.0 685.2,473.8 686.0,472.3 686.5,474.5 687.1,474.2 687.7,474.9 688.2,476.0 688.7,476.5 689.1,477.2 689.4,477.8 689.6,479.5 689.7,480.2 689.9,480.8 690.0,480.8 690.1,482.7 690.2,483.5 690.3,483.7 690.4,485.8 690.5,487.0 690.6,486.7 690.7,488.0 690.8,487.7 690.8,489.2 690.9,489.9 691.0,489.9 691.1,491.7 691.1,493.4 691.2,492.9 691.3,494.1 691.4,495.2 691.5,496.5 691.6,497.4 691.7,497.1 691.8,499.6 691.9,499.4 692.0,499.6 692.2,500.6 692.4,501.3 692.6,502.7 692.9,503.3 693.1,504.4 693.4,504.3 693.6,505.2 693.8,505.8 694.0,506.9 694.1,507.5 694.2,508.3 694.3,509.2 694.4,510.7 694.5,509.8 694.5,510.6 694.6,511.9 694.7,513.1 694.7,512.9 694.8,513.6 694.8,516.7 694.8,516.6 694.9,517.3 694.9,517.5 695.0,519.3 695.0,519.6 695.0,520.2 695.0,521.1 695.1,522.3 695.1,522.9 695.1,522.5 695.1,523.7 695.1,522.9 695.1,524.7 695.2,524.5 695.2,526.7 695.2,525.3 695.2,527.3 695.2,528.1 695.2,528.6 695.2,529.7 695.2,529.7 695.2,530.5 695.2,531.9 695.3,532.4 695.3,534.4 695.3,534.5 695.3,535.3 695.3,535.6 695.3,535.9 695.3,536.3 695.3,538.3 695.3,539.1 695.3,538.5 695.3,541.0 695.3,541.2 695.3,542.7 695.3,543.5 695.3,543.8 695.3,544.5 695.3,546.2 695.3,547.0 695.3,547.3 695.3,548.4 695.3,549.2 695.3,550.4 695.3,551.5 695.3,551.8 695.3,553.1 695.3,553.1 695.3,554.6 695.3,555.8 695.3,556.4 695.3,557.2 695.3,558.1 695.3,558.8 695.3,560.0 695.3,561.0 695.3,562.0 695.3,562.4 695.3,563.1 695.3,563.7 695.3,565.6 695.3,566.3 695.3,565.9 695.3,568.0 695.3,568.9 695.3,569.0 695.3,570.9 695.3,571.0 695.3,571.2 696.1,571.8 696.9,572.7 697.6,571.7 698.4,572.7 699.2,573.3 700.0,573.2" fill="none" stroke="#ff0000" stroke-width="2.4" stroke-linejoin="round" stroke-linecap="round" stroke-opacity="0.90"/>
<polyline points="132.5,568.8 132.6,567.7 132.7,566.1 132.8,566.4 132.9,564.3 133.0,565.0 133.1,563.8 133.2,562.2 133.3,561.8 133.4,561.6 133.5,559.5 133.6,559.2 133.6,558.0 133.7,558.5 133.8,557.4 133.9,557.1 134.0,555.3 134.1,554.5 134.2,553.9 134.3,552.7 134.4,552.7 134.5,551.5 134.6,550.9 134.7,549.5 134.8,548.7 134.9,548.7 135.0,547.5 135.1,546.1 135.2,546.1 135.3,544.5 135.4,543.7 135.5,543.6 135.7,542.5 135.8,541.3 135.9,540.6 136.0,540.7 136.1,539.2 136.2,537.4 136.3,537.1 136.5,537.3 136.6,536.1 136.7,535.1 136.8,534.5 136.9,533.0 137.0,532.7 137.2,531.9 137.3,531.3 137.4,530.4 137.5,529.0 137.6,529.1 137.8,527.4 137.9,526.4 138.0,525.8 138.1,524.5 138.3,523.4 138.4,523.7 138.5,522.9 138.7,521.4 138.8,520.3 138.9,519.7 139.1,519.1 139.2,518.8 139.3,518.3 139.5,517.2 139.6,516.4 139.8,516.0 139.9,515.1 140.1,514.1 140.2,513.8 140.4,512.6 140.5,512.0 140.7,511.3 140.8,511.4 141.0,509.3 141.2,508.9 141.5,508.2 141.8,507.9 142.0,507.1 142.3,505.8 142.6,505.2 142.9,503.8 143.1,502.3 143.4,503.2 143.7,501.8 144.0,501.6 144.3,500.1 144.6,498.8 144.8,498.8 145.1,498.0 145.3,496.9 145.6,495.6 145.8,495.6 146.0,494.6 146.2,494.1 146.4,493.7 146.5,491.9 146.6,491.8 146.8,491.4 146.9,490.3 147.0,489.5 147.1,488.0 147.2,487.1 147.3,486.3 147.4,485.5 147.5,484.8 147.6,483.7 147.7,483.2 147.9,482.5 148.0,481.3 148.2,480.8 148.3,479.9 148.5,480.9 148.9,479.9 149.3,478.5 149.8,477.7 150.3,476.4 150.7,475.5 151.4,477.0 152.0,478.1 152.7,478.5 153.4,478.4 154.0,477.7 154.7,479.7 155.5,479.8 156.4,479.2 156.9,478.8 157.6,478.7 158.3,478.5 159.1,479.4 159.9,478.6 160.8,478.7 161.8,478.6 162.7,478.8 163.7,479.1 164.6,479.4 165.6,478.2 166.5,478.5 167.3,478.0 168.1,478.3 168.8,477.7 169.5,478.6 170.6,477.2 171.5,478.3 172.4,477.3 173.2,478.8 174.1,477.2 174.8,476.4 175.4,476.3 176.0,476.2 176.7,474.3 177.3,475.3 177.9,473.4 178.6,473.8 179.3,472.8 180.1,472.2 181.0,472.4 181.9,471.3 182.8,470.5 183.6,471.1 184.5,471.2 185.2,471.0 185.9,469.7 186.5,469.3 187.0,468.6 187.6,468.9 188.1,467.7 188.7,466.7 189.2,466.5 189.6,465.4 190.1,464.3 190.5,464.1 191.0,463.5 191.4,462.9 191.9,462.1 192.3,460.6 192.8,460.7 193.3,459.9 193.8,459.0 194.2,458.0 194.7,457.4 195.2,457.0 195.6,456.2 196.1,455.3 196.6,454.7 197.1,453.7 197.6,453.4 198.1,451.9 198.7,451.3 199.2,451.2 199.9,451.2 200.5,450.1 201.2,450.0 201.9,449.1 202.6,449.6 203.4,448.4 204.2,448.3 205.0,448.7 205.8,448.2 206.6,447.8 207.4,447.0 208.3,447.7 209.2,447.3 210.1,446.7 211.0,446.8 211.9,447.0 212.7,447.0 213.5,445.8 214.3,446.4 215.1,446.2 215.9,445.6 216.6,445.8 217.3,444.1 218.0,443.7 218.7,442.6 219.4,442.3 220.2,442.2 220.9,441.7 221.7,441.2 222.5,440.9 223.3,441.3 224.2,440.6 225.0,440.7 225.8,438.9 226.7,440.0 227.5,439.5 228.3,439.6 229.2,439.9 230.1,439.2 231.0,439.1 231.9,439.2 232.7,438.7 233.6,439.8 234.5,439.4 235.3,439.7 236.2,440.2 237.0,439.7 237.8,440.8 238.6,441.6 239.4,441.4 240.3,442.1 241.2,442.0 242.0,443.0 242.7,443.3 243.6,442.9 244.4,442.3 245.2,443.4 246.1,443.6 246.9,443.0 247.7,441.9 248.5,442.6 249.3,443.2 250.2,442.1 251.0,442.4 251.8,442.6 252.5,442.4 253.3,441.6 254.1,442.0 255.0,442.1 255.8,441.8 256.6,443.1 257.4,443.6 258.3,443.8 259.1,443.0 260.0,443.5 260.9,444.4 261.7,445.4 262.6,444.5 263.4,445.2 264.2,443.8 265.1,445.2 265.9,444.8 266.7,446.0 267.5,445.4 268.3,445.4 269.2,445.9 270.0,446.0 270.8,446.3 271.6,446.3 272.4,446.1 273.3,445.5 274.1,444.8 274.9,445.3 275.7,446.0 276.5,445.6 277.3,446.4 278.1,445.4 278.9,445.8 279.7,446.8 280.5,446.7 281.3,446.3 282.0,447.6 282.8,448.6 283.6,447.9 284.4,447.0 285.2,447.8 286.0,447.0 286.8,447.1 287.7,446.3 288.5,446.7 289.3,446.0 290.2,444.9 291.0,445.3 291.8,445.5 292.6,445.0 293.5,444.2 294.4,444.7 295.3,443.6 296.2,443.1 297.0,442.9 297.8,443.3 298.5,442.0 299.1,441.9 300.0,441.8 300.6,441.9 301.2,440.8 301.4,441.1 301.6,439.3 301.7,438.9 301.8,438.0 301.8,438.1 301.8,435.9 301.8,435.2 301.8,433.0 301.8,433.4 301.9,432.4 303.0,432.3 304.2,432.4 304.3,433.0 304.5,434.1 304.6,435.1 304.7,435.7 304.8,437.0 305.0,437.1 305.1,438.2 305.2,439.7 305.4,440.6 305.5,441.2 305.6,441.9 305.8,442.3 305.9,443.1 306.1,444.0 306.2,445.0 306.5,445.9 306.9,446.4 307.3,447.8 307.9,449.7 308.6,448.9 309.3,450.1 310.1,448.8 311.0,448.2 311.9,448.4 312.9,448.7 313.8,447.2 314.7,449.1 315.6,447.2 316.5,448.5 317.4,448.0 318.3,448.3 319.2,447.8 320.1,447.7 320.9,447.4 321.7,447.9 322.5,446.8 323.3,447.0 324.1,445.8 324.9,446.0 325.6,446.1 326.4,446.0 327.2,445.3 328.0,446.0 328.7,446.5 329.5,447.5 330.2,447.3 331.0,448.2 331.7,447.8 332.4,448.2 333.0,450.0 333.6,448.8 334.2,451.0 334.8,451.4 335.5,451.3 336.2,453.0 336.9,453.1 337.6,452.1 338.4,451.4 339.2,453.0 340.0,452.6 340.8,452.3 341.6,452.3 342.5,452.4 343.3,451.4 344.2,451.9 345.0,450.5 345.8,450.3 346.6,451.3 347.4,450.3 348.2,450.7 349.0,449.4 349.8,449.8 350.6,449.3 351.4,449.2 352.2,449.1 353.1,450.2 353.8,449.9 354.5,449.8 355.3,450.1 356.0,450.9 356.7,450.6 357.5,450.4 358.2,451.7 359.0,452.3 359.8,452.5 360.5,453.1 361.3,453.8 362.1,453.9 362.9,454.0 363.7,454.9 364.5,454.3 365.3,454.4 366.1,454.4 366.9,454.7 367.7,454.8 368.5,453.6 369.4,453.4 370.2,454.3 371.0,453.4 371.9,453.2 372.7,452.3 373.5,453.2 374.4,451.8 375.2,452.7 376.0,452.1 376.8,452.0 377.6,451.6 378.4,451.2 379.3,451.0 380.1,452.4 381.0,451.8 381.8,452.8 382.6,453.0 383.5,453.2 384.3,452.8 385.1,452.6 385.9,453.0 386.7,453.1 387.5,454.1 388.2,454.1 389.0,454.4 389.9,455.7 390.7,454.4 391.5,454.2 392.3,454.6 393.1,454.0 393.9,453.9 394.7,454.4 395.5,455.0 396.3,454.7 397.2,454.8 398.0,454.7 398.7,456.3 399.5,456.2 400.3,456.6 401.1,456.0 401.9,457.0 402.7,456.4 403.6,457.2 404.4,456.8 405.2,456.8 406.1,457.1 406.9,457.4 407.8,457.4 408.6,457.2 409.4,457.2 410.2,457.4 411.0,456.3 411.8,457.0 412.6,458.4 413.4,457.5 414.2,458.0 415.0,456.7 415.8,457.3 416.6,457.3 417.5,457.5 418.3,457.0 419.1,456.1 420.0,457.0 420.8,457.2 421.7,456.3 422.5,456.3 423.3,457.4 424.0,456.4 424.8,456.3 425.6,457.4 426.5,457.1 427.3,456.8 428.1,456.9 428.9,457.5 429.7,457.0 430.6,456.6 431.4,457.2 432.2,457.4 433.1,456.7 433.9,457.4 434.7,457.5 435.5,457.0 436.4,457.2 437.2,457.0 438.0,456.6 438.8,456.0 439.6,458.4 440.5,457.4 441.3,457.3 442.1,456.9 442.9,457.6 443.8,458.1 444.6,457.6 445.4,458.0 446.2,458.4 447.0,457.7 447.9,458.4 448.7,458.9 449.5,457.3 450.3,457.9 451.1,457.3 452.0,458.2 452.8,458.3 453.6,458.1 454.4,458.3 455.2,458.9 456.1,459.6 456.9,458.8 457.8,458.3 458.6,458.3 459.5,458.8 460.3,459.1 461.2,459.6 462.1,459.9 462.9,457.7 463.7,458.2 464.6,459.0 465.4,459.4 466.2,459.0 467.0,458.8 467.8,458.7 468.5,459.0 469.3,459.2 470.0,458.5 470.9,458.9 471.8,458.5 472.7,458.6 473.6,458.0 474.4,458.3 475.3,458.0 476.1,457.6 476.9,457.7 477.7,458.3 478.5,459.0 479.3,458.8 480.1,457.7 480.8,459.1 481.5,459.0 482.3,458.9 483.0,460.5 483.7,460.3 484.4,461.8 485.2,461.0 485.9,461.2 486.7,462.7 487.5,462.7 488.3,461.7 489.1,462.4 489.9,462.0 490.7,462.3 491.6,462.6 492.5,462.1 493.3,462.3 494.2,462.8 495.1,463.4 495.9,463.6 496.8,462.9 497.6,462.3 498.4,462.7 499.2,462.5 500.1,462.7 500.9,462.0 501.7,462.7 502.5,462.6 503.2,462.6 504.0,462.1 504.8,460.6 505.6,461.6 506.4,460.9 507.3,461.3 508.1,460.9 508.9,460.3 509.7,460.8 510.5,461.0 511.4,460.6 512.2,460.7 513.1,460.0 514.0,461.1 514.8,459.8 515.7,460.7 516.5,461.7 517.4,461.5 518.2,462.0 519.0,461.8 519.9,461.6 520.8,461.9 521.7,461.0 522.5,461.5 523.4,461.6 524.2,461.2 525.1,461.6 525.9,460.5 526.7,460.5 527.5,461.5 528.3,461.0 529.1,460.6 530.0,461.2 530.8,462.7 531.6,462.3 532.4,462.5 533.2,462.9 533.9,464.4 534.6,463.4 535.3,463.7 536.1,464.5 536.8,465.0 537.4,467.0 538.1,466.2 538.7,466.8 539.4,467.3 540.0,467.3 540.6,469.4 541.2,469.6 541.8,471.2 542.3,471.8 542.9,471.6 543.5,472.7 544.1,474.3 544.7,473.6 545.4,473.4 546.1,475.0 546.8,475.7 547.6,475.9 548.4,475.9 549.3,477.1 549.9,477.9 550.6,477.3 551.4,476.8 552.2,476.2 553.0,476.6 553.8,476.5 554.7,475.9 555.5,476.9 556.4,475.9 557.2,476.2 558.1,476.1 558.9,477.4 559.7,476.2 560.5,476.1 561.3,476.8 562.2,476.5 563.0,477.7 563.8,477.6 564.6,477.9 565.4,476.9 566.2,477.4 567.0,477.3 567.8,477.9 568.6,478.4 569.4,478.8 570.2,478.1 571.1,478.4 571.9,479.5 572.8,479.4 573.6,479.3 574.5,480.1 575.3,481.0 576.1,480.1 576.9,480.6 577.7,481.4 578.4,480.6 579.1,481.8 580.0,480.5 580.9,481.7 581.7,481.8 582.5,481.6 583.2,481.0 584.0,480.9 584.6,480.2 585.3,479.6 585.9,479.1 586.5,478.0 587.1,477.4 587.7,477.1 588.2,476.2 588.8,475.9 589.3,474.9 589.8,474.2 590.3,473.4 590.8,472.8 591.3,471.9 591.7,471.3 592.2,471.6 592.7,469.6 593.1,468.9 593.6,468.7 594.0,468.4 594.4,467.4 594.9,466.6 595.3,466.0 595.7,465.9 596.1,464.4 596.5,463.8 596.9,462.7 597.3,461.2 597.7,461.7 598.1,460.7 598.5,460.8 598.9,459.1 599.2,458.1 599.5,457.7 599.9,457.7 600.2,456.8 600.6,455.1 600.9,455.1 601.2,453.1 601.6,452.3 601.9,452.2 602.2,451.6 602.6,450.1 602.9,449.8 603.3,449.2 603.7,448.3 604.1,447.7 604.6,446.8 605.0,445.6 605.4,445.8 605.9,444.5 606.3,444.0 606.8,443.8 607.2,442.0 607.7,442.3 608.2,441.4 608.8,441.4 609.5,440.3 610.1,439.8 610.8,440.1 611.5,438.5 612.2,437.9 613.0,437.3 613.7,438.4 614.6,438.1 615.4,438.7 616.3,437.9 617.2,437.7 618.0,439.2 618.9,438.5 619.7,437.8 620.5,437.7 621.2,437.5 621.8,437.0 622.5,436.8 623.1,435.9 623.7,435.8 624.2,434.5 624.8,434.2 625.4,432.7 626.0,432.1 626.6,431.5 627.2,429.9 627.8,431.4 628.4,430.8 629.0,429.3 629.6,429.1 630.2,428.2 630.8,427.7 631.4,428.1 632.1,426.1 632.7,426.2 633.4,426.1 634.2,424.6 635.0,426.0 635.8,424.8 636.5,425.1 637.3,424.9 638.1,424.3 638.8,424.1 639.6,424.9 640.4,424.5 641.1,425.1 641.9,425.8 642.6,425.4 643.4,424.5 644.3,425.2 645.2,426.4 646.1,426.7 647.0,425.2 647.9,425.0 648.4,425.0 649.0,423.7 649.5,424.3 650.0,422.9 650.5,421.8 650.9,420.6 651.4,421.5 651.9,419.5 652.4,418.6 652.9,418.2 653.5,416.9 654.0,417.5 654.5,415.8 655.0,415.8 655.5,413.8 656.0,414.1 656.6,413.4 657.1,413.6 657.6,412.2 658.2,411.4 658.7,411.0 659.3,410.0 659.8,409.0 660.4,407.4 661.0,407.1 661.6,406.5 662.2,406.6 662.8,405.1 663.5,404.9 664.1,406.2 664.8,404.1 665.5,404.1 666.2,403.5 666.8,402.0 667.5,403.3 668.2,402.5 668.9,401.3 669.5,400.8 670.2,400.4 670.8,399.1 671.5,398.7 672.1,398.8 672.8,397.7 673.4,397.4 674.0,397.1 674.6,396.5 675.3,395.7 675.9,395.2 676.5,395.4 677.1,394.3 677.8,393.5 678.4,393.7 679.1,392.3 679.8,391.5 680.5,391.6 681.2,390.9 682.0,391.5 682.7,388.9 683.4,388.6 684.1,390.4 684.7,388.6 685.4,387.5 686.0,387.4 686.6,387.8 687.1,386.5 687.7,386.5 688.2,384.4 688.7,384.5 689.2,383.8 689.6,383.9 690.1,382.8 690.5,382.0 690.9,380.9 691.3,381.6 691.7,379.6 692.1,379.0 692.4,377.1 692.7,377.3 693.0,376.5 693.3,376.5 693.6,375.4 693.9,374.8 694.2,373.7 694.4,371.4 694.7,372.3 694.9,371.3 695.1,370.6 695.3,369.9 695.5,368.7 695.8,368.7 696.0,367.4 696.2,366.0 696.4,366.0 696.6,364.9 696.8,364.4 697.0,362.0 697.2,362.4 697.4,361.9 697.6,361.2 697.8,360.1 697.9,358.5 698.1,357.8 698.3,357.1 698.5,356.2 698.7,356.1 698.8,355.3 699.0,355.0 699.2,353.2 699.4,351.8 699.6,351.7 699.7,350.8 699.9,350.4 700.1,349.8 700.3,347.9 700.5,348.1 700.7,346.3 700.9,346.3 701.2,345.3 701.4,344.7 701.6,344.9 701.8,343.3 702.0,341.6 702.2,341.7 702.4,340.6 702.6,340.3 702.8,337.9 703.0,338.4 703.1,337.0 703.2,336.5 703.3,335.4 703.4,334.8 703.5,334.8 703.6,333.7 703.7,333.0 703.8,331.5 703.9,331.3 704.0,330.2 704.0,330.2 704.1,328.0 704.2,328.0 704.3,325.8 704.3,325.9 704.4,325.3 704.5,324.4 704.6,323.9 704.6,322.8 704.7,322.7 704.8,320.6 704.8,320.9 704.9,320.0 705.0,318.4 705.1,317.5 705.2,317.2 705.2,316.7 705.3,314.5 705.4,314.1 705.5,313.8 705.6,312.9 705.7,312.4 705.8,310.9 705.9,311.2 706.1,309.9 706.2,309.0 706.3,308.4 706.4,307.4 706.5,306.9 706.6,305.1 706.8,305.2 706.9,304.8 707.0,303.8 707.1,302.4 707.3,301.8 707.4,300.4 707.5,300.8 707.6,300.4 707.8,298.9 707.9,298.2 708.0,297.6 708.1,295.9 708.3,295.0 708.4,294.2 708.5,294.2 708.6,293.1 708.7,292.9 708.9,291.1 709.0,291.7 709.1,289.4 709.2,289.5 709.3,289.0 709.4,287.3 709.6,286.1 709.7,285.9 709.8,284.7 709.9,284.2 710.0,282.6 710.2,283.2 710.3,281.6 710.4,280.5 710.5,280.4 710.6,279.5 710.8,278.4 710.9,277.4 711.0,276.4 711.1,276.3 711.2,275.6 711.3,274.9 711.5,272.7 711.6,272.2 711.7,272.1 711.8,271.4 711.9,270.1 712.1,269.9 712.2,269.2 712.4,268.5 712.6,267.5 712.7,266.8 712.9,265.6 713.0,266.2 713.2,263.5 713.4,263.2 713.5,262.5 713.7,262.0 713.8,261.0 714.0,260.1 714.1,261.4 714.1,261.0 714.2,262.2 714.3,263.1 714.3,264.1 714.4,266.0 714.5,265.3 714.5,266.2 714.6,266.9 714.7,267.7 714.8,268.5 714.8,269.0 714.9,269.8 715.0,270.9 715.0,272.0 715.1,272.4 715.1,272.3 715.2,273.6 715.3,274.1 715.3,275.4 715.4,276.8 715.4,278.1 715.4,277.7 715.4,278.8 715.5,278.5 715.5,280.4 715.5,281.3 715.5,281.1 715.5,281.1 715.5,283.4 715.6,283.7 715.6,283.3 715.6,284.7 715.6,285.3 715.6,285.1 715.6,286.6 715.6,287.1 715.7,286.8 715.7,288.2 715.7,288.0 715.7,290.7 715.7,290.2 715.7,292.2 715.7,292.0 715.7,292.8 715.7,294.2 715.7,294.1 715.7,294.2 715.7,295.2 715.7,296.3 715.7,297.5 715.7,298.2 715.8,298.8 715.8,298.7 715.8,300.5 715.8,301.7 715.8,301.4 715.8,303.2 715.8,303.1 715.8,304.5 715.8,305.1 715.8,306.5 715.8,307.6 715.8,307.7 715.8,308.4 715.8,308.8 715.8,309.9 715.8,311.3 715.8,312.3 715.8,311.9 715.8,314.3 715.8,314.3 715.7,315.7 715.7,316.3 715.7,318.2 715.7,318.0 715.7,319.1 715.7,319.3 715.7,321.2 715.7,321.5 715.7,322.4 715.7,323.3 715.7,324.4 715.7,325.5 715.7,325.6 715.7,327.1 715.7,327.8 715.7,328.3 715.7,329.8 715.7,331.4 715.7,330.5 715.7,332.0 715.7,332.9 715.7,335.2 715.7,334.7 715.7,335.4 715.7,336.6 715.7,338.5 715.7,338.0 715.7,339.7 715.7,340.6 715.7,341.2 715.7,341.6 715.7,342.5 715.7,343.9 715.7,344.1 715.7,345.4 715.7,345.2 715.7,346.1 715.7,347.5 715.7,349.1 715.7,350.1 715.7,350.7 715.7,351.7 715.7,351.9 715.7,352.7 715.7,354.2 715.7,353.9 715.7,355.1 715.7,356.2 715.7,357.1 715.7,357.7 715.7,358.1 715.7,358.6 715.7,360.0 715.7,361.2 715.7,361.1 715.7,361.3 715.7,362.5 715.7,363.0 715.7,363.3 715.8,365.4 715.8,365.5 715.8,365.8 715.8,368.0 715.8,367.6 715.8,368.8 715.8,369.2 715.8,370.3 715.8,371.5 715.8,371.5 715.8,372.7 715.8,372.6 715.8,374.7 715.8,375.5 715.8,374.7 715.8,375.9 715.8,377.8 715.8,378.1 715.8,378.4 715.8,379.3 715.8,380.6 715.8,381.2 715.8,381.6 715.8,383.3 715.8,383.3 715.8,383.6 715.8,385.0 715.8,387.0 715.8,386.1 715.8,387.5 715.8,388.4 715.8,389.9 715.8,390.4 715.8,391.2 715.8,391.4 715.8,392.5 715.8,393.0 715.8,394.2 715.8,394.3 715.8,395.0 715.8,395.9 715.9,397.7 715.9,398.0 715.9,399.5 715.9,398.6 715.9,399.9 715.9,400.7 715.9,402.9 715.9,402.4 715.9,404.6 715.9,404.3 715.9,405.1 715.9,405.6 715.9,407.7 715.9,407.7 715.9,408.7 715.9,409.6 715.9,411.1 715.9,410.8 715.9,411.2 715.9,412.5 715.9,413.1 715.9,413.7 715.9,415.1 715.9,414.9 715.9,417.4 715.9,417.5 715.9,418.5 715.9,418.8 715.9,420.1 715.9,421.0 715.9,421.7 715.9,422.7 715.9,422.7 715.9,424.4 715.9,423.8 715.9,425.6 715.9,426.2 715.9,427.6 715.9,428.4 715.9,428.9 715.9,429.5 715.9,430.1 715.9,432.3 716.0,432.5 716.0,432.5 716.0,433.9 716.0,434.3 716.0,435.4 716.0,435.7 716.0,437.1 716.0,438.7 716.0,439.1 716.0,439.2 716.0,441.4 716.0,441.4 716.0,441.9 716.0,443.5 716.0,444.9 716.0,445.8 716.0,446.0 716.0,447.3 716.0,447.3 716.0,448.5 716.0,449.3 716.0,450.6 716.0,450.6 716.0,451.6 716.0,452.4 716.0,453.5 716.0,454.3 716.0,454.9 716.0,455.7 716.0,456.3 716.0,457.5 716.0,457.3 716.0,459.0 716.0,459.1 716.0,459.3 716.0,459.9 716.0,461.4 716.0,462.8 716.0,462.8 716.0,464.7 716.0,464.4 716.0,466.8 716.0,466.0 716.0,466.8 716.0,468.3 716.0,468.3 716.1,470.0 716.1,470.8 716.1,469.9 716.1,471.8 716.1,473.1 716.1,473.4 716.1,474.4 716.1,475.2 716.1,475.9 716.1,476.7 716.1,476.8 716.1,478.8 716.1,479.3 716.1,479.5 716.1,480.5 716.1,481.4 716.1,482.4 716.1,483.6 716.1,484.1 716.1,485.0 716.1,485.0 716.1,487.1 716.1,486.4 716.1,487.8 716.1,488.4 716.1,489.4 716.1,489.7 716.1,491.2 716.1,492.0 716.1,493.0 716.1,493.4 716.1,494.9 716.1,494.4 716.1,495.1 716.1,496.6 716.1,497.9 716.1,497.2 716.1,499.8 716.1,500.2 716.1,501.2 716.1,501.3 716.1,502.6 716.1,503.1 716.1,503.7 716.1,504.5 716.1,504.5 716.1,506.2 716.1,507.6 716.1,507.3 716.1,508.4 716.1,509.2 716.2,510.5 716.2,510.8 716.2,512.6 716.2,511.9 716.2,513.8 716.2,514.0 716.2,515.2 716.2,516.1 716.2,517.2 716.2,517.3 716.2,518.6 716.2,519.7 716.2,520.4 716.2,521.0 716.2,522.1 716.2,523.2 716.2,522.5 716.2,523.9 716.2,524.9 716.2,526.3 716.2,527.1 716.2,527.6 716.2,528.1 716.2,528.5 716.2,529.9 716.2,531.1 716.2,531.5 716.2,532.1 716.2,533.6 716.2,534.1 716.2,534.4 716.2,535.3 716.2,536.4 716.2,537.6 716.2,538.0 716.2,539.7 716.2,539.9 716.2,540.7 716.2,541.7 716.2,542.6 716.2,542.3 716.2,543.7 716.2,544.0 716.2,546.0 716.2,547.4 716.2,547.1 716.2,547.5 716.2,549.3 716.2,550.0 716.2,550.1 716.2,551.3 716.2,550.9 716.3,552.5 716.3,553.3 716.3,554.5 716.3,555.3 716.3,555.8 716.3,556.7 716.3,557.3 716.3,558.6 716.3,559.0 716.3,559.6 716.3,560.9 716.3,561.7 716.3,562.4 716.3,564.3 716.3,564.4 716.3,565.0 716.3,565.8 716.3,566.4 716.3,567.7 716.3,568.0 716.3,569.2 716.3,569.8 716.3,570.1 716.3,570.9 716.3,572.9 716.3,572.7 717.1,572.6 718.0,573.0 718.8,573.0 719.6,573.5 720.5,572.4 721.3,572.9 722.1,573.7 723.0,572.2 723.8,572.9 724.6,573.1 725.5,573.0 726.3,573.4 727.2,573.6 728.0,573.0 728.8,573.4 729.7,573.7 730.5,572.8 731.3,573.1 732.2,574.3 733.0,573.1" fill="none" stroke="#ff0000" stroke-width="2.4" stroke-linejoin="round" stroke-linecap="round" stroke-opacity="0.90"/>
<polyline points="130.0,569.4 130.0,567.8 130.1,566.1 130.1,566.6 130.2,565.5 130.2,564.4 130.3,564.5 130.3,562.5 130.4,562.9 130.4,560.4 130.5,559.9 130.5,559.9 130.6,558.4 130.6,557.6 130.7,556.7 130.7,556.4 130.8,555.0 130.8,555.7 130.9,554.3 130.9,553.5 131.0,552.1 131.0,551.1 131.1,550.7 131.1,549.7 131.2,549.8 131.2,548.7 131.3,546.5 131.3,546.9 131.4,546.3 131.4,545.3 131.5,543.9 131.5,543.7 131.6,543.0 131.6,542.2 131.7,541.2 131.7,540.4 131.8,539.2 131.8,538.0 131.9,537.3 131.9,537.7 132.0,535.8 132.0,535.0 132.1,533.8 132.1,534.5 132.2,531.8 132.2,532.5 132.3,531.4 132.3,530.0 132.4,528.9 132.4,528.7 132.5,527.9 132.5,527.2 132.6,526.3 132.6,526.1 132.7,524.1 132.7,524.1 132.8,523.4 132.8,522.7 132.9,521.3 132.9,521.1 133.0,519.7 133.1,519.1 133.1,517.8 133.2,518.2 133.2,518.2 133.3,516.9 133.3,515.1 133.4,515.0 133.4,513.0 133.5,512.3 133.5,512.6 133.6,510.9 133.7,511.0 133.7,509.1 133.8,508.2 133.8,508.6 133.9,506.4 133.9,506.3 134.0,506.2 134.0,504.3 134.1,503.8 134.2,503.8 134.2,501.8 134.3,500.8 134.3,500.2 134.4,499.4 134.4,498.8 134.5,498.5 134.6,497.0 134.6,497.3 134.7,495.2 134.7,495.1 134.8,495.0 134.8,493.3 134.9,492.1 135.0,491.7 135.0,491.5 135.1,489.6 135.1,489.6 135.2,488.0 135.3,487.4 135.3,487.6 135.4,485.8 135.4,484.3 135.5,485.1 135.5,483.4 135.6,481.0 135.7,481.4 135.7,481.5 135.8,479.7 135.8,478.6 135.9,478.5 135.9,477.7 136.0,477.2 136.1,476.4 136.1,475.5 136.2,474.2 136.2,473.5 136.3,472.1 136.3,471.9 136.4,471.0 136.4,470.5 136.5,470.2 136.6,470.1 136.6,468.2 136.7,466.8 136.7,466.5 136.8,466.0 136.9,465.0 136.9,463.9 137.0,463.4 137.0,461.9 137.1,461.6 137.2,460.2 137.2,460.3 137.3,459.4 137.3,458.2 137.4,457.2 137.5,456.1 137.5,455.4 137.6,454.0 137.7,453.8 137.7,453.1 137.8,453.2 137.8,450.9 137.9,450.5 137.9,449.5 138.0,448.5 138.1,447.7 138.1,447.2 138.2,445.9 138.2,445.3 138.3,445.5 138.4,443.7 138.4,442.4 138.5,441.4 138.5,441.2 138.6,440.3 138.7,440.3 138.7,438.7 138.8,438.6 138.8,437.4 138.9,436.7 139.0,436.5 139.0,436.0 139.1,434.3 139.1,433.8 139.2,434.3 139.3,432.1 139.3,432.5 139.4,431.5 139.4,430.1 139.5,429.5 139.6,429.2 139.7,427.2 139.8,427.1 139.9,426.3 140.0,425.7 140.0,424.3 140.1,424.2 140.2,423.2 140.3,422.0 140.4,421.5 140.5,420.9 140.6,419.8 140.7,419.3 140.8,418.5 140.9,417.7 141.0,417.4 141.0,416.6 141.1,415.6 141.2,414.2 141.3,413.7 141.4,413.0 141.5,411.8 141.7,412.9 141.8,414.8 142.0,413.8 142.1,414.8 142.3,415.1 142.4,416.8 142.6,417.5 142.7,417.7 142.9,418.3 143.0,420.5 143.1,420.5 143.1,420.3 143.2,422.3 143.2,422.2 143.3,423.4 143.3,424.1 143.4,424.6 143.4,425.2 143.5,426.0 143.5,426.5 143.5,427.9 143.6,428.4 143.6,429.0 143.7,429.5 143.7,430.5 143.7,431.0 143.7,432.3 143.8,432.6 143.8,433.3 143.8,434.2 143.9,435.7 143.9,436.1 143.9,437.0 143.9,439.2 143.9,438.7 144.0,439.5 144.0,441.2 144.0,441.6 144.0,442.0 144.1,443.3 144.1,444.9 144.1,445.6 144.1,445.6 144.1,447.0 144.2,448.0 144.2,449.6 144.2,449.9 144.2,450.0 144.2,450.5 144.2,451.8 144.3,452.6 144.3,452.9 144.3,454.0 144.3,455.0 144.3,455.5 144.3,456.7 144.3,457.6 144.3,458.0 144.3,458.7 144.3,459.1 144.4,459.0 144.4,460.2 144.4,461.1 144.4,461.8 144.4,463.2 144.4,464.5 144.4,463.7 144.4,465.5 144.4,466.8 144.4,467.3 144.4,467.8 144.4,468.1 144.4,468.7 144.4,470.6 144.4,471.3 144.4,471.9 144.4,472.5 144.4,473.1 144.4,474.8 144.4,475.4 144.4,475.7 144.4,476.4 144.5,477.4 144.5,477.7 144.5,478.9 144.5,479.3 144.5,481.0 144.5,482.3 144.5,481.9 144.5,484.1 144.5,483.7 144.5,483.9 144.5,486.8 144.5,487.0 144.5,488.3 144.5,488.6 144.5,490.4 144.5,490.6 144.5,491.5 144.5,492.9 144.5,493.0 144.5,493.5 144.5,494.9 144.5,495.7 144.5,495.9 144.5,497.8 144.5,497.7 144.5,498.0 144.5,499.3 144.5,500.3 144.5,500.5 144.5,502.8 144.5,503.2 144.5,503.5 144.5,503.8 144.5,506.2 144.5,506.7 144.5,507.7 144.5,506.7 144.5,509.2 144.5,510.0 144.5,510.2 144.5,511.4 144.5,512.7 144.7,511.2 144.8,510.6 145.0,509.8 145.2,508.3 145.4,507.5 145.5,506.2 145.8,504.9 146.0,505.2 146.3,504.2 146.6,503.0 147.0,502.5 147.4,501.3 147.7,501.4 148.1,501.3 148.9,500.9 149.7,501.1 150.5,501.2 151.4,500.7 152.2,501.8 153.0,501.5 153.8,501.4 154.6,503.5 155.4,503.2 156.2,501.9 156.9,504.6 157.7,504.1 158.5,504.4 159.2,504.5 160.0,505.7 160.7,505.4 161.4,506.4 162.1,506.1 162.8,506.8 163.7,507.9 164.5,508.7 165.3,508.4 166.1,508.8 166.9,509.8 167.7,509.3 168.5,508.8 169.3,509.4 170.2,508.2 171.0,509.2 171.8,508.0 172.6,507.0 173.4,507.8 174.2,505.9 174.9,505.7 175.6,505.7 176.3,504.9 177.0,505.0 177.7,503.2 178.3,503.7 178.8,502.0 179.3,501.1 179.8,499.6 180.2,499.3 180.6,499.7 181.1,498.3 181.5,497.9 181.9,496.7 182.4,495.5 182.9,494.7 183.4,495.6 183.8,494.2 184.3,493.7 184.8,491.9 185.3,491.7 185.9,490.3 186.5,489.8 187.2,489.8 188.0,488.8 188.8,488.1 189.6,488.5 190.5,488.0 191.3,488.2 192.2,488.3 193.0,487.8 193.8,487.4 194.6,487.3 195.4,485.8 196.2,486.3 197.1,485.8 197.9,486.0 198.7,486.1 199.5,486.0 200.3,486.0 201.1,485.9 201.9,485.9 202.7,485.2 203.5,485.3 204.3,484.9 205.0,484.8 205.7,484.0 206.3,483.7 206.9,482.5 207.5,482.7 208.1,481.8 208.7,481.3 209.3,480.3 210.0,480.5 210.8,479.4 211.5,478.6 212.2,478.8 213.0,479.5 213.8,478.7 214.7,478.7 215.5,478.6 216.4,478.5 217.3,478.7 218.2,479.0 219.1,478.4 220.0,479.3 220.9,479.3 221.7,478.6 222.5,478.5 223.3,478.8 224.1,478.8 224.9,478.0 225.7,477.7 226.5,478.1 227.3,477.6 228.1,478.3 228.8,476.6 229.6,476.1 230.3,476.0 231.1,476.6 231.8,476.0 232.6,476.0 233.4,475.1 234.1,475.1 234.9,473.9 235.7,474.0 236.5,473.7 237.2,473.2 237.9,473.4 238.6,473.4 239.3,471.5 240.0,472.2 240.8,471.2 241.6,471.5 242.3,470.4 243.0,471.9 243.8,470.2 244.7,470.6 245.4,471.0 246.2,470.6 247.0,471.3 247.9,470.9 248.8,470.7 249.6,471.6 250.5,471.6 251.4,471.3 252.3,472.3 253.2,471.7 254.0,472.0 254.9,471.5 255.8,471.2 256.6,471.4 257.5,471.2 258.4,470.5 259.2,470.4 260.0,469.8 260.8,469.7 261.5,469.7 262.2,469.4 263.1,468.8 263.8,468.5 264.6,468.1 265.5,466.8 266.2,466.8 266.9,467.0 267.8,465.2 268.6,466.2 269.5,465.9 270.4,465.7 271.3,465.1 272.2,464.1 273.1,465.1 273.9,464.3 274.7,463.7 275.5,463.7 276.3,463.9 277.1,463.6 277.9,462.1 278.7,462.4 279.4,462.5 280.2,462.0 281.0,462.2 281.8,461.2 282.5,460.9 283.3,460.2 284.1,460.6 284.8,459.6 285.7,459.3 286.5,458.6 287.3,459.6 288.1,458.9 288.9,459.4 289.8,459.7 290.6,460.6 291.5,460.4 292.4,460.3 293.2,460.5 294.1,460.5 294.9,461.4 295.7,461.9 296.6,461.1 297.4,461.3 298.3,460.5 299.1,461.4 299.9,460.8 300.8,461.1 301.5,460.0 302.3,460.1 303.2,460.7 304.1,460.7 305.0,461.5 305.8,461.1 306.7,460.3 307.5,461.0 308.2,461.8 308.9,462.2 309.5,462.8 310.1,463.0 310.8,463.7 311.4,463.9 312.1,463.4 312.8,464.6 313.5,465.7 314.1,466.2 314.8,466.9 315.5,467.4 316.2,467.8 316.9,467.8 317.6,467.5 318.4,467.9 319.1,468.6 319.9,468.8 320.7,469.7 321.6,470.3 322.4,471.2 323.3,471.1 324.1,472.9 324.9,471.8 325.7,472.8 326.4,471.7 327.2,472.0 327.8,470.9 328.5,471.3 329.1,469.8 329.8,469.9 330.6,469.1 331.3,468.2 332.1,468.4 332.9,468.6 333.8,468.3 334.7,468.1 335.6,467.5 336.5,468.4 337.3,466.4 338.2,466.5 339.0,466.6 339.9,467.5 340.7,467.0 341.5,466.5 342.4,466.7 343.2,467.5 344.1,467.3 345.0,466.4 345.7,465.7 346.5,466.1 347.2,465.0 348.1,465.1 348.9,464.9 349.7,464.1 350.6,463.6 351.4,463.6 352.3,463.2 353.1,464.1 354.0,462.4 354.8,463.3 355.6,462.8 356.3,461.9 357.1,462.0 357.9,463.0 358.6,463.7 359.3,464.3 360.0,463.8 360.7,464.7 361.4,465.6 362.1,465.6 362.9,466.2 363.7,466.6 364.5,467.1 365.2,466.5 366.0,467.6 366.8,468.4 367.6,468.7 368.4,468.4 369.2,468.8 370.1,468.5 371.0,467.2 371.8,468.4 372.7,468.0 373.6,468.4 374.4,468.4 375.2,467.8 376.1,468.7 376.8,469.0 377.6,468.7 378.4,470.4 379.2,469.8 380.0,469.6 380.8,469.4 381.5,470.8 382.3,471.8 383.0,471.6 383.7,472.1 384.5,472.0 385.2,472.9 385.9,473.7 386.7,473.4 387.4,474.5 388.1,474.2 388.9,474.8 389.6,475.2 390.4,476.4 391.1,476.0 391.8,476.1 392.6,477.0 393.3,477.8 394.0,477.0 394.8,477.7 395.6,478.5 396.4,479.3 397.2,479.2 398.0,478.9 398.7,479.3 399.5,479.5 400.3,480.3 401.2,479.9 402.0,479.9 402.8,480.6 403.7,481.7 404.5,480.5 405.4,481.8 406.2,482.0 407.0,481.2 407.9,481.8 408.7,481.2 409.5,481.8 410.3,481.9 411.1,482.4 412.0,482.0 412.8,481.4 413.6,482.0 414.3,481.0 415.1,481.0 415.9,479.6 416.7,480.9 417.5,479.8 418.3,479.4 419.1,478.7 420.0,478.9 420.8,479.1 421.7,478.9 422.4,478.9 423.2,479.0 424.0,478.4 424.8,478.6 425.6,479.1 426.4,479.2 427.2,478.8 428.1,478.2 428.9,478.8 429.8,479.8 430.6,479.3 431.5,480.3 432.3,480.0 433.1,480.0 434.0,479.9 434.8,479.9 435.6,480.3 436.4,479.9 437.2,480.1 438.0,479.7 438.9,480.5 439.7,480.4 440.6,480.3 441.5,480.6 442.3,481.0 443.2,479.8 444.0,480.3 444.9,481.3 445.7,480.7 446.5,481.2 447.3,481.2 448.1,481.7 448.9,482.2 449.6,482.0 450.4,481.7 451.1,481.7 451.9,483.1 452.7,482.5 453.5,482.9 454.2,484.1 454.9,483.0 455.6,483.9 456.3,484.7 457.0,484.9 457.7,485.4 458.5,485.2 459.3,485.5 460.1,485.3 460.8,485.9 461.6,484.9 462.4,484.7 463.3,485.3 464.1,485.2 465.0,485.3 465.8,485.1 466.7,484.2 467.5,484.2 468.3,484.3 469.1,484.7 469.9,483.6 470.7,484.2 471.6,484.2 472.5,483.3 473.4,483.0 474.2,484.1 475.1,483.8 475.9,483.6 476.8,483.9 477.6,484.4 478.5,482.8 479.3,483.1 480.1,482.1 480.9,482.0 481.7,482.1 482.5,481.5 483.3,482.3 484.1,482.1 484.9,482.2 485.8,481.3 486.6,480.7 487.5,479.9 488.3,480.9 489.1,480.2 489.9,480.1 490.7,479.6 491.6,479.5 492.4,479.0 493.3,480.1 494.2,479.6 495.0,478.7 495.9,479.5 496.7,479.7 497.6,478.6 498.4,479.2 499.2,478.6 500.1,479.0 501.0,478.3 501.9,478.0 502.8,478.2 503.6,478.1 504.5,477.1 505.3,477.4 506.2,477.4 507.0,477.3 507.7,477.2 508.5,477.4 509.4,476.5 510.3,476.4 511.2,475.8 512.0,475.5 512.8,474.7 513.6,474.5 514.3,475.9 515.1,475.0 515.8,475.5 516.5,476.3 517.1,476.3 517.8,476.7 518.5,477.8 519.2,477.3 519.9,478.3 520.6,478.3 521.3,479.2 522.0,479.6 522.7,477.9 523.5,479.0 524.2,477.9 525.1,476.7 526.0,476.9 526.7,476.0 527.5,476.9 528.3,475.6 529.1,475.2 530.0,476.3 530.9,476.8 531.8,475.6 532.7,475.5 533.6,476.4 534.5,475.0 535.3,475.9 536.1,475.1 537.0,475.7 537.8,474.8 538.7,475.4 539.5,475.7 540.3,475.8 541.1,475.6 541.9,475.9 542.7,474.8 543.5,476.1 544.3,476.1 545.1,475.5 545.9,476.7 546.6,476.9 547.4,477.5 548.1,477.7 548.9,476.9 549.7,478.0 550.5,478.4 551.3,478.7 552.1,478.3 552.8,478.2 553.6,478.9 554.5,479.1 555.3,478.8 556.1,478.6 557.0,478.4 557.8,477.7 558.7,478.6 559.5,479.1 560.2,478.8 561.0,478.3 561.8,479.8 562.6,479.7 563.5,478.8 564.3,479.4 565.1,479.8 565.9,479.0 566.8,479.7 567.6,479.5 568.4,479.9 569.2,480.7 570.0,479.2 570.9,480.6 571.7,480.4 572.6,481.0 573.4,481.4 574.2,481.0 575.1,480.8 575.9,482.2 576.7,481.8 577.5,481.9 578.4,482.0 579.2,481.8 580.0,482.5 580.8,480.9 581.6,481.6 582.3,481.6 583.1,481.5 583.9,480.0 584.7,479.9 585.4,479.8 586.2,480.1 587.0,479.7 587.7,479.5 588.5,478.3 589.2,478.1 590.0,478.4 590.7,477.3 591.5,477.3 592.2,477.1 592.9,476.1 593.6,475.1 594.3,475.9 595.0,475.7 595.7,473.6 596.4,474.2 597.2,473.9 597.9,473.9 598.6,473.2 599.3,472.6 600.0,471.8 600.7,471.6 601.4,470.2 602.1,471.0 602.9,470.2 603.6,469.5 604.3,469.2 605.0,469.3 605.7,468.4 606.4,468.1 607.1,468.4 607.8,466.0 608.6,467.3 609.3,467.0 610.0,465.4 610.7,464.7 611.4,465.7 612.1,464.8 612.8,464.6 613.5,463.9 614.3,463.2 615.0,462.3 615.7,461.5 616.4,462.3 617.1,462.4 617.8,462.3 618.5,461.3 619.3,460.4 620.0,461.2 620.8,460.5 621.6,460.1 622.4,460.6 623.1,459.0 623.9,460.7 624.7,460.6 625.5,459.7 626.3,459.2 627.1,460.3 627.9,459.9 628.8,458.1 629.6,458.2 630.4,458.4 631.2,458.7 632.0,459.3 632.8,458.1 633.6,458.8 634.4,458.2 635.2,458.3 636.1,457.5 636.9,458.4 637.7,456.1 638.5,456.2 639.4,456.5 640.2,455.8 641.0,456.0 641.8,456.6 642.6,454.7 643.3,455.4 644.1,455.1 644.9,453.3 645.6,454.5 646.4,453.3 647.2,453.7 647.9,452.6 648.7,452.0 649.4,451.6 650.2,451.7 651.0,450.7 651.7,450.8 652.5,450.9 653.2,450.3 654.0,450.2 654.7,449.0 655.5,449.2 656.2,449.1 656.9,447.8 657.6,447.2 658.4,447.7 659.1,447.3 659.8,446.8 660.6,446.0 661.3,446.7 662.0,446.7 662.7,446.3 663.4,446.0 664.1,444.2 664.8,444.8 665.5,443.9 666.2,443.0 667.0,444.2 667.8,443.3 668.6,442.9 669.3,443.1 670.1,442.3 670.9,441.9 671.6,441.8 672.4,441.6 673.1,442.4 673.9,441.7 674.6,441.4 675.4,440.0 676.2,439.5 676.9,440.4 677.7,440.3 678.4,440.5 679.2,439.3 680.0,438.8 680.7,438.7 681.5,438.0 682.2,438.8 683.0,438.5 683.7,437.5 684.5,438.3 685.3,437.8 686.1,438.4 686.9,437.0 687.7,436.3 688.5,436.5 689.3,436.3 690.1,436.9 690.9,436.5 691.6,436.7 692.4,435.2 693.0,434.5 693.7,434.3 694.3,435.1 694.8,433.7 695.4,432.7 695.9,432.1 696.4,432.7 696.9,432.0 697.3,431.6 697.8,429.8 698.2,428.6 698.6,428.3 699.0,427.2 699.3,426.8 699.7,425.5 700.0,424.5 700.2,424.9 700.4,423.4 700.6,423.3 700.7,421.9 700.9,421.3 701.0,421.4 701.2,419.6 701.3,418.9 701.4,418.8 701.5,418.7 701.6,417.5 701.7,416.8 701.8,414.5 701.8,414.9 701.9,413.9 702.0,413.0 702.0,411.8 702.1,411.2 702.1,409.7 702.2,409.7 702.3,408.7 702.3,407.4 702.4,406.8 702.4,406.4 702.5,405.2 702.6,404.2 702.6,403.1 702.7,402.9 702.8,401.1 702.9,401.4 703.0,400.2 703.1,398.6 703.2,398.2 703.3,397.7 703.4,396.7 703.5,396.1 703.5,395.3 703.6,393.6 703.7,393.3 703.8,392.6 703.8,391.6 703.9,390.8 704.0,388.6 704.1,387.6 704.1,387.7 704.2,387.3 704.3,385.6 704.4,384.3 704.5,383.3 704.6,383.8 704.7,382.8 704.8,381.1 705.0,380.4 705.1,379.3 705.3,379.6 705.4,379.1 705.6,377.7 705.8,377.3 706.0,377.1 706.3,376.4 706.5,376.1 707.0,374.7 707.6,374.8 708.3,372.9 708.9,372.1 709.6,372.2 710.3,372.6 710.9,372.0 711.5,370.3 712.0,370.6 712.4,368.2 712.7,368.5 713.0,367.5 713.2,367.0 713.5,366.3 713.7,365.5 713.9,365.4 714.1,363.9 714.3,362.1 714.5,363.2" fill="none" stroke="#ff0000" stroke-width="2.4" stroke-linejoin="round" stroke-linecap="round" stroke-opacity="0.90"/>
<polyline points="129.5,567.7 129.6,568.0 129.8,566.5 129.9,567.0 130.0,564.8 130.1,564.3 130.3,564.6 130.4,564.0 130.5,562.4 130.6,561.3 130.8,560.4 130.9,559.1 131.0,558.5 131.2,557.4 131.3,557.3 131.4,556.7 131.5,555.5 131.7,554.3 131.8,553.4 131.9,553.9 132.1,552.0 132.2,551.1 132.3,551.3 132.4,550.7 132.6,548.8 132.7,548.1 132.8,547.3 132.9,547.1 133.1,546.4 133.2,545.9 133.3,544.0 133.4,543.4 133.5,543.6 133.7,542.4 133.8,541.5 133.9,541.1 134.0,540.3 134.1,539.6 134.2,538.0 134.4,537.1 134.5,536.3 134.6,535.7 134.7,534.4 134.8,533.6 134.9,533.5 135.0,532.2 135.1,531.2 135.2,530.5 135.3,529.8 135.4,528.8 135.5,528.8 135.6,527.7 135.7,526.4 135.8,524.9 135.9,524.9 136.0,523.3 136.1,523.1 136.2,522.3 136.3,522.1 136.4,520.6 136.6,519.9 136.7,520.1 136.8,518.6 136.9,518.2 137.1,517.6 137.2,517.0 137.4,515.7 137.5,515.4 137.7,514.5 137.9,512.3 138.2,512.5 138.4,511.5 138.6,509.5 138.8,508.1 139.1,509.3 139.3,507.8 139.6,508.0 139.9,506.7 140.2,506.8 140.6,505.8 141.0,504.5 141.6,504.5 142.2,503.8 142.8,503.4 143.5,502.3 144.3,502.6 145.0,501.9 145.8,501.9 146.6,502.2 147.3,502.3 148.0,502.4 148.7,502.1 149.5,502.8 150.3,503.2 151.1,503.2 151.9,503.6 152.7,505.1 153.5,505.6 154.3,504.5 155.0,505.6 155.7,507.0 156.4,506.3 157.3,507.0 158.1,507.4 158.9,507.2 159.7,508.6 160.4,508.5 161.2,509.5 162.0,508.6 162.8,509.5 163.6,509.6 164.5,510.6 165.3,510.6 166.1,511.1 166.9,511.3 167.7,510.9 168.6,510.9 169.4,511.0 170.2,511.3 171.0,510.7 171.8,509.8 172.5,510.0 173.2,509.6 173.9,509.3 174.6,508.0 175.3,507.3 176.1,508.2 176.8,508.0 177.5,506.7 178.3,507.0 179.1,507.1 179.9,507.0 180.7,508.2 181.6,507.4 182.4,508.2 183.2,509.7 184.0,508.5 184.8,507.9 185.6,508.2 186.5,508.4 187.3,508.7 188.1,508.9 188.9,508.8 189.7,508.8 190.6,509.7 191.4,509.6 192.2,509.2 193.0,509.3 193.8,511.3 194.5,510.6 195.3,511.5 196.0,511.0 196.7,512.1 197.4,512.1 198.1,513.1 198.8,514.1 199.5,512.8 200.3,513.2 201.0,514.1 201.8,513.1 202.5,512.6 203.3,511.4 204.1,512.1 205.0,511.0 205.7,510.0 206.4,510.4 207.2,510.0 208.0,509.7 208.8,508.9 209.6,508.0 210.4,508.4 211.2,508.1 212.0,508.0 212.8,507.4 213.6,507.8 214.4,507.4 215.2,507.6 216.1,507.4 216.9,508.0 217.7,507.4 218.5,508.6 219.3,508.8 220.2,508.7 221.0,508.9 221.8,508.8 222.5,509.2 223.2,508.6 223.9,510.2 224.6,510.5 225.3,511.3 226.0,511.6 226.7,512.8 227.3,513.6 228.0,512.7 228.7,514.2 229.5,514.4 230.2,514.4 230.9,515.1 231.6,515.8 232.4,516.0 233.2,516.8 234.0,517.0 234.8,516.9 235.6,516.7 236.4,517.6 237.2,517.3 238.0,518.2 238.8,518.2 239.7,518.1 240.5,518.9 241.4,518.5 242.2,519.6 243.0,519.4 243.8,520.3 244.6,520.7 245.4,520.5 246.3,520.9 247.1,520.1 248.0,520.8 248.8,522.1 249.7,522.5 250.5,521.4 251.3,522.5 252.1,521.7 252.9,522.2 253.7,522.3 254.4,522.9 255.2,521.8 256.1,521.8 256.9,521.9 257.6,521.4 258.4,520.9 259.2,520.5 259.9,520.1 260.6,520.2 261.3,519.4 262.0,519.0 262.6,519.4 263.5,519.7 264.3,519.6 265.1,519.1 265.9,520.9 267.0,519.6 267.6,520.4 268.2,520.2 268.9,519.6 269.6,518.6 270.4,519.5 271.2,519.6 272.0,520.6 272.8,519.3 273.7,518.5 274.6,518.6 275.5,518.5 276.4,518.1 277.3,518.0 278.2,518.3 279.2,519.0 280.1,517.4 281.0,518.7 281.9,518.4 282.8,518.9 283.7,517.6 284.5,519.1 285.3,518.5 286.1,517.6 286.9,520.6 287.7,518.8 288.5,520.2 289.3,518.5 290.1,520.8 290.9,519.9 291.7,519.9 292.5,521.2 293.3,521.3 294.1,521.4 294.9,520.8 295.7,521.2 296.5,522.3 297.3,521.6 298.1,522.7 298.8,522.9 299.6,522.9 300.3,522.1 301.1,523.5 301.8,523.9 302.5,523.7 303.4,523.0 304.2,523.0 305.1,523.5 305.9,524.1 306.7,522.1 307.5,523.1 308.3,523.3 309.1,523.1 309.8,523.0 310.6,522.7 311.4,522.9 312.2,522.7 313.1,521.7 313.9,521.2 314.6,521.1 315.4,521.3 316.2,520.8 316.9,520.4 317.7,521.1 318.5,520.0 319.3,520.2 320.1,520.0 320.9,519.8 321.7,519.6 322.5,519.4 323.3,518.5 324.1,518.6 324.9,518.1 325.7,517.9 326.4,518.0 327.2,516.6 327.9,517.3 328.6,517.6 329.5,517.6 330.4,516.7 331.2,517.2 332.1,516.2 332.9,516.5 333.8,516.9 334.6,517.3 335.4,516.5 336.2,518.6 336.9,517.4 337.7,517.6 338.4,519.0 339.2,519.5 340.0,519.0 340.7,519.2 341.4,519.4 342.0,520.4 342.7,521.1 343.5,521.2 344.2,521.6 345.0,521.6 345.7,520.9 346.5,521.7 347.3,521.4 348.1,521.0 348.9,521.2 349.7,521.9 350.6,520.6 351.4,520.1 352.2,520.5 353.1,520.5 354.0,520.4 354.8,519.8 355.6,520.1 356.4,521.0 357.2,519.6 358.0,520.7 358.8,520.7 359.6,520.8 360.4,521.6 361.2,521.8 362.0,522.1 362.8,521.9 363.6,521.9 364.5,522.4 365.3,522.6 366.2,522.1 367.0,522.6 367.8,522.7 368.6,521.5 369.4,522.4 370.3,521.3 371.2,522.2 372.0,520.1 372.9,520.5 373.8,520.4 374.6,519.7 375.5,519.5 376.3,519.9 377.2,519.1 378.0,518.5 378.7,518.3 379.5,519.0 380.2,519.6 380.9,518.9 381.7,519.7 382.4,519.7 383.1,519.5 383.7,521.2 384.4,522.3 385.0,521.9 385.6,522.9 386.2,524.0 386.8,524.5 387.3,524.5 387.9,524.4 388.5,526.5 389.1,526.5 389.8,527.2 390.4,527.7 391.1,528.4 391.8,529.6 392.4,529.8 393.1,530.3 393.7,530.2 394.3,530.3 395.0,531.4 395.6,531.2 396.5,532.0 397.3,532.9 398.1,531.8 399.0,532.0 400.0,532.1 400.7,533.5 401.4,532.3 402.1,532.6 402.9,532.9 403.6,533.3 404.4,532.8 405.3,532.7 406.1,533.1 407.0,533.0 407.9,534.5 408.9,533.2 409.8,533.8 410.5,534.4 411.2,533.8 412.0,533.7 412.8,533.9 413.6,534.3 414.4,533.6 415.3,533.5 416.2,533.2 417.0,533.3 417.9,532.9 418.8,532.6 419.7,532.3 420.6,532.5 421.5,532.6 422.4,532.7 423.3,532.4 424.1,531.8 425.0,532.3 425.8,532.4 426.6,532.0 427.3,532.1 428.1,531.6 428.8,532.5 429.4,532.0 430.3,531.8 431.1,532.5 431.9,533.2 432.7,533.7 433.4,533.8 434.1,534.3 434.8,534.3 435.4,533.8 436.1,534.8 436.9,535.0 437.6,537.1 438.3,537.1 438.9,536.7 439.6,538.0 440.2,538.3 440.9,538.7 441.5,539.5 442.2,539.3 442.9,541.2 443.6,540.8 444.3,541.4 445.0,541.2 445.8,542.2 446.6,542.5 447.4,542.2 448.1,542.5 448.8,543.7 449.6,544.0 450.3,543.9 451.1,544.1 452.0,543.8 452.8,544.8 453.7,544.8 454.5,545.2 455.4,544.7 456.3,545.6 457.2,544.5 458.0,545.4 458.9,545.4 459.8,546.9 460.6,546.1 461.5,545.8 462.3,545.8 463.1,545.6 463.9,546.1 464.7,546.3 465.4,546.2 466.3,546.7 467.1,546.6 467.9,546.2 468.7,546.1 469.5,546.2 470.3,544.5 471.1,545.3 471.9,544.2 472.6,544.7 473.4,543.2 474.1,542.9 474.8,542.2 475.5,542.6 476.1,542.3 476.8,541.9 477.6,541.1 478.3,541.4 479.1,540.3 479.7,541.0 480.4,540.1 481.1,539.8 481.8,538.9 482.5,539.9 483.3,539.0 484.0,539.2 484.8,539.5 485.6,537.7 486.4,539.0 487.2,538.9 488.1,539.4 488.9,539.4 489.8,539.9 490.6,540.7 491.5,540.7 492.3,540.9 493.1,540.6 493.9,541.8 494.6,542.2 495.4,542.6 496.1,542.5 496.9,543.4 497.6,544.0 498.3,544.4 499.1,545.9 499.8,545.1 500.6,545.0 501.3,546.0 502.1,546.2 502.9,545.5 503.6,545.9 504.4,545.9 505.1,546.1 505.9,546.0 506.6,544.8 507.4,544.4 508.2,544.8 508.9,544.0 509.7,543.8 510.5,543.1 511.3,542.7 512.1,542.4 512.8,541.1 513.6,541.0 514.4,541.0 515.2,540.5 516.0,541.0 516.8,540.8 517.7,541.5 518.5,541.8 519.3,542.0 520.2,541.5 521.0,542.3 521.8,542.5 522.6,542.7 523.4,542.9 524.2,542.2 525.0,542.6 525.8,543.0 526.6,542.8 527.4,542.7 528.2,542.0 529.0,542.8 529.8,542.8 530.6,541.3 531.4,539.7 532.1,539.6 532.9,539.8 533.6,541.0 534.3,539.0 535.0,538.7 535.6,539.4 536.6,537.4 537.4,537.1 538.2,538.3 539.1,537.9 540.0,538.1 540.7,537.8 541.4,536.8 542.1,537.6 542.8,536.4 543.6,536.8 544.4,535.4 545.1,535.9 545.9,535.0 546.7,534.7 547.5,535.4 548.2,534.4 549.0,534.9 549.7,532.7 550.5,533.5 551.2,533.9 552.0,532.8 552.7,532.1 553.4,531.8 554.2,531.3 554.9,530.9 555.6,530.6 556.3,529.5 556.9,528.5 557.4,527.8 558.0,528.6 558.6,527.6 559.1,527.4 559.7,526.3 560.2,524.6 560.7,525.1 561.3,525.5 561.8,523.9 562.4,522.9 562.9,522.6 563.4,521.2 564.0,522.0 564.5,520.7 565.1,520.4 565.7,520.5 566.4,518.4 567.0,517.6 567.6,517.3 568.2,516.3 568.8,516.2 569.4,515.3 570.1,515.1 570.7,515.3 571.3,514.2 571.9,513.4 572.7,514.1 573.5,514.1 573.6,514.1 573.7,514.5 573.8,515.0 573.9,515.5 574.0,515.7 574.0,516.4 574.1,517.0 574.2,516.5 574.2,517.1 574.3,518.2 574.4,518.2 574.4,518.9 574.4,519.9 574.5,520.1 574.5,521.3 574.5,521.6 574.6,521.2 574.6,522.3 574.6,523.5 574.6,525.1 574.6,524.1 574.6,523.9 574.6,526.6 574.6,527.6 574.6,528.2 574.6,528.7 574.6,529.6 574.6,530.5 574.6,531.5 574.6,531.0 574.5,533.4 574.5,534.0 574.5,534.9 574.5,535.7 574.5,536.1 574.4,538.0 574.4,539.3 574.4,540.4 574.3,540.9 574.3,541.3 574.3,543.6 574.2,543.6 574.2,545.0 574.2,546.0 574.1,548.3 574.1,549.0 574.1,549.0 574.0,550.2 574.0,551.0 573.9,552.0 573.9,553.5 573.9,553.7 573.8,555.0 573.8,555.8 573.8,557.2 573.7,557.2 573.7,558.3 573.7,560.7 573.7,561.3 573.6,562.6 573.6,562.4 573.6,563.6 573.6,563.8 573.6,565.2 573.5,567.0 573.5,567.4 573.5,568.1 573.5,568.9 573.5,570.0 573.5,570.4 574.3,571.1 575.1,570.1 576.0,570.8 576.8,569.6 577.6,569.2 578.4,570.1 579.2,569.1 580.0,569.0 580.9,568.3 581.7,568.9 582.5,568.5 583.3,567.9 584.0,567.9 584.8,566.4 585.5,567.4 586.3,565.6 587.1,566.6 587.8,565.9 588.6,566.1 589.4,564.6 590.1,565.5 590.8,564.7 591.6,563.4 592.3,563.3 592.9,563.2 593.5,562.1 594.1,561.6 594.7,561.2 595.3,561.1 595.9,560.3 596.5,559.8 597.1,559.3 597.7,558.9 598.2,557.6 598.8,556.0 599.4,556.3 599.9,556.8 600.5,554.3 601.0,555.4 601.6,553.7 602.1,553.0 602.6,553.3 603.1,552.7 603.6,551.5 604.1,550.6 604.6,549.5 605.1,549.0 605.6,548.9 606.0,548.3 606.5,547.5 607.0,545.9 607.4,545.8 607.9,545.2 608.4,544.4 608.8,542.9 609.3,542.5 609.8,541.6 610.3,542.1 611.0,541.7 611.7,540.6 612.4,540.4 613.2,540.0 613.9,540.8 614.6,538.8 615.4,539.1 616.1,538.0 616.8,538.6 617.3,537.6 617.8,536.2 618.3,535.9 618.9,535.7 619.4,534.9 619.9,533.2 620.3,532.7 620.8,531.6 621.3,530.8 621.8,531.3 622.4,530.2 622.9,529.9 623.4,528.3 623.9,528.1 624.5,527.7 625.0,528.0 625.8,526.2 626.5,526.9 627.3,528.1 628.1,527.4 628.9,526.7 629.8,527.9 630.6,528.6 631.5,529.1 632.2,527.8 633.0,528.2 633.8,528.9 634.6,527.7 635.4,527.7 636.3,528.2 637.1,526.9 638.0,528.2 638.8,528.2 639.6,527.7 640.5,529.1 641.3,527.4 642.1,528.4 643.0,528.5 643.8,528.6 644.7,529.2 645.5,529.0 646.4,529.8 647.2,530.3 648.0,529.6 648.8,529.5 649.6,530.1 650.4,530.4 651.1,529.9 651.9,529.3 652.7,529.9 653.4,529.0 654.1,529.0 654.7,527.8 655.4,526.9 656.1,526.7 656.8,525.9 657.6,526.1 658.4,526.0 659.2,525.9 660.1,526.4 661.0,525.8 661.9,524.3 662.7,525.4 663.6,524.5 664.4,523.3 665.1,524.0 665.8,522.9 666.3,522.3 666.7,522.4 667.1,522.0 667.4,521.1 667.8,520.0 668.1,519.2 668.4,518.2 668.6,518.3 668.9,517.0 669.1,516.2 669.4,515.3 669.6,515.1 669.9,513.8 670.1,512.9 670.4,511.9 670.7,511.1 670.9,510.8 671.2,510.2 671.4,509.0 671.7,508.3 671.9,506.7 672.2,505.9 672.4,504.8 672.6,505.0 672.9,504.5 673.1,504.1 673.3,501.6 673.6,501.7 673.8,500.6 674.1,500.3 674.3,499.3 674.6,498.6 674.8,498.3 675.0,498.2 675.3,495.7 675.6,496.0 675.8,493.7 676.1,493.2 676.3,493.4 676.6,492.6 676.9,492.0 677.2,490.4 677.6,489.6 677.9,489.9 678.2,489.0 678.6,487.2 678.9,486.0 679.2,486.4 679.6,484.9 679.9,485.2 680.3,483.0 680.6,482.9 681.0,481.4 681.3,482.0 681.6,479.8 682.0,481.1 682.3,479.1 682.6,479.4 682.9,476.5 683.3,476.8 683.7,477.7 684.1,475.3 684.5,474.8 684.9,473.6 685.2,473.7 685.6,472.3 686.0,472.5 686.3,470.2 686.7,470.6 687.0,469.6 687.2,468.6 687.4,467.7 687.6,468.0 687.9,465.9 688.1,465.7 688.2,465.9 688.4,464.7 688.6,463.9 688.8,462.8 689.0,462.3 689.2,461.1 689.3,458.8 689.5,459.2 689.7,458.6 689.8,458.1 690.0,456.3 690.2,455.4 690.3,455.1 690.5,454.0 690.7,452.9 690.9,452.6 691.0,451.8 691.2,451.2 691.4,449.9 691.5,449.4 691.7,448.2 691.9,447.7 692.1,447.0 692.2,446.5 692.4,445.2 692.6,445.2 692.8,444.1 692.9,442.9 693.1,442.6 693.3,442.3 693.4,441.1 693.6,440.1 693.8,439.0 693.9,437.7 694.1,439.3 694.3,437.5 694.4,435.7 694.6,435.3 694.7,435.0 694.8,434.1 695.0,433.5 695.1,431.7 695.2,430.2 695.3,430.6 695.4,427.9 695.5,428.1 695.5,427.4 695.6,426.6 695.7,426.0 695.7,425.9 695.8,424.6 695.8,423.9 695.9,423.3 695.9,421.9 695.9,420.9 696.0,420.2 696.0,420.0 696.0,418.2 696.0,417.1 696.1,416.0 696.1,415.2 696.1,415.7 696.1,414.4 696.1,413.4 696.1,412.6 696.2,411.9 696.2,411.0 696.2,409.4 696.2,409.0 696.2,408.7 696.2,406.2 696.2,406.3 696.3,406.2 696.3,404.9 696.3,403.1 696.3,403.0 696.4,402.3 696.4,402.3 696.4,401.6 696.5,400.8 696.5,399.7 696.6,399.5 696.6,397.0 696.7,396.7 696.8,396.2 696.9,395.6 697.0,394.2 697.0,393.8 697.1,392.9 697.2,392.2 697.3,391.0 697.4,390.5 697.5,389.7 697.5,388.6 697.6,387.9 697.7,387.8 697.8,388.6 697.8,389.2 697.9,389.2 698.0,389.9 698.0,390.8 698.1,391.9 698.1,392.2 698.2,393.4 698.3,394.4 698.3,393.8 698.4,395.9 698.5,397.4 698.5,397.9 698.6,397.3 698.6,400.0 698.6,400.6 698.6,400.4 698.6,401.5 698.7,401.4 698.7,402.6 698.7,402.9 698.7,403.6 698.7,404.1 698.7,404.5 698.7,404.2 698.7,405.1 698.8,406.9 698.8,406.2 698.8,408.0 698.8,409.0 698.8,409.3 698.8,409.0 698.8,411.2 698.8,411.3 698.8,411.9 698.8,412.0 698.8,412.2 698.8,412.5 698.8,414.4 698.8,415.3 698.8,416.1 698.8,416.0 698.8,417.8 698.8,418.0 698.8,418.5 698.8,420.1 698.8,421.1 698.8,420.7 698.8,422.0 698.8,423.0 698.8,423.5 698.8,424.2 698.8,425.1 698.8,425.3 698.8,427.1 698.8,428.3 698.8,428.2 698.8,429.1 698.8,430.3 698.8,431.3 698.8,432.6 698.8,432.4 698.8,433.7 698.8,434.3 698.8,434.2 698.8,435.5 698.8,437.3 698.8,437.6 698.8,439.2 698.8,440.0 698.8,441.4 698.8,441.6 698.8,441.5 698.8,442.4 698.8,443.7 698.8,444.9 698.8,445.5 698.8,447.3 698.7,447.5 698.7,449.1 698.7,449.4 698.7,451.9 698.7,451.3 698.7,453.0 698.7,453.6 698.7,454.1 698.7,455.1 698.7,456.3 698.7,456.6 698.7,458.1 698.7,458.7 698.7,459.3 698.7,460.8 698.7,462.3 698.7,461.9 698.7,464.4 698.7,464.0 698.6,465.4 698.6,465.8 698.6,466.6 698.6,467.1 698.6,468.9 698.6,469.3 698.6,470.5 698.6,471.8 698.6,473.1 698.6,472.7 698.6,473.1 698.6,473.8 698.6,476.0 698.6,476.5 698.6,478.3 698.6,478.2 698.6,480.2 698.6,480.0 698.6,481.2 698.6,481.6 698.6,482.5 698.6,483.2 698.6,483.6 698.6,484.6 698.6,485.1 698.6,486.2 698.6,487.1 698.6,487.6 698.6,488.2 698.6,489.9 698.6,489.9 698.6,490.5 698.6,491.7 698.6,492.3 698.6,493.8 698.6,493.8 698.6,495.0 698.6,495.9 698.6,496.6 698.6,497.2 698.6,498.5 698.6,498.6 698.6,499.0 698.6,500.2 698.6,501.4 698.6,502.6 698.6,502.7 698.6,504.2 698.6,503.4 698.6,505.3 698.6,506.3 698.6,507.1 698.6,506.9 698.6,509.1 698.6,508.8 698.5,509.9 698.5,511.3 698.5,512.1 698.5,512.6 698.5,512.6 698.5,513.1 698.5,514.5 698.5,515.2 698.5,516.1 698.5,517.9 698.5,517.9 698.5,519.0 698.5,519.7 698.5,520.5 698.5,521.2 698.5,521.6 698.5,522.9 698.5,523.3 698.5,523.4 698.5,525.2 698.5,526.0 698.5,526.8 698.5,529.0 698.5,528.6 698.5,530.1 698.5,530.6 698.5,530.8 698.5,532.2 698.5,532.2 698.5,533.0 698.5,534.4 698.5,535.8 698.5,536.4 698.5,536.3 698.5,537.1 698.5,537.9 698.5,537.5 698.5,538.5 698.5,539.7 698.5,542.0 698.5,541.8 698.5,542.3 698.5,543.8 698.5,545.5 698.5,545.9 698.5,547.0 698.5,547.3 698.5,547.3 698.5,548.0 698.5,549.6 698.5,550.4 698.4,550.4 698.4,552.5 698.4,552.6 698.4,553.4 698.4,553.9 698.4,555.2 698.4,556.3 698.4,556.8 698.4,557.7 698.4,558.0 698.4,558.5 698.4,558.6 698.4,560.2 698.4,560.5 698.4,562.1 698.4,563.1 698.4,564.4 698.4,565.0 698.4,565.2 698.4,567.1 698.4,568.0 698.4,568.0 698.4,568.7 698.4,569.6 698.4,570.8 698.4,571.3 698.4,572.6 699.2,572.5 700.0,571.9 700.8,572.1 701.6,571.5 702.4,572.9 703.2,572.4 704.0,571.9 704.8,572.7 705.6,572.6 706.4,572.7 707.2,572.9 708.0,572.6 708.8,573.0 709.6,572.9 710.4,573.8 711.2,574.1 712.0,573.6" fill="none" stroke="#ff0000" stroke-width="2.4" stroke-linejoin="round" stroke-linecap="round" stroke-opacity="0.90"/>
<polyline points="129.5,569.0 129.5,568.2 129.5,567.4 129.5,566.6 129.6,565.8 129.6,565.1 129.6,564.3 129.6,563.5 129.6,562.8 129.6,562.0 129.6,561.2 129.7,560.5 129.7,559.7 129.7,559.0 129.7,558.2 129.7,557.4 129.7,556.7 129.7,555.9 129.8,555.2 129.8,554.4 129.8,553.6 129.8,552.8 129.8,552.0 129.8,551.2 129.8,550.4 129.9,549.6 129.9,548.8 129.9,548.0 129.9,547.1 129.9,546.3 129.9,545.4 129.9,544.6 129.9,543.7 130.0,542.8 130.0,541.9 130.0,540.9 130.0,540.0 130.0,539.3 130.0,538.7 130.0,538.0 130.0,537.3 130.0,536.6 130.0,535.9 130.1,535.2 130.1,534.5 130.1,533.8 130.1,533.1 130.1,532.3 130.1,531.6 130.1,530.9 130.1,530.1 130.1,529.4 130.1,528.6 130.1,527.9 130.1,527.1 130.1,526.3 130.1,525.5 130.1,524.8 130.1,524.0 130.1,523.2 130.2,522.4 130.2,521.6 130.2,520.8 130.2,520.0 130.2,519.2 130.2,518.3 130.2,517.5 130.2,516.7 130.2,515.9 130.2,515.1 130.2,514.2 130.2,513.4 130.2,512.6 130.2,511.7 130.2,510.9 130.2,510.1 130.2,509.2 130.2,508.4 130.2,507.5 130.2,506.7 130.2,505.8 130.3,505.0 130.3,504.2 130.3,503.3 130.3,502.5 130.3,501.6 130.3,500.8 130.3,499.9 130.3,499.1 130.3,498.2 130.3,497.4 130.3,496.5 130.3,495.7 130.3,494.8 130.3,494.0 130.3,493.2 130.4,492.3 130.4,491.5 130.4,490.6 130.4,489.8 130.4,489.0 130.4,488.1 130.4,487.3 130.4,486.5 130.4,485.7 130.4,484.8 130.4,484.0 130.5,483.2 130.5,482.4 130.5,481.6 130.5,480.8 130.5,480.0 130.5,479.2 130.5,478.4 130.5,477.6 130.6,476.7 130.6,475.9 130.6,475.1 130.6,474.3 130.6,473.5 130.6,472.6 130.6,471.8 130.7,471.0 130.7,470.2 130.7,469.3 130.7,468.5 130.7,467.7 130.7,466.8 130.8,466.0 130.8,465.2 130.8,464.3 130.8,463.5 130.8,462.7 130.8,461.8 130.9,461.0 130.9,460.2 130.9,459.3 130.9,458.5 130.9,457.7 131.0,456.8 131.0,456.0 131.0,455.2 131.0,454.4 131.0,453.5 131.0,452.7 131.1,451.9 131.1,451.0 131.1,450.2 131.1,449.4 131.1,448.6 131.2,447.7 131.2,446.9 131.2,446.1 131.2,445.3 131.2,444.5 131.3,443.6 131.3,442.8 131.3,442.0 131.3,441.2 131.3,440.4 131.4,439.6 131.4,438.8 131.4,438.0 131.4,437.2 131.4,436.4 131.5,435.6 131.5,434.8 131.5,434.0 131.5,433.2 131.5,432.4 131.6,431.6 131.6,430.9 131.6,430.1 131.6,429.3 131.6,428.5 131.6,427.8 131.7,427.0 131.7,426.2 131.7,425.5 131.7,424.7 131.7,424.0 131.8,423.2 131.8,422.5 131.8,421.7 131.8,421.0 131.8,420.1 131.8,419.3 131.9,418.4 131.9,417.6 131.9,416.7 131.9,415.9 131.9,415.1 131.9,414.2 132.0,413.4 132.0,412.6 132.0,411.8 132.0,411.0 132.0,410.2 132.0,409.4 132.1,408.6 132.1,407.8 132.1,407.1 132.1,406.3 132.1,405.5 132.1,404.7 132.2,404.0 132.2,403.2 132.2,402.4 132.2,401.7 132.2,400.9 132.2,400.1 132.2,399.3 132.3,398.6 132.3,397.8 132.3,397.0 132.3,396.3 132.3,395.5 132.3,394.7 132.4,393.9 132.4,393.2 132.4,392.4 132.4,391.6 132.4,390.8 132.4,390.0 132.5,389.2 132.5,388.4 132.5,387.6 132.5,386.8 132.5,385.9 132.6,385.1 132.6,384.3 132.6,383.4 132.6,382.6 132.7,381.7 132.7,380.9 132.7,380.0 132.7,379.3 132.7,378.5 132.8,377.8 132.8,377.0 132.8,376.3 132.8,375.5 132.8,374.7 132.9,373.9 132.9,373.2 132.9,372.4 132.9,371.6 133.0,370.8 133.0,370.0 133.0,369.2 133.0,368.4 133.1,367.6 133.1,366.8 133.1,366.0 133.1,365.1 133.2,364.3 133.2,363.5 133.2,362.7 133.2,361.8 133.3,361.0 133.3,360.2 133.3,359.3 133.3,358.5 133.4,357.7 133.4,356.8 133.4,356.0 133.5,355.1 133.5,354.3 133.5,353.5 133.5,352.6 133.6,351.8 133.6,350.9 133.6,350.1 133.7,349.2 133.7,348.4 133.7,347.5 133.7,346.7 133.8,345.9 133.8,345.0 133.8,344.2 133.8,343.3 133.9,342.5 133.9,341.7 133.9,340.8 134.0,340.0 134.0,339.2 134.0,338.3 134.0,337.5 134.1,336.7 134.1,335.9 134.1,335.0 134.2,334.2 134.2,333.4 134.2,332.6 134.2,331.8 134.3,331.0 134.3,330.2 134.3,329.4 134.3,328.6 134.4,327.8 134.4,327.1 134.4,326.3 134.4,325.5 134.5,324.7 134.5,324.0 134.5,323.2 134.6,322.5 134.6,321.7 134.6,321.0 134.6,320.1 134.7,319.3 134.7,318.4 134.7,317.6 134.7,316.7 134.8,315.9 134.8,315.1 134.8,314.2 134.9,313.4 134.9,312.6 134.9,311.8 134.9,311.0 135.0,310.2 135.0,309.4 135.0,308.6 135.0,307.8 135.1,307.1 135.1,306.3 135.1,305.5 135.2,304.7 135.2,304.0 135.2,303.2 135.2,302.4 135.3,301.7 135.3,300.9 135.3,300.1 135.3,299.3 135.4,298.6 135.4,297.8 135.4,297.0 135.5,296.3 135.5,295.5 135.5,294.7 135.5,293.9 135.6,293.2 135.6,292.4 135.6,291.6 135.6,290.8 135.7,290.0 135.7,289.2 135.7,288.4 135.7,287.6 135.8,286.8 135.8,285.9 135.8,285.1 135.9,284.3 135.9,283.4 135.9,282.6 135.9,281.7 136.0,280.9 136.0,280.0 136.0,279.3 136.0,278.5 136.1,277.8 136.1,277.1 136.1,276.3 136.1,275.6 136.2,274.8 136.2,274.1 136.2,273.3 136.2,272.6 136.3,271.8 136.3,271.1 136.3,270.3 136.3,269.6 136.4,268.8 136.4,268.1 136.4,267.3 136.4,266.6 136.5,265.8 136.5,265.0 136.5,264.3 136.5,263.5 136.6,262.7 136.6,262.0 136.6,261.2 136.6,260.4 136.7,259.6 136.7,258.9 136.7,258.1 136.7,257.3 136.8,256.5 136.8,255.7 136.8,254.9 136.8,254.1 136.9,253.3 136.9,252.5 136.9,251.7 136.9,250.9 137.0,250.1 137.0,249.3 137.0,248.5 137.0,247.7 137.1,246.9 137.1,246.1 137.1,245.2 137.1,244.4 137.2,243.6 137.2,242.8 137.2,241.9 137.2,241.1 137.3,240.3 137.3,239.4 137.3,238.6 137.3,237.7 137.4,236.9 137.4,236.0 137.4,235.2 137.4,234.3 137.5,233.4 137.5,232.6 137.5,231.7 137.5,230.8 137.6,230.0 137.6,229.1 137.6,228.2 137.6,227.3 137.7,226.4 137.7,225.5 137.7,224.6 137.7,223.7 137.8,222.8 137.8,221.9 137.8,221.0 137.8,220.3 137.8,219.6 137.9,218.9 137.9,218.2 137.9,217.5 137.9,216.7 137.9,216.0 138.0,215.3 138.0,214.6 138.0,213.8 138.0,213.1 138.0,212.3 138.1,211.6 138.1,210.8 138.1,210.1 138.1,209.3 138.1,208.5 138.1,207.8 138.2,207.0 138.2,206.2 138.2,205.4 138.2,204.6 138.2,203.8 138.3,203.1 138.3,202.3 138.3,201.5 138.3,200.7 138.3,199.9 138.4,199.1 138.4,198.2 138.4,197.4 138.4,196.6 138.4,195.8 138.5,195.0 138.5,194.2 138.5,193.3 138.5,192.5 138.5,191.7 138.6,190.9 138.6,190.0 138.6,189.2 138.6,188.4 138.6,187.5 138.7,186.7 138.7,185.8 138.7,185.0 138.7,184.2 138.7,183.3 138.8,182.5 138.8,181.6 138.8,180.8 138.8,179.9 138.8,179.1 138.9,178.2 138.9,177.4 138.9,176.5 138.9,175.7 138.9,174.8 139.0,174.0 139.0,173.1 139.0,172.3 139.0,171.4 139.0,170.6 139.1,169.7 139.1,168.9 139.1,168.0 139.1,167.2 139.1,166.3 139.2,165.5 139.2,164.6 139.2,163.8 139.2,162.9 139.2,162.1 139.3,161.2 139.3,160.4 139.3,159.5 139.3,158.7 139.3,157.8 139.4,157.0 139.4,156.2 139.4,155.3 139.4,154.5 139.4,153.6 139.5,152.8 139.5,152.0 139.5,151.1 139.5,150.3 139.5,149.5 139.6,148.7 139.6,147.8 139.6,147.0 139.6,146.2 139.6,145.4 139.6,144.6 139.7,143.8 139.7,142.9 139.7,142.1 139.7,141.3 139.7,140.5 139.8,139.7 139.8,138.9 139.8,138.2 139.8,137.4 139.8,136.6 139.9,135.8 139.9,135.0 139.9,134.2 139.9,133.5 139.9,132.7 139.9,131.9 140.0,131.2 140.0,130.4 140.0,129.7 140.0,128.9 140.0,128.2 140.0,127.4 140.1,126.7 140.1,126.0 140.1,125.3 140.1,124.5 140.1,123.8 140.1,123.1 140.2,122.4 140.2,121.7 140.2,121.0 140.2,120.1 140.2,119.2 140.3,118.3 140.3,117.3 140.3,116.4 140.3,115.5 140.4,114.6 140.4,113.7 140.4,112.7 140.4,111.8 140.4,110.9 140.5,110.0 140.5,109.1 140.5,108.2 140.5,107.2 140.5,106.3 140.6,105.4 140.6,104.5 140.6,103.6 140.6,102.7 140.6,101.8 140.7,100.9 140.7,100.0 140.7,99.1 140.7,98.2 140.7,97.3 140.8,96.4 140.8,95.5 140.8,94.6 140.8,93.8 140.8,92.9 140.9,92.0 140.9,91.1 140.9,90.3 140.9,89.4 140.9,88.6 141.0,87.7 141.0,86.9 141.0,86.1 141.0,85.2 141.0,84.4 141.0,83.6 141.1,82.8 141.1,82.0 141.1,81.2 141.1,80.4 141.1,79.6 141.2,78.8 141.2,78.0 141.2,77.3 141.2,76.5 141.2,75.7 141.2,75.0 141.3,74.3 141.3,73.5 141.3,72.8 141.3,72.1 141.3,71.4 141.4,70.7 141.4,70.0 141.4,69.3 141.4,68.7 141.4,68.0 141.4,67.4 141.5,66.7 141.5,66.1 141.5,65.5 141.5,64.9 141.5,64.3 141.5,63.7 141.6,63.1 141.6,62.6 141.6,62.0 141.6,60.9 141.6,59.9 141.7,58.8 141.7,57.8 141.7,56.8 141.7,55.8 141.7,54.8 141.7,53.9 141.7,53.0 141.7,52.1 141.7,51.3 141.7,50.5 141.7,49.7 141.8,49.1 141.8,48.4 141.9,47.8 142.0,47.3 142.1,46.9 142.2,46.5 143.2,45.3 144.2,46.5 144.3,46.9 144.4,47.3 144.5,47.8 144.6,48.4 144.6,49.1 144.6,49.7 144.7,50.5 144.7,51.3 144.7,52.1 144.7,53.0 144.7,53.9 144.6,54.8 144.6,55.8 144.6,56.8 144.6,57.8 144.6,58.8 144.6,59.9 144.6,60.9 144.6,62.0 144.6,62.6 144.6,63.1 144.6,63.7 144.6,64.3 144.6,64.9 144.7,65.5 144.7,66.1 144.7,66.7 144.7,67.4 144.7,68.0 144.7,68.7 144.7,69.3 144.7,70.0 144.7,70.7 144.7,71.4 144.7,72.1 144.8,72.8 144.8,73.5 144.8,74.3 144.8,75.0 144.8,75.7 144.8,76.5 144.8,77.3 144.8,78.0 144.8,78.8 144.8,79.6 144.8,80.4 144.8,81.2 144.8,82.0 144.9,82.8 144.9,83.6 144.9,84.4 144.9,85.2 144.9,86.1 144.9,86.9 144.9,87.7 144.9,88.6 144.9,89.4 144.9,90.3 144.9,91.1 144.9,92.0 144.9,92.9 144.9,93.8 145.0,94.6 145.0,95.5 145.0,96.4 145.0,97.3 145.0,98.2 145.0,99.1 145.0,100.0 145.0,100.9 145.0,101.8 145.0,102.7 145.0,103.6 145.0,104.5 145.0,105.4 145.0,106.3 145.0,107.2 145.0,108.2 145.0,109.1 145.1,110.0 145.1,110.9 145.1,111.8 145.1,112.7 145.1,113.7 145.1,114.6 145.1,115.5 145.1,116.4 145.1,117.3 145.1,118.3 145.1,119.2 145.1,120.1 145.1,121.0 145.1,121.7 145.1,122.4 145.1,123.1 145.1,123.8 145.1,124.5 145.1,125.3 145.1,126.0 145.1,126.7 145.1,127.4 145.1,128.2 145.1,128.9 145.1,129.7 145.1,130.4 145.1,131.2 145.1,131.9 145.1,132.7 145.1,133.5 145.1,134.2 145.1,135.0 145.1,135.8 145.1,136.6 145.1,137.4 145.1,138.2 145.1,138.9 145.1,139.7 145.1,140.5 145.1,141.3 145.1,142.1 145.1,142.9 145.1,143.8 145.1,144.6 145.1,145.4 145.1,146.2 145.1,147.0 145.1,147.8 145.1,148.7 145.1,149.5 145.1,150.3 145.1,151.1 145.1,152.0 145.1,152.8 145.1,153.6 145.1,154.5 145.1,155.3 145.1,156.2 145.1,157.0 145.1,157.8 145.1,158.7 145.1,159.5 145.1,160.4 145.1,161.2 145.1,162.1 145.1,162.9 145.1,163.8 145.1,164.6 145.1,165.5 145.1,166.3 145.1,167.2 145.1,168.0 145.1,168.9 145.1,169.7 145.1,170.6 145.0,171.4 145.0,172.3 145.0,173.1 145.0,174.0 145.0,174.8 145.0,175.7 145.0,176.5 145.0,177.4 145.0,178.2 145.0,179.1 145.0,179.9 145.0,180.8 145.0,181.6 145.0,182.5 145.0,183.3 145.0,184.2 145.0,185.0 145.0,185.8 145.0,186.7 145.0,187.5 145.0,188.4 145.0,189.2 145.0,190.0 145.0,190.9 145.0,191.7 145.0,192.5 145.0,193.3 145.0,194.2 145.0,195.0 145.0,195.8 145.0,196.6 145.0,197.4 145.0,198.2 145.0,199.1 145.0,199.9 145.0,200.7 145.0,201.5 145.0,202.3 145.0,203.1 145.0,203.8 145.0,204.6 145.0,205.4 145.0,206.2 145.0,207.0 145.0,207.8 145.0,208.5 145.0,209.3 145.0,210.1 145.0,210.8 145.0,211.6 145.0,212.3 145.0,213.1 145.0,213.8 145.0,214.6 145.0,215.3 145.0,216.0 145.0,216.7 145.0,217.5 145.0,218.2 145.0,218.9 145.0,219.6 145.0,220.3 145.0,221.0 145.0,221.9 145.0,222.8 145.0,223.7 145.0,224.6 145.0,225.6 145.0,226.5 145.0,227.4 145.0,228.3 145.0,229.2 145.0,230.1 145.0,231.0 145.0,231.9 145.0,232.8 145.0,233.7 145.0,234.6 145.0,235.4 145.1,236.3 145.1,237.2 145.1,238.1 145.1,239.0 145.1,239.9 145.1,240.7 145.1,241.6 145.1,242.5 145.1,243.3 145.1,244.2 145.1,245.1 145.1,245.9 145.1,246.8 145.1,247.6 145.1,248.5 145.1,249.3 145.1,250.2 145.1,251.0 145.1,251.8 145.1,252.7 145.1,253.5 145.1,254.3 145.1,255.1 145.1,255.9 145.2,256.7 145.2,257.5 145.2,258.3 145.2,259.1 145.2,259.9 145.2,260.7 145.2,261.5 145.2,262.3 145.2,263.1 145.2,263.8 145.2,264.6 145.2,265.3 145.2,266.1 145.3,266.8 145.3,267.6 145.3,268.3 145.3,269.1 145.3,269.8 145.3,270.5 145.3,271.2 145.3,271.9 145.3,272.6 145.4,273.3 145.4,274.0 145.4,274.7 145.4,275.4 145.4,276.1 145.4,276.8 145.4,277.4 145.5,278.1 145.5,278.7 145.5,279.4 145.5,280.0 145.5,281.0 145.6,282.0 145.6,282.9 145.6,283.8 145.6,284.8 145.7,285.7 145.7,286.5 145.7,287.4 145.8,288.3 145.8,289.1 145.9,290.0 145.9,290.8 145.9,291.6 146.0,292.4 146.0,293.2 146.0,294.0 146.1,294.8 146.1,295.6 146.2,296.3 146.2,297.1 146.2,297.8 146.3,298.6 146.3,299.3 146.4,300.1 146.4,300.8 146.4,301.6 146.5,302.3 146.5,303.0 146.6,303.8 146.6,304.5 146.6,305.4 146.7,306.3 146.7,307.2 146.8,308.1 146.8,309.0 146.8,309.8 146.9,310.7 146.9,311.5 147.0,312.4 147.0,313.2 147.0,314.0 147.1,314.9 147.1,315.7 147.2,316.5 147.2,317.2 147.3,318.0 147.4,318.8 147.4,319.5 147.5,320.3 147.6,321.0 147.7,321.9 147.8,322.8 148.0,323.7 148.1,324.6 148.2,325.4 148.4,326.2 148.6,327.0 148.7,327.8 148.9,328.6 149.1,329.4 149.3,330.2 149.5,331.0 149.7,331.8 150.0,332.6 150.3,333.3 150.5,334.0 150.8,334.8 151.1,335.5 151.4,336.2 151.7,337.0 152.0,337.8 152.3,338.6 152.6,339.5 152.8,340.2 153.0,340.9 153.2,341.6 153.4,342.4 153.7,343.2 153.9,344.0 154.1,344.8 154.3,345.6 154.5,346.4 154.7,347.2 154.9,348.1 155.1,348.9 155.3,349.8 155.5,350.6 155.7,351.5 156.0,352.3 156.2,353.2 156.4,354.0 156.6,354.8 156.8,355.6 157.0,356.4 157.2,357.2 157.4,358.1 157.6,358.9 157.8,359.8 158.0,360.6 158.2,361.4 158.4,362.3 158.6,363.1 158.8,363.9 159.0,364.8 159.2,365.6 159.5,366.4 159.7,367.2 159.9,367.9 160.1,368.7 160.4,369.5 160.6,370.2 160.9,370.9 161.2,371.7 161.6,372.6 161.9,373.4 162.3,374.2 162.7,375.0 163.1,375.7 163.4,376.5 163.8,377.2 164.2,377.9 164.6,378.6 165.0,379.3 165.4,380.0 165.8,380.6 166.3,381.3 166.7,382.1 167.2,382.7 167.6,383.4 168.1,384.0 168.6,384.7 169.0,385.3 169.5,385.9 170.0,386.5 170.6,387.2 171.2,387.8 171.7,388.5 172.3,389.1 172.9,389.7 173.5,390.4 174.1,391.0" fill="none" stroke="#0000ff" stroke-width="3.3" stroke-linejoin="round" stroke-linecap="round"/>
<polyline points="153.6,339.5 153.6,340.3 153.7,341.1 153.7,342.0 153.8,342.8 153.8,343.6 153.9,344.4 153.9,345.2 153.9,346.1 154.0,346.9 154.0,347.7 154.1,348.5 154.1,349.4 154.2,350.2 154.2,351.0" fill="none" stroke="#ff0000" stroke-width="5.5" stroke-linejoin="round" stroke-linecap="round"/>
<polyline points="659.3,492.3 659.7,491.5 660.1,490.8 660.5,490.1 660.8,489.3 661.2,488.5 661.6,487.7 662.0,486.7 662.2,486.1 662.4,485.5 662.7,484.8 662.9,484.1 663.1,483.4 663.4,482.6 663.6,481.9 663.8,481.1 664.0,480.3 664.3,479.5 664.5,478.6 664.7,477.8 664.9,476.9 665.1,476.1 665.4,475.2 665.6,474.3 665.8,473.4 666.0,472.5 666.2,471.6 666.4,470.9 666.5,470.2 666.7,469.4 666.8,468.7 667.0,467.9 667.1,467.2 667.3,466.4 667.4,465.6 667.6,464.8 667.8,463.9 667.9,463.1 668.1,462.3 668.2,461.4 668.4,460.6 668.5,459.8 668.6,458.9 668.8,458.1 668.9,457.2 669.1,456.4 669.2,455.5 669.4,454.7 669.5,453.8 669.6,453.0 669.8,452.2 669.9,451.4 670.0,450.6 670.2,449.8 670.3,449.0 670.4,448.2 670.6,447.5 670.7,446.7 670.8,446.0 670.9,445.1 671.1,444.2 671.2,443.4 671.4,442.5 671.5,441.7 671.6,440.9 671.8,440.1 671.9,439.3 672.0,438.5 672.1,437.7 672.3,436.9 672.4,436.1 672.5,435.3 672.6,434.5 672.8,433.8 672.9,433.0 673.0,432.2 673.1,431.4 673.2,430.6 673.4,429.8 673.5,429.0 673.7,429.8 673.9,430.5 674.2,431.2 674.4,431.9 674.6,432.7 674.8,433.4 675.1,434.2 675.2,435.1 675.4,436.0 675.5,436.7 675.6,437.4 675.6,438.2 675.6,439.0 675.6,439.8 675.6,440.7 675.6,441.6 675.6,442.6 675.6,443.5 675.6,444.5 675.6,445.4 675.5,446.3 675.5,447.3 675.6,448.1 675.6,449.0 675.6,449.8 675.7,450.6 675.8,451.4 675.9,452.0 676.0,452.7 676.2,453.2 676.6,454.0 677.1,454.6 677.7,455.1 678.3,455.6 678.8,456.2 679.2,457.0 679.4,457.5 679.5,458.1 679.6,458.7 679.6,459.3 679.7,459.9 679.7,460.6 679.7,461.3 679.7,462.0 679.6,462.8 679.6,463.6 679.5,464.4 679.4,465.3 679.4,466.2 679.3,467.2 679.3,468.2 679.2,469.3 679.2,470.4 679.2,471.5 679.2,471.9 679.2,472.4 679.2,472.9 679.2,473.3 679.2,473.8 679.2,474.3 679.2,474.8 679.2,475.3 679.2,475.9 679.2,476.4 679.2,477.0 679.2,477.5 679.2,478.1 679.2,478.7 679.2,479.3 679.2,479.9 679.2,480.5 679.2,481.1 679.2,481.7 679.2,482.3 679.2,483.0 679.2,483.6 679.2,484.3 679.2,484.9 679.2,485.6 679.2,486.3 679.2,487.0 679.2,487.7 679.2,488.4 679.2,489.1 679.2,489.8 679.2,490.6 679.2,491.3 679.2,492.0 679.2,492.8 679.2,493.5 679.2,494.3 679.2,495.1 679.2,495.9 679.2,496.6 679.2,497.4 679.2,498.2 679.2,499.0 679.2,499.8 679.2,500.6 679.2,501.5 679.1,502.3 679.1,503.1 679.1,503.9 679.1,504.8 679.1,505.6 679.1,506.5 679.1,507.3 679.1,508.2 679.1,509.0 679.1,509.9 679.1,510.7 679.1,511.6 679.1,512.5 679.1,513.4 679.1,514.3 679.1,515.1 679.1,516.0 679.1,516.9 679.1,517.8 679.1,518.7 679.1,519.6 679.1,520.5 679.1,521.4 679.1,522.3 679.1,523.2 679.1,524.1 679.1,525.0 679.1,526.0 679.1,526.9 679.1,527.8 679.1,528.7 679.1,529.6 679.1,530.5 679.1,531.5 679.1,532.4 679.1,533.3 679.1,534.2 679.1,535.2 679.1,536.1 679.1,537.0 679.1,537.9 679.1,538.9 679.1,539.8 679.1,540.7 679.1,541.6 679.1,542.5 679.1,543.5 679.1,544.4 679.1,545.3 679.1,546.2 679.1,547.1 679.1,548.1 679.1,549.0 679.1,549.9 679.0,550.8 679.0,551.7 679.0,552.6 679.0,553.5 679.0,554.4 679.0,555.3 679.0,556.2 679.0,557.1 679.0,558.0 679.0,558.9 679.0,559.8 679.0,560.6 679.0,561.5 679.0,562.4 679.0,563.3 679.0,564.1 679.0,565.0 679.0,565.9 679.0,566.7 679.0,567.6 679.0,568.4 679.0,569.3 679.0,570.1 679.0,570.9 679.0,571.7 679.0,572.6 679.0,573.4 679.0,574.2 679.0,575.0" fill="none" stroke="#0000ff" stroke-width="3.4" stroke-linejoin="round" stroke-linecap="round"/>
<polyline points="665.8,523.3 666.1,522.5 666.4,521.8 666.7,521.0 667.0,520.3 667.3,519.5 667.6,518.8 667.9,518.1 668.3,517.3 668.6,516.6 668.9,515.8 669.2,515.0 669.5,514.3 669.8,513.5 670.1,512.7 670.4,511.8 670.7,511.0 670.9,510.3 671.2,509.6 671.4,508.9 671.7,508.1 671.9,507.3 672.2,506.6 672.4,505.8 672.6,505.0 672.9,504.2 673.1,503.4 673.3,502.6 673.6,501.8 673.8,501.0 674.1,500.2 674.3,499.4 674.6,498.6 674.8,497.8 675.0,497.0 675.3,496.2 675.6,495.4 675.8,494.6 676.1,493.9 676.3,493.1 676.6,492.4 676.9,491.6 677.2,490.8 677.6,489.9 677.9,489.1 678.2,488.3 678.6,487.5 678.9,486.7 679.2,485.9 679.6,485.1 679.9,484.3 680.3,483.5 680.6,482.8 681.0,482.0 681.3,481.3 681.6,480.6 682.0,479.8 682.3,479.1 682.6,478.5 682.9,477.8 683.3,477.0 683.7,476.2 684.1,475.5 684.5,474.8 684.9,474.1 685.2,473.4 685.6,472.7 686.0,472.0 686.3,471.2 686.7,470.4 687.0,469.5 687.2,468.8 687.4,468.2 687.6,467.5 687.9,466.7 688.1,466.0 688.2,465.2 688.4,464.4 688.6,463.6 688.8,462.8 689.0,462.0 689.2,461.1 689.3,460.3 689.5,459.4 689.7,458.6 689.8,457.7 690.0,456.8 690.2,456.0 690.3,455.1 690.5,454.2 690.7,453.3 690.9,452.5 691.0,451.6 691.2,450.8 691.4,450.0 691.5,449.2 691.7,448.5 691.8,447.7 692.0,446.9 692.2,446.1 692.3,445.3 692.5,444.5 692.6,443.7 692.8,442.9 693.0,442.1 693.1,441.3 693.3,440.5 693.4,439.7 693.6,438.9 693.7,438.1 693.9,437.2 694.0,436.4 694.2,435.6 694.4,434.8 694.5,434.0 694.7,433.2 694.8,432.4 695.0,431.6 695.1,430.8 695.3,430.0" fill="none" stroke="#ff0000" stroke-width="3.4" stroke-linejoin="round" stroke-linecap="round"/>
<polyline points="714.0,260.0 714.1,260.8 714.1,261.6 714.2,262.4 714.3,263.1 714.3,263.9 714.4,264.6 714.5,265.3 714.5,266.0 714.6,266.8 714.7,267.5 714.8,268.2 714.8,269.0 714.9,269.8 715.0,270.6 715.0,271.4 715.1,272.2 715.1,273.1 715.2,274.0 715.3,274.9 715.3,275.9 715.4,276.9 715.4,278.0 715.4,278.5 715.4,279.1 715.5,279.6 715.5,280.2 715.5,280.8 715.5,281.4 715.5,282.0 715.5,282.6 715.6,283.2 715.6,283.8 715.6,284.5 715.6,285.1 715.6,285.8 715.6,286.4 715.6,287.1 715.7,287.8 715.7,288.4 715.7,289.1 715.7,289.8 715.7,290.5 715.7,291.3 715.7,292.0 715.7,292.7 715.7,293.4 715.7,294.2 715.7,294.9 715.7,295.7 715.7,296.5 715.7,297.2 715.7,298.0 715.8,298.8 715.8,299.6 715.8,300.4 715.8,301.2 715.8,302.0 715.8,302.8 715.8,303.6 715.8,304.4 715.8,305.2 715.8,306.1 715.8,306.9 715.8,307.7 715.8,308.6 715.8,309.4 715.8,310.3 715.8,311.1 715.8,312.0 715.8,312.8 715.8,313.7 715.8,314.6 715.7,315.4 715.7,316.3 715.7,317.2 715.7,318.0 715.7,318.9 715.7,319.8 715.7,320.7 715.7,321.6 715.7,322.5 715.7,323.3 715.7,324.2 715.7,325.1 715.7,326.0 715.7,326.9 715.7,327.8 715.7,328.7 715.7,329.6 715.7,330.5 715.7,331.4 715.7,332.3 715.7,333.2 715.7,334.1 715.7,335.0 715.7,335.9 715.7,336.8 715.7,337.7 715.7,338.5 715.7,339.4 715.7,340.3 715.7,341.2 715.7,342.1 715.7,343.0 715.7,343.9 715.7,344.8 715.7,345.6 715.7,346.5 715.7,347.4 715.7,348.3 715.7,349.1 715.7,350.0 715.7,350.7 715.7,351.5 715.7,352.2 715.7,352.9 715.7,353.7 715.7,354.4 715.7,355.2 715.7,355.9 715.7,356.7 715.7,357.4 715.7,358.2 715.7,358.9 715.7,359.7 715.7,360.4 715.7,361.2 715.7,361.9 715.7,362.7 715.7,363.4 715.7,364.2 715.8,365.0 715.8,365.7 715.8,366.5 715.8,367.3 715.8,368.0 715.8,368.8 715.8,369.6 715.8,370.3 715.8,371.1 715.8,371.9 715.8,372.6 715.8,373.4 715.8,374.2 715.8,375.0 715.8,375.8 715.8,376.5 715.8,377.3 715.8,378.1 715.8,378.9 715.8,379.7 715.8,380.4 715.8,381.2 715.8,382.0 715.8,382.8 715.8,383.6 715.8,384.4 715.8,385.2 715.8,386.0 715.8,386.8 715.8,387.5 715.8,388.3 715.8,389.1 715.8,389.9 715.8,390.7 715.8,391.5 715.8,392.3 715.8,393.1 715.8,393.9 715.8,394.7 715.8,395.5 715.8,396.3 715.9,397.1 715.9,398.0 715.9,398.8 715.9,399.6 715.9,400.4 715.9,401.2 715.9,402.0 715.9,402.8 715.9,403.6 715.9,404.4 715.9,405.2 715.9,406.1 715.9,406.9 715.9,407.7 715.9,408.5 715.9,409.3 715.9,410.1 715.9,410.9 715.9,411.8 715.9,412.6 715.9,413.4 715.9,414.2 715.9,415.0 715.9,415.9 715.9,416.7 715.9,417.5 715.9,418.3 715.9,419.2 715.9,420.0 715.9,420.8 715.9,421.6 715.9,422.5 715.9,423.3 715.9,424.1 715.9,425.0 715.9,425.8 715.9,426.6 715.9,427.4 715.9,428.3 715.9,429.1 715.9,429.9 715.9,430.8 715.9,431.6 716.0,432.4 716.0,433.3 716.0,434.1 716.0,434.9 716.0,435.8 716.0,436.6 716.0,437.4 716.0,438.3 716.0,439.1 716.0,439.9 716.0,440.8 716.0,441.6 716.0,442.5 716.0,443.3 716.0,444.1 716.0,445.0 716.0,445.8 716.0,446.6 716.0,447.5 716.0,448.3 716.0,449.2 716.0,450.0 716.0,450.8 716.0,451.5 716.0,452.3 716.0,453.1 716.0,453.8 716.0,454.6 716.0,455.4 716.0,456.1 716.0,456.9 716.0,457.7 716.0,458.5 716.0,459.2 716.0,460.0 716.0,460.8 716.0,461.6 716.0,462.3 716.0,463.1 716.0,463.9 716.0,464.7 716.0,465.5 716.0,466.2 716.0,467.0 716.0,467.8 716.0,468.6 716.1,469.4 716.1,470.2 716.1,470.9 716.1,471.7 716.1,472.5 716.1,473.3 716.1,474.1 716.1,474.9 716.1,475.7 716.1,476.5 716.1,477.3 716.1,478.1 716.1,478.9 716.1,479.6 716.1,480.4 716.1,481.2 716.1,482.0 716.1,482.8 716.1,483.6 716.1,484.4 716.1,485.2 716.1,486.0 716.1,486.8 716.1,487.6 716.1,488.4 716.1,489.2 716.1,490.0 716.1,490.8 716.1,491.6 716.1,492.4 716.1,493.3 716.1,494.1 716.1,494.9 716.1,495.7 716.1,496.5 716.1,497.3 716.1,498.1 716.1,498.9 716.1,499.7 716.1,500.5 716.1,501.3 716.1,502.1 716.1,502.9 716.1,503.8 716.1,504.6 716.1,505.4 716.1,506.2 716.1,507.0 716.1,507.8 716.1,508.6 716.2,509.4 716.2,510.2 716.2,511.1 716.2,511.9 716.2,512.7 716.2,513.5 716.2,514.3 716.2,515.1 716.2,515.9 716.2,516.8 716.2,517.6 716.2,518.4 716.2,519.2 716.2,520.0 716.2,520.8 716.2,521.6 716.2,522.5 716.2,523.3 716.2,524.1 716.2,524.9 716.2,525.7 716.2,526.5 716.2,527.3 716.2,528.2 716.2,529.0 716.2,529.8 716.2,530.6 716.2,531.4 716.2,532.2 716.2,533.1 716.2,533.9 716.2,534.7 716.2,535.5 716.2,536.3 716.2,537.1 716.2,538.0 716.2,538.8 716.2,539.6 716.2,540.4 716.2,541.2 716.2,542.0 716.2,542.8 716.2,543.7 716.2,544.5 716.2,545.3 716.2,546.1 716.2,546.9 716.2,547.7 716.2,548.5 716.2,549.4 716.2,550.2 716.2,551.0 716.3,551.8 716.3,552.6 716.3,553.4 716.3,554.2 716.3,555.0 716.3,555.9 716.3,556.7 716.3,557.5 716.3,558.3 716.3,559.1 716.3,559.9 716.3,560.7 716.3,561.5 716.3,562.3 716.3,563.1 716.3,563.9 716.3,564.8 716.3,565.6 716.3,566.4 716.3,567.2 716.3,568.0 716.3,568.8 716.3,569.6 716.3,570.4 716.3,571.2 716.3,572.0" fill="none" stroke="#ff0000" stroke-width="4.4" stroke-linejoin="round" stroke-linecap="round"/>
<polyline points="716.5,400.0 716.5,399.2 716.5,398.4 716.6,397.6 716.6,396.8 716.6,396.0 716.6,395.2 716.6,394.4 716.7,393.6 716.7,392.8 716.7,391.9 716.7,391.1 716.7,390.3 716.8,389.5 716.8,388.7 716.8,387.9 716.8,387.1 716.8,386.3 716.9,385.5 716.9,384.7 716.9,383.8 716.9,383.0 716.9,382.2 717.0,381.4 717.0,380.6 717.0,379.8 717.0,379.0 717.0,378.2 717.1,377.4 717.1,376.6 717.1,375.8 717.1,375.0 717.1,374.2 717.2,373.4 717.2,372.6 717.2,371.8 717.2,371.0 717.2,370.2 717.3,369.4 717.3,368.6 717.3,367.8 717.3,367.0 717.3,366.2 717.4,365.4 717.4,364.6 717.4,363.9 717.4,363.1 717.4,362.3 717.5,361.5 717.5,360.8 717.5,360.0 717.5,359.2 717.5,358.3 717.6,357.5 717.6,356.7 717.6,355.8 717.6,355.0 717.7,354.2 717.7,353.4 717.7,352.5 717.7,351.7 717.7,350.9 717.8,350.1 717.8,349.3 717.8,348.5 717.8,347.7 717.8,346.8 717.9,346.0 717.9,345.2 717.9,344.4 717.9,343.6 718.0,342.8 718.0,342.0 718.0,341.2 718.0,340.4 718.0,339.6 718.1,338.8 718.1,338.0 718.1,337.2 718.1,336.4 718.1,335.6 718.2,334.8 718.2,334.0 718.2,333.2 718.2,332.4 718.3,331.6 718.3,330.8 718.3,330.0 718.3,329.2 718.3,328.4 718.4,327.6 718.4,326.8 718.4,326.0 718.6,326.7 718.9,327.3 719.1,328.0 719.3,328.9 719.5,330.0 719.5,330.3 719.6,330.6 719.6,330.9 719.6,331.2 719.7,331.6 719.7,332.0 719.7,332.4 719.8,332.8 719.8,333.2 719.8,333.6 719.9,334.0 719.9,334.5 719.9,335.0 719.9,335.5 720.0,336.0 720.0,336.5 720.0,337.0 720.0,337.6 720.0,338.1 720.1,338.7 720.1,339.3 720.1,339.9 720.1,340.5 720.1,341.1 720.1,341.7 720.1,342.4 720.2,343.0 720.2,343.7 720.2,344.4 720.2,345.1 720.2,345.8 720.2,346.5 720.2,347.2 720.2,347.9 720.2,348.7 720.2,349.4 720.2,350.2 720.2,350.9 720.2,351.7 720.2,352.5 720.3,353.3 720.3,354.1 720.3,354.9 720.3,355.7 720.3,356.6 720.3,357.4 720.3,358.3 720.3,359.1 720.3,360.0 720.3,360.8 720.3,361.7 720.3,362.6 720.3,363.5 720.2,364.4 720.2,365.3 720.2,366.2 720.2,367.1 720.2,368.0 720.2,368.9 720.2,369.9 720.2,370.8 720.2,371.7 720.2,372.7 720.2,373.6 720.2,374.6 720.2,375.5 720.2,376.5 720.2,377.4 720.2,378.4 720.2,379.4 720.2,380.3 720.2,381.3 720.1,382.3 720.1,383.3 720.1,384.2 720.1,385.2 720.1,386.2 720.1,387.2 720.1,388.2 720.1,389.2 720.1,390.1 720.1,391.1 720.1,392.1 720.1,393.1 720.1,394.1 720.1,395.1 720.1,396.1 720.0,397.0 720.0,398.0 720.0,399.0 720.0,400.0 720.0,401.0 720.0,402.0 720.0,402.9 720.0,403.9 720.0,404.9 720.0,405.9 720.0,406.8 720.0,407.8 720.0,408.8 720.0,409.7 720.0,410.7 720.0,411.6 720.0,412.6 720.0,413.5 720.0,414.5 720.0,415.4 720.0,416.3 720.0,417.3 720.0,418.2 720.0,419.1 720.0,420.0 720.0,420.7 720.0,421.4 720.0,422.1 720.0,422.8 720.0,423.5 720.0,424.2 720.0,424.9 720.0,425.6 720.0,426.3 720.0,427.1 720.0,427.8 720.0,428.5 720.0,429.2 720.0,429.9 720.0,430.7 720.0,431.4 720.0,432.1 720.0,432.9 720.0,433.6 720.0,434.3 720.1,435.1 720.1,435.8 720.1,436.5 720.1,437.3 720.1,438.0 720.1,438.8 720.1,439.5 720.1,440.3 720.1,441.0 720.1,441.8 720.1,442.5 720.1,443.3 720.1,444.1 720.1,444.8 720.1,445.6 720.1,446.3 720.1,447.1 720.1,447.9 720.1,448.6 720.1,449.4 720.1,450.2 720.1,450.9 720.1,451.7 720.1,452.5 720.1,453.3 720.1,454.0 720.1,454.8 720.1,455.6 720.1,456.4 720.1,457.2 720.1,458.0 720.1,458.7 720.1,459.5 720.1,460.3 720.1,461.1 720.1,461.9 720.1,462.7 720.1,463.5 720.1,464.3 720.1,465.1 720.1,465.9 720.1,466.7 720.1,467.5 720.1,468.3 720.1,469.1 720.1,469.9 720.1,470.7 720.1,471.5 720.1,472.3 720.1,473.1 720.1,473.9 720.1,474.7 720.1,475.5 720.1,476.3 720.1,477.1 720.1,477.9 720.1,478.8 720.2,479.6 720.2,480.4 720.2,481.2 720.2,482.0 720.2,482.8 720.2,483.7 720.2,484.5 720.2,485.3 720.2,486.1 720.2,486.9 720.2,487.8 720.2,488.6 720.2,489.4 720.2,490.2 720.2,491.0 720.2,491.9 720.2,492.7 720.2,493.5 720.2,494.4 720.2,495.2 720.2,496.0 720.2,496.8 720.2,497.7 720.2,498.5 720.2,499.3 720.2,500.1 720.2,501.0 720.2,501.8 720.2,502.6 720.2,503.5 720.2,504.3 720.2,505.1 720.2,506.0 720.2,506.8 720.2,507.6 720.2,508.5 720.2,509.3 720.2,510.1 720.2,511.0 720.2,511.8 720.2,512.6 720.2,513.5 720.2,514.3 720.2,515.1 720.2,516.0 720.2,516.8 720.2,517.6 720.2,518.5 720.2,519.3 720.2,520.1 720.2,521.0 720.2,521.8 720.2,522.6 720.2,523.5 720.2,524.3 720.2,525.2 720.2,526.0 720.2,526.8 720.2,527.7 720.2,528.5 720.2,529.3 720.2,530.2 720.2,531.0 720.2,531.8 720.2,532.7 720.2,533.5 720.2,534.3 720.2,535.2 720.2,536.0 720.2,536.8 720.2,537.6 720.2,538.5 720.2,539.3 720.2,540.1 720.2,541.0 720.2,541.8 720.2,542.6 720.3,543.5 720.3,544.3 720.3,545.1 720.3,545.9 720.3,546.8 720.3,547.6 720.3,548.4 720.3,549.2 720.3,550.1 720.3,550.9 720.3,551.7 720.3,552.5 720.3,553.3 720.3,554.2 720.3,555.0 720.3,555.8 720.3,556.6 720.3,557.4 720.3,558.3 720.3,559.1 720.3,559.9 720.3,560.7 720.3,561.5 720.3,562.3 720.3,563.1 720.3,563.9 720.3,564.8 720.3,565.6 720.3,566.4 720.3,567.2 720.3,568.0 720.3,568.8 720.3,569.6 720.3,570.4 720.3,571.2 720.3,572.0" fill="none" stroke="#ff0000" stroke-width="4.0" stroke-linejoin="round" stroke-linecap="round"/>
<polyline points="697.2,362.0 697.4,361.2 697.6,360.4 697.7,359.6 697.9,358.8 698.1,358.0 698.3,357.3 698.5,356.5 698.6,355.7 698.8,354.9 699.0,354.1 699.2,353.3 699.4,352.5 699.5,351.7 699.7,350.9 699.9,350.2 700.1,349.4 700.3,348.6 700.5,347.8 700.7,347.0 700.9,346.2 701.2,345.4 701.4,344.6 701.6,343.9 701.8,343.1 702.0,342.3 702.2,341.4 702.4,340.6 702.6,339.7 702.8,338.8 703.0,337.8 703.1,337.1 703.2,336.5 703.3,335.8 703.4,335.0 703.5,334.3 703.6,333.5 703.7,332.8 703.8,332.0 703.9,331.2 704.0,330.4 704.0,329.5 704.1,328.7 704.2,327.9 704.3,327.0 704.3,326.2 704.4,325.3 704.5,324.5 704.6,323.6 704.6,322.8 704.7,321.9 704.8,321.0 704.8,320.2 704.9,319.4 705.0,318.5 705.1,317.7 705.2,316.9 705.2,316.1 705.3,315.3 705.4,314.5 705.5,313.7 705.6,313.0 705.7,312.2 705.8,311.3 705.9,310.5 706.1,309.7 706.2,308.9 706.3,308.1 706.4,307.3 706.5,306.6 706.6,305.8 706.8,305.0 706.9,304.3 707.0,303.5 707.1,302.7 707.3,302.0 707.4,301.2 707.5,300.4 707.6,299.6 707.8,298.9 707.9,298.1 708.0,297.3 708.1,296.5 708.3,295.6 708.4,294.8 708.5,294.1 708.6,293.3 708.7,292.5 708.9,291.7 709.0,290.9 709.1,290.1 709.2,289.3 709.3,288.4 709.4,287.6 709.6,286.8 709.7,285.9 709.8,285.1 709.9,284.2 710.0,283.4 710.2,282.5 710.3,281.7 710.4,280.8 710.5,280.0 710.6,279.2 710.8,278.4 710.9,277.6 711.0,276.8 711.1,276.0 711.2,275.2 711.3,274.5 711.5,273.7 711.6,273.0 711.7,272.3 711.8,271.7 711.9,271.0 712.1,270.0 712.2,269.1 712.4,268.2 712.6,267.3 712.7,266.5 712.9,265.6 713.0,264.8 713.2,264.0 713.4,263.2 713.5,262.5 713.7,261.6 713.8,260.8 714.0,260.0" fill="none" stroke="#ff0000" stroke-width="3.4" stroke-linejoin="round" stroke-linecap="round"/>
<polyline points="689.1,477.6 689.2,478.4 689.4,479.2 689.5,480.1 689.7,480.9 689.8,481.7 690.0,482.5 690.1,483.3 690.2,484.2 690.4,485.1 690.5,486.0 690.6,486.7 690.7,487.5 690.8,488.3 690.8,489.2 690.9,490.0 691.0,490.9 691.1,491.8 691.1,492.6 691.2,493.5 691.3,494.4 691.4,495.3 691.5,496.1 691.6,497.0 691.7,497.8 691.8,498.6 691.9,499.3 692.0,500.0 692.2,500.9 692.4,501.7 692.6,502.4 692.9,503.2 693.1,503.9 693.4,504.6 693.6,505.3 693.8,506.1 694.0,507.0 694.1,507.7 694.2,508.4 694.3,509.1 694.4,509.8 694.5,510.5 694.5,511.2 694.6,511.9 694.7,512.7 694.7,513.5 694.8,514.3 694.8,515.2 694.8,516.0 694.9,517.0 694.9,517.9 695.0,518.9 695.0,520.0 695.0,520.5 695.0,521.1 695.1,521.7 695.1,522.3 695.1,522.9 695.1,523.5 695.1,524.1 695.1,524.8 695.2,525.4 695.2,526.1 695.2,526.8 695.2,527.5 695.2,528.2 695.2,528.9 695.2,529.6 695.2,530.4 695.2,531.1 695.2,531.9 695.3,532.7 695.3,533.4 695.3,534.2 695.3,535.0 695.3,535.8 695.3,536.7 695.3,537.5 695.3,538.3 695.3,539.1 695.3,540.0 695.3,540.8 695.3,541.7 695.3,542.5 695.3,543.4 695.3,544.3 695.3,545.1 695.3,546.0 695.3,546.9 695.3,547.8 695.3,548.6 695.3,549.5 695.3,550.4 695.3,551.3 695.3,552.2 695.3,553.1 695.3,554.0 695.3,554.9 695.3,555.8 695.3,556.6 695.3,557.5 695.3,558.4 695.3,559.3 695.3,560.2 695.3,561.0 695.3,561.9 695.3,562.8 695.3,563.7 695.3,564.5 695.3,565.4 695.3,566.2 695.3,567.1 695.3,567.9 695.3,568.7 695.3,569.6 695.3,570.4 695.3,571.2 695.3,572.0" fill="none" stroke="#ff0000" stroke-width="3.4" stroke-linejoin="round" stroke-linecap="round"/>
<polyline points="690.8,490.0 690.8,490.8 690.9,491.6 690.9,492.4 690.9,493.2 691.0,494.0 691.0,494.8 691.0,495.6 691.0,496.4 691.1,497.2 691.1,498.0 691.1,498.8 691.2,499.6 691.2,500.4 691.2,501.2 691.2,502.0 691.3,502.8 691.3,503.6 691.3,504.4 691.4,505.2 691.4,506.0" fill="none" stroke="#ff0000" stroke-width="4.2" stroke-linejoin="round" stroke-linecap="round"/>
<polyline points="695.3,430.0 695.3,429.2 695.4,428.4 695.4,427.5 695.4,426.7 695.5,425.8 695.5,425.0 695.5,424.1 695.5,423.3 695.6,422.4 695.6,421.6 695.6,420.7 695.7,419.8 695.7,418.9 695.7,418.1 695.7,417.2 695.8,416.4 695.8,415.5 695.8,414.6 695.9,413.8 695.9,412.9 695.9,412.1 696.0,411.2 696.0,410.4 696.0,409.6 696.1,408.8 696.1,408.0 696.1,407.2 696.2,406.4 696.2,405.6 696.2,404.9 696.3,404.1 696.3,403.4 696.3,402.7 696.4,402.0 696.4,401.3 696.5,400.6 696.5,400.0 696.6,399.0 696.6,398.0 696.7,397.1 696.8,396.2 696.9,395.4 697.0,394.5 697.0,393.7 697.1,392.9 697.2,392.1 697.3,391.3 697.4,390.5 697.5,389.8 697.5,389.0 697.6,388.1 697.7,387.3 697.8,388.1 697.8,388.9 697.9,389.7 698.0,390.4 698.0,391.1 698.1,391.9 698.1,392.6 698.2,393.3 698.3,394.1 698.3,395.0 698.4,395.8 698.5,396.8 698.5,397.8 698.6,398.8 698.6,400.0 698.6,400.5 698.6,400.9 698.6,401.4 698.7,401.9 698.7,402.4 698.7,403.0 698.7,403.5 698.7,404.1 698.7,404.6 698.7,405.2 698.7,405.8 698.8,406.4 698.8,407.0 698.8,407.6 698.8,408.2 698.8,408.9 698.8,409.5 698.8,410.2 698.8,410.8 698.8,411.5 698.8,412.2 698.8,412.9 698.8,413.6 698.8,414.3 698.8,415.0 698.8,415.8 698.8,416.5 698.8,417.2 698.8,418.0 698.8,418.8 698.8,419.5 698.8,420.3 698.8,421.1 698.8,421.9 698.8,422.7 698.8,423.5 698.8,424.3 698.8,425.1 698.8,425.9 698.8,426.8 698.8,427.6 698.8,428.4 698.8,429.3 698.8,430.1 698.8,431.0 698.8,431.9 698.8,432.7 698.8,433.6 698.8,434.5 698.8,435.3 698.8,436.2 698.8,437.1 698.8,438.0 698.8,438.9 698.8,439.8 698.8,440.7 698.8,441.6 698.8,442.5 698.8,443.4 698.8,444.3 698.8,445.2 698.8,446.1 698.8,447.0 698.7,447.9 698.7,448.8 698.7,449.8 698.7,450.7 698.7,451.6 698.7,452.5 698.7,453.4 698.7,454.3 698.7,455.3 698.7,456.2 698.7,457.1 698.7,458.0 698.7,458.9 698.7,459.8 698.7,460.7 698.7,461.6 698.7,462.5 698.7,463.4 698.7,464.3 698.6,465.2 698.6,466.1 698.6,467.0 698.6,467.9 698.6,468.8 698.6,469.7 698.6,470.6 698.6,471.5 698.6,472.3 698.6,473.2 698.6,474.1 698.6,474.9 698.6,475.8 698.6,476.6 698.6,477.5 698.6,478.3 698.6,479.2 698.6,480.0 698.6,480.8 698.6,481.5 698.6,482.3 698.6,483.1 698.6,483.9 698.6,484.6 698.6,485.4 698.6,486.2 698.6,487.0 698.6,487.8 698.6,488.5 698.6,489.3 698.6,490.1 698.6,490.9 698.6,491.7 698.6,492.5 698.6,493.3 698.6,494.0 698.6,494.8 698.6,495.6 698.6,496.4 698.6,497.2 698.6,498.0 698.6,498.8 698.6,499.6 698.6,500.4 698.6,501.2 698.6,502.0 698.6,502.7 698.6,503.5 698.6,504.3 698.6,505.1 698.6,505.9 698.6,506.7 698.6,507.5 698.6,508.3 698.6,509.1 698.5,509.9 698.5,510.7 698.5,511.5 698.5,512.3 698.5,513.1 698.5,513.9 698.5,514.7 698.5,515.5 698.5,516.3 698.5,517.1 698.5,517.9 698.5,518.7 698.5,519.6 698.5,520.4 698.5,521.2 698.5,522.0 698.5,522.8 698.5,523.6 698.5,524.4 698.5,525.2 698.5,526.0 698.5,526.8 698.5,527.6 698.5,528.4 698.5,529.2 698.5,530.0 698.5,530.8 698.5,531.7 698.5,532.5 698.5,533.3 698.5,534.1 698.5,534.9 698.5,535.7 698.5,536.5 698.5,537.3 698.5,538.1 698.5,538.9 698.5,539.7 698.5,540.6 698.5,541.4 698.5,542.2 698.5,543.0 698.5,543.8 698.5,544.6 698.5,545.4 698.5,546.2 698.5,547.0 698.5,547.8 698.5,548.6 698.5,549.5 698.5,550.3 698.4,551.1 698.4,551.9 698.4,552.7 698.4,553.5 698.4,554.3 698.4,555.1 698.4,555.9 698.4,556.7 698.4,557.5 698.4,558.3 698.4,559.1 698.4,560.0 698.4,560.8 698.4,561.6 698.4,562.4 698.4,563.2 698.4,564.0 698.4,564.8 698.4,565.6 698.4,566.4 698.4,567.2 698.4,568.0 698.4,568.8 698.4,569.6 698.4,570.4 698.4,571.2 698.4,572.0" fill="none" stroke="#ff0000" stroke-width="3.6" stroke-linejoin="round" stroke-linecap="round"/>
<polyline points="131.0,568.4 131.0,567.4 131.1,566.8 131.1,566.3 131.2,565.4 131.2,564.6 131.3,563.8 131.3,562.6 131.4,562.0 131.4,561.1 131.5,560.6 131.5,559.0 131.6,558.7 131.6,558.0 131.7,557.4 131.7,556.4 131.8,555.5 131.8,554.9 131.9,554.0 131.9,553.2 132.0,552.3 132.0,551.5 132.1,550.6 132.1,549.7 132.2,549.0 132.2,548.2 132.3,547.4 132.3,546.3 132.4,545.7 132.4,544.9 132.5,544.4 132.5,543.3 132.6,542.2 132.6,541.8 132.7,540.7 132.7,540.2 132.8,539.4 132.8,538.7 132.9,537.4 132.9,537.3 133.0,535.9 133.0,535.1 133.1,534.6 133.1,533.6 133.2,532.7 133.2,531.9 133.3,531.2 133.3,530.3 133.4,529.7 133.4,528.7 133.5,527.9 133.5,527.3 133.6,526.4 133.6,525.6 133.7,524.8 133.7,524.2 133.8,523.1 133.8,522.4 133.9,521.4 133.9,520.5 134.0,519.8 134.1,519.3 134.1,518.6 134.2,517.4 134.2,516.8 134.3,515.9 134.3,515.0 134.4,514.0 134.4,513.5 134.5,512.8 134.5,511.7 134.6,510.9 134.6,509.8 134.7,509.4 134.7,508.4 134.8,507.9 134.8,507.1 134.9,506.3 134.9,505.1 135.0,504.2 135.0,503.5 135.1,502.7 135.1,502.4 135.2,501.1 135.2,500.1 135.3,499.6 135.3,498.7 135.4,497.6 135.4,496.8 135.5,496.5 135.5,495.3 135.6,494.7 135.7,493.3 135.7,492.7 135.8,492.3 135.8,491.3 135.9,490.3 135.9,489.7 136.0,488.8 136.0,488.0 136.1,487.4 136.1,486.6 136.2,485.7 136.2,485.3 136.3,484.0 136.4,483.3 136.4,482.4 136.5,481.8 136.5,481.2 136.6,480.1 136.6,479.7 136.7,479.1 136.8,478.0 136.8,477.5 136.9,476.4 136.9,475.7 137.0,474.9 137.1,473.7 137.1,473.4 137.2,472.3 137.3,471.5 137.4,470.6 137.4,470.0 137.5,469.3 137.6,468.2 137.7,467.6 137.7,466.8 137.8,465.8 137.9,464.9 138.0,464.0 138.0,463.3 138.1,462.5 138.2,461.7 138.3,460.7 138.3,460.0 138.4,459.4 138.5,458.7 138.6,457.8 138.7,457.0 138.7,455.7 138.8,455.2 138.9,454.2 139.0,453.7 139.0,452.8 139.1,452.3 139.2,451.4 139.3,450.5 139.4,449.5 139.4,448.7 139.5,447.9 139.6,447.2 139.7,446.2 139.8,445.5 139.8,444.9 139.9,443.9 140.0,443.3 140.1,442.5 140.1,441.6 140.2,440.5 140.3,440.4" fill="none" stroke="#ff0000" stroke-width="3.6" stroke-linejoin="round" stroke-linecap="round"/>
<polyline points="128.5,568.3 128.6,567.7 128.6,566.7 128.7,566.2 128.7,565.4 128.8,564.5 128.9,563.7 128.9,562.6 129.0,562.0 129.0,561.0 129.1,560.8 129.1,559.5 129.2,558.8 129.3,558.2 129.3,557.3 129.4,556.3 129.4,555.8 129.5,554.9 129.6,553.9 129.6,553.1 129.7,552.3 129.7,551.3 129.8,550.9 129.9,549.9 129.9,548.5 130.0,548.3 130.0,547.3 130.1,546.1 130.2,545.7 130.2,544.7 130.3,544.0 130.3,543.3 130.4,542.6 130.5,541.9 130.5,541.1 130.6,540.3 130.6,538.8 130.7,538.1 130.7,537.6 130.8,536.8 130.9,536.0 130.9,535.3 131.0,534.7 131.0,534.0 131.1,532.9 131.2,532.0 131.2,531.3 131.3,530.3 131.3,529.7 131.4,528.7 131.4,527.7 131.5,526.9 131.6,526.1 131.6,525.6 131.7,524.8 131.7,523.8 131.8,522.8 131.8,522.1 131.9,521.6 131.9,521.3 132.0,519.8 132.1,519.2 132.1,518.1 132.2,517.6 132.2,516.8 132.3,515.7 132.3,515.4 132.4,514.1 132.4,513.4 132.5,512.6 132.5,511.7 132.6,510.6 132.7,510.5 132.7,509.0 132.8,508.4 132.8,507.6 132.9,506.8 132.9,505.6 133.0,504.8 133.0,504.4 133.1,503.6 133.1,502.6 133.2,501.8 133.2,500.9 133.3,499.9 133.3,499.4 133.4,498.6 133.4,497.7 133.5,497.0 133.5,495.7 133.6,494.9 133.6,494.4 133.7,493.7 133.7,492.8 133.8,492.3 133.8,491.1 133.9,490.3 133.9,489.8 134.0,488.8 134.0,488.4 134.1,487.0 134.2,486.3 134.2,485.6 134.3,484.7 134.3,484.3 134.4,483.7 134.4,482.4 134.5,481.3 134.5,480.7 134.6,480.0 134.6,479.5 134.7,478.7 134.8,477.9 134.8,477.2 134.9,476.1 134.9,476.1 135.0,475.1 135.1,474.1 135.1,473.3 135.2,472.4 135.3,471.3 135.4,470.3 135.5,469.9 135.5,468.6 135.6,468.0 135.7,467.5 135.8,466.1 135.8,465.4 135.9,464.5 136.0,464.2 136.1,463.1 136.2,462.0 136.2,461.6 136.3,460.7 136.4,459.4 136.5,459.2 136.6,458.4 136.7,457.6 136.7,457.0 136.8,455.8 136.9,455.1 137.0,454.2 137.1,453.2 137.2,452.5 137.2,451.8 137.3,451.2 137.4,450.3 137.5,449.8 137.6,448.7 137.7,448.3 137.7,447.2 137.8,446.4 137.9,445.7 138.0,444.9 138.1,444.4 138.2,443.4 138.3,442.6 138.4,441.7 138.5,440.6 138.6,440.0 138.6,439.5 138.7,438.3 138.8,437.4 138.9,437.1 139.0,436.1 139.1,435.0 139.2,434.2 139.3,433.5 139.4,432.8 139.5,432.0 139.6,431.1 139.7,430.3 139.8,429.3 139.9,428.3 140.0,427.7 140.1,427.1 140.2,426.0 140.3,425.3 140.4,424.3 140.5,424.0 140.6,423.1 140.7,422.3 140.8,421.6 140.9,420.7 141.0,419.8 141.1,419.2 141.2,418.6 141.4,417.7 141.5,416.8 141.6,415.7 141.7,414.9 141.9,414.3 142.0,413.5 142.1,412.6 142.2,412.0 142.4,411.1 142.5,409.9 142.6,409.5 142.8,408.5 142.9,407.5 143.0,407.0 143.2,405.6 143.3,405.2 143.4,404.8 143.6,403.9 143.7,403.0 143.8,402.1 144.0,401.5 144.1,400.3 144.2,400.0 144.4,398.7 144.5,397.7" fill="none" stroke="#ff0000" stroke-width="3.6" stroke-linejoin="round" stroke-linecap="round"/>
<polyline points="130.0,568.2 130.0,567.8 130.1,566.7 130.1,565.6 130.2,565.1 130.2,564.5 130.3,563.7 130.3,562.7 130.4,561.8 130.4,561.3 130.5,560.5 130.5,559.9 130.6,558.9 130.6,557.8 130.7,557.6 130.7,556.1 130.8,555.5 130.8,554.8 130.9,554.1 130.9,553.4 131.0,552.4 131.0,552.2 131.1,550.7 131.1,550.0 131.2,549.2 131.2,548.5 131.3,547.6 131.3,546.8 131.4,546.2 131.4,545.2 131.5,544.3 131.5,543.3 131.6,542.6 131.6,542.0 131.7,541.1 131.7,540.2 131.8,539.3 131.8,538.3 131.9,537.7 131.9,537.0 132.0,536.5 132.0,535.6 132.1,534.7 132.1,534.0 132.2,533.3 132.2,532.1 132.3,531.4 132.3,531.3 132.4,529.8 132.4,529.1 132.5,528.0 132.5,527.5 132.6,526.6 132.6,525.8 132.7,525.2 132.7,524.1 132.8,523.2 132.8,522.0 132.9,521.4 132.9,520.8 133.0,520.2 133.1,519.3 133.1,518.3 133.2,517.3 133.2,516.8 133.3,515.7 133.3,515.2 133.4,514.2 133.4,513.6 133.5,512.5 133.5,511.8 133.6,510.9 133.7,510.4 133.7,509.5 133.8,508.6 133.8,508.0 133.9,507.1 133.9,506.0 134.0,505.5 134.0,504.5 134.1,503.9 134.2,503.0 134.2,502.6 134.3,501.2 134.3,500.6 134.4,499.7 134.4,498.8 134.5,497.9 134.6,497.4 134.6,496.3 134.7,495.2 134.7,494.8 134.8,493.7 134.8,493.2 134.9,492.2 135.0,491.4 135.0,490.6 135.1,489.7 135.1,488.7 135.2,488.3 135.3,487.7 135.3,486.5 135.4,485.6 135.4,484.7 135.5,484.3 135.5,483.6 135.6,482.4 135.7,481.3 135.7,481.1 135.8,480.1 135.8,479.3 135.9,478.5 135.9,478.0 136.0,476.9 136.1,476.3 136.1,475.5 136.2,474.8 136.2,474.1 136.3,473.1 136.3,472.5 136.4,471.6 136.4,471.0 136.5,470.0 136.6,469.4 136.6,468.7 136.7,467.6 136.7,466.7 136.8,465.5 136.9,464.7 136.9,464.2 137.0,462.9 137.0,462.3 137.1,461.2 137.2,460.4 137.2,459.5 137.3,459.0 137.3,458.3 137.4,457.0 137.5,456.1 137.5,455.6 137.6,454.2 137.7,453.7 137.7,452.9 137.8,452.1 137.8,451.0 137.9,450.5 137.9,449.3 138.0,449.1 138.1,447.7 138.1,447.2 138.2,446.6 138.2,445.6 138.3,444.8 138.4,444.0 138.4,443.0 138.5,442.4 138.5,441.3 138.6,440.7 138.7,440.3 138.7,439.1 138.8,438.0 138.8,437.3 138.9,436.7 139.0,436.0 139.0,435.5 139.1,434.9 139.1,434.1 139.2,433.3 139.3,433.0 139.3,432.3 139.4,431.4 139.4,430.5 139.5,430.0 139.6,428.6 139.7,428.0 139.8,427.3 139.9,426.0 140.0,425.3 140.0,425.0 140.1,423.8 140.2,423.3 140.3,421.8 140.4,421.4 140.5,420.5 140.6,419.9 140.7,419.2 140.8,418.4 140.9,417.8 141.0,416.9 141.0,416.1 141.1,415.1 141.2,414.3 141.3,413.6 141.4,412.8 141.5,411.7 141.7,413.1 141.8,413.7 142.0,414.3 142.1,414.9 142.3,415.3 142.4,416.7 142.6,417.2 142.7,418.1 142.9,418.9 143.0,420.1 143.1,420.5 143.1,421.1 143.2,421.8 143.2,422.6 143.3,422.9 143.3,423.8 143.4,423.9 143.4,424.9 143.5,425.8 143.5,426.5 143.5,427.3 143.6,427.6 143.6,428.9 143.7,429.3 143.7,430.3 143.7,431.4 143.7,431.7 143.8,433.1 143.8,433.7 143.8,434.0 143.9,435.1 143.9,436.2 143.9,437.1 143.9,437.5 143.9,438.8 144.0,439.7 144.0,440.8 144.0,441.4 144.0,442.5 144.1,443.2 144.1,444.5 144.1,445.2 144.1,446.0 144.1,447.2 144.2,448.0 144.2,449.0 144.2,449.8 144.2,450.6 144.2,451.5 144.2,451.4 144.3,452.7 144.3,453.3 144.3,454.1 144.3,454.8 144.3,455.3 144.3,455.6 144.3,456.9 144.3,457.8 144.3,458.2 144.3,459.2 144.4,459.9 144.4,460.6 144.4,461.3 144.4,462.5 144.4,463.2 144.4,463.8 144.4,464.5 144.4,465.3 144.4,466.2 144.4,466.6 144.4,467.6 144.4,468.7 144.4,469.4 144.4,469.7 144.4,471.3 144.4,471.8 144.4,472.4 144.4,473.3 144.4,474.1 144.4,475.3 144.4,475.9 144.4,476.7 144.5,477.7 144.5,478.5 144.5,479.8 144.5,480.0 144.5,480.9 144.5,481.7 144.5,483.0 144.5,483.4 144.5,484.4 144.5,485.0 144.5,486.0 144.5,487.0 144.5,487.4 144.5,489.0 144.5,489.3 144.5,490.1 144.5,491.2 144.5,491.9 144.5,492.8 144.5,493.7 144.5,494.2 144.5,495.6 144.5,496.1 144.5,496.9 144.5,498.2 144.5,498.9 144.5,499.3 144.5,500.1 144.5,501.6 144.5,502.1 144.5,502.9 144.5,503.6 144.5,504.4 144.5,505.7 144.5,506.3 144.5,507.0 144.5,507.9 144.5,508.5 144.5,509.6 144.5,510.7 144.5,511.3 144.5,511.5 144.7,511.3 144.9,510.4 145.1,509.3 145.2,508.6 145.4,507.8 145.6,506.7 145.8,505.8 146.0,505.0" fill="none" stroke="#ff0000" stroke-width="3.4" stroke-linejoin="round" stroke-linecap="round"/>
<polyline points="132.5,568.4 132.6,567.6 132.7,567.4 132.8,565.8 132.9,565.2 133.0,564.8 133.1,564.0 133.2,562.6 133.3,561.9 133.4,561.5 133.5,560.3 133.6,559.7 133.6,558.7 133.7,557.9 133.8,557.1 133.9,556.5 134.0,555.5 134.1,554.4 134.2,553.7 134.3,553.1 134.4,552.4 134.5,551.8 134.6,550.9 134.7,549.7 134.8,549.2 134.9,548.5 135.0,547.5 135.1,546.5 135.2,545.7 135.3,544.9 135.4,544.2 135.5,543.4 135.7,542.4 135.8,541.7 135.9,540.7 136.0,539.7 136.1,539.5 136.2,538.7 136.3,537.5 136.5,536.9 136.6,535.7 136.7,535.3 136.8,533.8 136.9,533.6 137.0,532.6 137.2,531.8 137.3,531.0 137.4,530.2 137.5,529.6 137.6,528.5 137.8,527.7 137.9,526.8 138.0,525.9 138.1,525.3 138.3,524.1 138.4,523.8 138.5,522.9 138.7,522.1 138.8,521.1 138.9,520.7 139.1,519.8 139.2,518.7 139.3,517.9 139.5,516.6 139.6,516.5 139.8,515.4 139.9,514.9 140.1,513.6 140.2,513.5 140.4,512.7 140.5,512.0 140.7,511.6 140.8,510.6 141.0,509.9 141.2,508.6 141.5,508.2 141.8,507.5 142.0,506.6 142.3,505.3 142.6,504.6 142.9,504.2 143.1,503.1 143.4,502.2 143.7,501.9 144.0,500.7 144.3,500.4 144.6,499.5 144.8,499.0 145.1,498.4 145.3,497.4 145.6,496.5 145.8,496.0 146.0,495.0 146.2,494.2 146.4,493.0 146.5,492.7 146.6,491.5 146.8,491.0 146.9,490.0 147.0,489.1 147.1,488.0 147.2,487.6 147.3,486.0 147.4,486.0 147.5,484.7 147.6,484.2 147.7,483.2 147.9,482.3 148.0,481.9 148.2,481.3 148.3,480.5 148.5,480.2 148.9,478.8 149.3,478.5 149.8,477.7 150.3,477.1 150.7,476.6" fill="none" stroke="#ff0000" stroke-width="3.4" stroke-linejoin="round" stroke-linecap="round"/>
<polyline points="140.3,439.7 140.4,439.3 140.4,438.5 140.5,437.7 140.6,436.6 140.6,436.3 140.7,435.1 140.8,434.3 140.8,433.3 140.9,432.7 140.9,431.8 141.0,431.0 141.1,430.1 141.1,429.2 141.2,428.5 141.2,427.8 141.3,426.7 141.4,425.7 141.4,424.8 141.5,424.4 141.6,423.8 141.6,422.7 141.7,422.0 141.8,421.1 141.8,420.3 141.9,419.6 142.0,418.5 142.1,418.0 142.2,417.1 142.2,416.3 142.3,415.7 142.4,414.9 142.5,414.4 142.6,413.9 142.7,412.8 142.9,411.5 143.0,411.5 143.2,410.2 143.3,409.6 143.5,408.6 143.7,408.0 143.8,406.7 144.0,406.1 144.2,405.7 144.3,404.8 144.5,404.2 144.7,403.4 144.8,402.4 145.0,401.9 145.1,400.7 145.3,400.0 145.5,399.5 145.6,398.3 145.7,398.0 145.8,396.8 145.9,395.9 146.0,395.3 146.1,394.7 146.3,393.7 146.4,393.3 146.5,392.6 146.6,391.5 146.7,391.0 146.8,389.9 146.8,389.3 146.9,388.2 147.0,387.1 147.1,386.6 147.2,386.0 147.3,384.9 147.4,383.9 147.5,383.5 147.6,382.4 147.7,381.8 147.8,380.7 147.9,380.1 148.0,379.4 148.1,378.1 148.2,377.9 148.3,376.5 148.4,375.6 148.5,375.2 148.6,374.3 148.7,373.2 148.8,372.4 148.9,371.5 149.0,370.7 149.2,369.9 149.3,368.9 149.4,368.2 149.5,366.9 149.6,366.4 149.7,365.0 149.9,364.4 150.0,363.3 150.1,362.5 150.2,361.6 150.3,361.0 150.4,360.1 150.5,359.0 150.7,358.0 150.8,357.8 150.9,357.0 151.0,355.7 151.1,355.2 151.2,354.5 151.3,353.7 151.4,353.2 151.5,352.6 151.6,352.0 151.7,351.9 151.9,350.5 152.0,349.0 152.2,348.1 152.3,347.6 152.5,346.9 152.6,346.6 152.8,345.7 153.0,345.0 153.3,344.4 153.7,343.4 154.1,342.9 154.5,342.0 154.8,341.5 155.1,340.8 155.5,339.8 155.8,339.1 156.1,338.0 156.4,337.2 156.6,336.6 156.7,335.7 156.8,335.0 157.0,334.5 157.1,333.4 157.2,332.7 157.3,331.7 157.5,330.1 157.6,329.4 157.7,328.5 157.8,328.1 157.9,326.9 158.1,325.8 158.2,324.5 158.4,324.4 158.5,323.6 158.7,323.0 158.9,322.7 159.7,321.9 160.5,321.2 160.7,320.3 160.9,319.4 161.1,318.8 161.2,318.6 161.4,317.9 161.6,316.5 161.7,315.9 161.8,315.1 162.0,314.2 162.1,313.2 162.2,312.0 162.4,311.4 162.5,310.3 162.7,309.1 162.8,308.5 163.0,307.6 163.2,306.8 163.4,306.3 163.6,305.6 163.7,304.7 164.0,303.5 164.2,303.1 164.4,301.9 164.6,301.3 164.8,300.4 165.0,299.9 165.2,298.9 165.3,297.9 165.5,297.2 165.7,296.5 165.9,296.0 166.0,294.9 166.1,294.2 166.3,293.6 166.4,292.3 166.4,291.2 166.5,290.2 166.6,289.5 166.7,288.6 166.8,288.1 166.8,287.1 166.9,286.1 167.1,285.8 167.2,284.9 167.4,284.3 168.0,284.1 168.6,283.3 169.0,284.0 169.3,285.1 169.6,286.2 169.7,286.3 169.8,287.2 169.8,287.9 169.9,289.1 169.9,289.8 169.9,290.7 169.9,291.8 169.9,293.4 169.9,293.7 169.9,294.4 169.9,294.8 169.9,295.3 170.0,295.7 170.0,296.6 170.0,296.8 170.0,297.8 170.0,298.1 170.0,299.3 170.0,300.0 170.0,300.3 170.0,301.0 170.0,302.0 170.1,302.3 170.1,303.2 170.1,304.3 170.1,304.9 170.1,305.6 170.1,306.7 170.1,307.5 170.1,308.6 170.1,309.1 170.1,310.0 170.1,311.2 170.1,312.2 170.1,312.6 170.1,313.5 170.2,314.5 170.2,315.6 170.2,316.4 170.2,317.0 170.2,318.7 170.2,318.8 170.2,319.9 170.2,320.8 170.2,321.9 170.2,323.2 170.2,323.4 170.2,324.3 170.3,325.4 170.3,326.2 170.3,327.2 170.3,328.0 170.3,328.8 170.3,329.8 170.3,330.3 170.3,331.2 170.3,332.2 170.3,332.7 170.4,333.3 170.4,334.6 170.4,335.1 170.4,335.7 170.4,336.8 170.4,337.4 170.4,338.5 170.4,339.4 170.4,340.1 170.4,341.1 170.4,341.6 170.5,342.3 170.5,343.0 170.5,343.9 170.5,345.0 170.5,345.9 170.5,346.7 170.5,347.5 170.5,348.5 170.5,349.2 170.5,350.3 170.5,350.9 170.6,352.2 170.6,352.6 170.6,353.2 170.6,354.6 170.6,355.0 170.6,356.5 170.6,357.1 170.6,357.8 170.6,358.4 170.7,359.6 170.7,360.3 170.7,360.9 170.7,362.1 170.7,362.7 170.7,363.7 170.7,364.4 170.7,365.5 170.8,366.2 170.8,366.9 170.8,367.6 170.8,368.5 170.8,369.6 170.8,370.4 170.9,371.0 170.9,371.7 170.9,372.4 170.9,373.3 170.9,374.0 170.9,374.9 171.0,375.8 171.0,376.4 171.0,376.9 171.0,377.9 171.1,378.1 171.1,379.3 171.1,379.9 171.1,380.3 171.2,381.8 171.2,382.7 171.2,383.4 171.3,384.2 171.3,385.3 171.3,386.2 171.4,387.1 171.4,388.0 171.4,389.0 171.5,389.6 171.5,391.2 171.5,391.5 171.6,392.3 171.6,393.6 171.7,394.4 171.7,394.9 171.7,396.1 171.8,396.5 171.8,397.5 171.9,398.2 171.9,399.2 172.0,400.0 172.0,400.5 172.0,401.6 172.1,401.9 172.1,403.1 172.2,404.0 172.2,404.7 172.3,404.9 172.3,405.9 172.4,406.5 172.4,407.5 172.5,408.5 172.5,409.0 172.6,409.6 172.6,410.3 172.7,410.6 172.8,411.8 172.9,412.9 173.0,413.6 173.1,414.1 173.1,415.4 173.2,416.1 173.3,417.3 173.4,417.8 173.5,419.1 173.6,419.4 173.7,420.5 173.8,420.8 174.0,422.0 174.1,422.7 174.2,423.2 174.3,424.1 174.5,424.8 174.6,425.9 174.8,426.9 175.0,427.3 175.1,428.1 175.3,428.6 175.5,429.5 175.7,430.6 175.8,431.4 176.0,432.0" fill="none" stroke="#ff0000" stroke-width="3.6" stroke-linejoin="round" stroke-linecap="round"/>
<polyline points="144.5,398.0 144.6,397.5 144.7,396.4 144.8,395.6 144.9,394.8 145.0,394.0 145.2,393.0 145.3,392.7 145.4,391.1 145.5,390.6 145.6,389.8 145.7,388.9 145.8,388.1 145.9,387.5 146.0,386.5 146.1,385.8 146.3,385.0 146.4,383.9 146.5,382.9 146.6,382.1 146.7,381.5 146.8,380.9 146.9,379.6 147.0,378.9 147.1,378.3 147.2,377.5 147.3,376.8 147.5,375.9 147.6,374.9 147.7,374.4 147.8,373.7 147.9,373.2 148.0,372.0 148.1,371.3 148.2,370.2 148.4,369.6 148.5,368.6 148.6,367.7 148.7,367.2 148.9,365.8 149.0,365.1 149.1,364.1 149.2,363.4 149.3,363.0 149.5,362.1 149.6,361.0 149.7,360.1 149.8,359.2 149.9,358.8 150.1,358.2 150.2,357.4 150.3,356.9 150.4,355.7 150.5,354.9 150.7,353.8 150.8,353.5 150.9,352.8 151.0,351.5 151.2,350.8 151.3,350.3 151.5,349.0 151.6,348.3 151.8,347.4 151.9,346.5 152.1,345.9 152.2,345.1 152.4,344.4 152.5,343.7 152.7,342.7 152.8,342.0 153.0,341.0 154.1,341.2 155.0,342.2 155.2,342.6 155.3,343.2 155.4,343.7 155.4,344.3 155.4,345.1 155.4,346.2 155.3,347.2 155.3,347.9 155.2,349.1 155.1,350.0 155.0,351.3 155.0,352.2 155.0,352.5 155.0,353.4 154.9,353.8 154.9,355.0 154.9,355.5 154.8,356.3 154.8,357.1 154.7,358.2 154.7,358.7 154.6,359.8 154.6,360.4 154.5,361.4 154.5,362.0 154.4,363.2 154.4,364.2 154.3,365.3 154.3,365.8 154.2,366.8 154.2,367.6 154.1,368.3 154.1,369.3 154.0,370.7 154.0,371.0 153.9,371.9 153.9,373.0 153.9,373.2 153.8,374.3 153.8,375.1 153.8,376.0 153.7,376.6 153.7,377.9 153.7,378.3 153.7,379.3 153.6,379.9 153.6,381.1 153.6,381.6 153.6,382.6 153.5,383.6 153.5,384.2 153.5,384.6 153.5,385.5 153.5,386.6 153.5,387.3 153.5,388.3 153.5,388.8 153.6,389.9 153.6,390.9 153.6,391.7 153.7,392.6 153.7,393.1 153.7,394.0 153.8,394.6 153.8,395.4 153.8,396.4 153.9,396.9 153.9,398.1 154.0,398.8 154.0,399.6 154.1,400.5 154.2,401.2 154.2,402.4 154.3,403.0 154.4,404.0 154.4,404.7 154.5,405.8 154.6,406.6 154.7,407.1 154.8,408.0 154.9,409.1 155.0,409.7 155.1,410.3 155.2,411.5 155.3,412.0 155.4,413.0 155.5,413.3 155.7,414.5 155.8,415.3 156.0,416.4 156.2,416.7 156.4,418.0 156.6,418.7 156.8,419.1 157.0,420.3 157.2,420.9 157.4,421.9 157.6,422.4 157.8,423.1 158.0,424.3 158.2,425.2 158.5,425.8 158.7,426.5 158.9,427.2 159.1,428.1 159.3,429.0" fill="none" stroke="#ff0000" stroke-width="3.4" stroke-linejoin="round" stroke-linecap="round"/>
<polygon points="301.3,431.3 305,431.3 305.5,440 306.4,447 304.2,447.5 302.6,441.5 300,442.5" fill="#ff0000"/>
<line x1="243.6" y1="21.6" x2="243.6" y2="575.6" stroke="#00ff00" stroke-opacity="0.7" stroke-width="3.3"/>
<line x1="477.9" y1="21.6" x2="477.9" y2="575.6" stroke="#00ff00" stroke-opacity="0.7" stroke-width="3.3"/>
</g>
<rect x="127.5" y="21.6" width="701" height="554" fill="none" stroke="#6e6e6e" stroke-width="1.1"/>
<line x1="127.5" y1="575.6" x2="127.5" y2="568.6" stroke="#6e6e6e" stroke-width="1.1"/>
<line x1="127.5" y1="21.6" x2="127.5" y2="28.6" stroke="#6e6e6e" stroke-width="1.1"/>
<line x1="243.5" y1="575.6" x2="243.5" y2="568.6" stroke="#6e6e6e" stroke-width="1.1"/>
<line x1="243.5" y1="21.6" x2="243.5" y2="28.6" stroke="#6e6e6e" stroke-width="1.1"/>
<line x1="360.5" y1="575.6" x2="360.5" y2="568.6" stroke="#6e6e6e" stroke-width="1.1"/>
<line x1="360.5" y1="21.6" x2="360.5" y2="28.6" stroke="#6e6e6e" stroke-width="1.1"/>
<line x1="477.5" y1="575.6" x2="477.5" y2="568.6" stroke="#6e6e6e" stroke-width="1.1"/>
<line x1="477.5" y1="21.6" x2="477.5" y2="28.6" stroke="#6e6e6e" stroke-width="1.1"/>
<line x1="594.5" y1="575.6" x2="594.5" y2="568.6" stroke="#6e6e6e" stroke-width="1.1"/>
<line x1="594.5" y1="21.6" x2="594.5" y2="28.6" stroke="#6e6e6e" stroke-width="1.1"/>
<line x1="711.5" y1="575.6" x2="711.5" y2="568.6" stroke="#6e6e6e" stroke-width="1.1"/>
<line x1="711.5" y1="21.6" x2="711.5" y2="28.6" stroke="#6e6e6e" stroke-width="1.1"/>
<line x1="828.5" y1="575.6" x2="828.5" y2="568.6" stroke="#6e6e6e" stroke-width="1.1"/>
<line x1="828.5" y1="21.6" x2="828.5" y2="28.6" stroke="#6e6e6e" stroke-width="1.1"/>
<line x1="127.5" y1="575.5" x2="134.5" y2="575.5" stroke="#6e6e6e" stroke-width="1.1"/>
<line x1="828.5" y1="575.5" x2="821.5" y2="575.5" stroke="#6e6e6e" stroke-width="1.1"/>
<line x1="127.5" y1="520.5" x2="134.5" y2="520.5" stroke="#6e6e6e" stroke-width="1.1"/>
<line x1="828.5" y1="520.5" x2="821.5" y2="520.5" stroke="#6e6e6e" stroke-width="1.1"/>
<line x1="127.5" y1="464.5" x2="134.5" y2="464.5" stroke="#6e6e6e" stroke-width="1.1"/>
<line x1="828.5" y1="464.5" x2="821.5" y2="464.5" stroke="#6e6e6e" stroke-width="1.1"/>
<line x1="127.5" y1="409.5" x2="134.5" y2="409.5" stroke="#6e6e6e" stroke-width="1.1"/>
<line x1="828.5" y1="409.5" x2="821.5" y2="409.5" stroke="#6e6e6e" stroke-width="1.1"/>
<line x1="127.5" y1="354.5" x2="134.5" y2="354.5" stroke="#6e6e6e" stroke-width="1.1"/>
<line x1="828.5" y1="354.5" x2="821.5" y2="354.5" stroke="#6e6e6e" stroke-width="1.1"/>
<line x1="127.5" y1="298.5" x2="134.5" y2="298.5" stroke="#6e6e6e" stroke-width="1.1"/>
<line x1="828.5" y1="298.5" x2="821.5" y2="298.5" stroke="#6e6e6e" stroke-width="1.1"/>
<line x1="127.5" y1="243.5" x2="134.5" y2="243.5" stroke="#6e6e6e" stroke-width="1.1"/>
<line x1="828.5" y1="243.5" x2="821.5" y2="243.5" stroke="#6e6e6e" stroke-width="1.1"/>
<line x1="127.5" y1="187.5" x2="134.5" y2="187.5" stroke="#6e6e6e" stroke-width="1.1"/>
<line x1="828.5" y1="187.5" x2="821.5" y2="187.5" stroke="#6e6e6e" stroke-width="1.1"/>
<line x1="127.5" y1="132.5" x2="134.5" y2="132.5" stroke="#6e6e6e" stroke-width="1.1"/>
<line x1="828.5" y1="132.5" x2="821.5" y2="132.5" stroke="#6e6e6e" stroke-width="1.1"/>
<line x1="127.5" y1="77.5" x2="134.5" y2="77.5" stroke="#6e6e6e" stroke-width="1.1"/>
<line x1="828.5" y1="77.5" x2="821.5" y2="77.5" stroke="#6e6e6e" stroke-width="1.1"/>
<line x1="127.5" y1="21.5" x2="134.5" y2="21.5" stroke="#6e6e6e" stroke-width="1.1"/>
<line x1="828.5" y1="21.5" x2="821.5" y2="21.5" stroke="#6e6e6e" stroke-width="1.1"/>
<g>
<text x="127.3" y="604.7" text-anchor="middle" font-size="22.7">0</text>
<text x="243.3" y="604.7" text-anchor="middle" font-size="22.7">20</text>
<text x="360.3" y="604.7" text-anchor="middle" font-size="22.7">40</text>
<text x="477.3" y="604.7" text-anchor="middle" font-size="22.7">60</text>
<text x="594.3" y="604.7" text-anchor="middle" font-size="22.7">80</text>
<text x="711.3" y="604.7" text-anchor="middle" font-size="22.7">100</text>
<text x="828.3" y="604.7" text-anchor="middle" font-size="22.7">120</text>
<text x="118.6" y="583.5" text-anchor="end" font-size="22.7">0</text>
<text x="118.6" y="528.1" text-anchor="end" font-size="22.7">2</text>
<text x="118.6" y="472.7" text-anchor="end" font-size="22.7">4</text>
<text x="118.6" y="417.3" text-anchor="end" font-size="22.7">6</text>
<text x="118.6" y="361.9" text-anchor="end" font-size="22.7">8</text>
<text x="118.6" y="306.6" text-anchor="end" font-size="22.7">10</text>
<text x="118.6" y="251.2" text-anchor="end" font-size="22.7">12</text>
<text x="118.6" y="195.8" text-anchor="end" font-size="22.7">14</text>
<text x="118.6" y="140.4" text-anchor="end" font-size="22.7">16</text>
<text x="118.6" y="85.0" text-anchor="end" font-size="22.7">18</text>
<text x="118.6" y="29.6" text-anchor="end" font-size="22.7">20</text>
</g>
<text x="0" y="0" font-size="23.8" text-anchor="middle" transform="translate(83,298.6) rotate(-90)">F [N]</text>
<text x="477" y="636" font-size="23.8" text-anchor="middle"><tspan style="font-family:'Liberation Serif',serif;font-style:italic">&#948;</tspan> [mm]</text>
<rect x="642.5" y="34.5" width="173.5" height="114.7" fill="#fff" stroke="#6e6e6e" stroke-width="1.1"/>
<line x1="648.2" y1="51.3" x2="697.2" y2="51.3" stroke="#0000ff" stroke-width="3.4"/>
<line x1="648.2" y1="78.4" x2="697.2" y2="78.4" stroke="#ff0000" stroke-width="3.4"/>
<line x1="648.2" y1="106.0" x2="697.2" y2="106.0" stroke="#00ff00" stroke-opacity="0.7" stroke-width="3.4"/>
<line x1="648.2" y1="133.0" x2="697.2" y2="133.0" stroke="#00ff00" stroke-opacity="0.7" stroke-width="3.4"/>
<text x="701.5" y="59.3" font-size="22.6" style="fill:#000;stroke:#000">Layer 10</text>
<text x="701.5" y="86.6" font-size="22.6" style="fill:#000;stroke:#000">Layer 40</text>
<text x="701.5" y="114" font-size="22.6" style="fill:#000;stroke:#000"><tspan style="font-family:'Liberation Serif',serif;font-style:italic">&#948;</tspan> = 20 mm</text>
<text x="701.5" y="141.2" font-size="22.6" style="fill:#000;stroke:#000"><tspan style="font-family:'Liberation Serif',serif;font-style:italic">&#948;</tspan> = 60 mm</text>
<text x="0" y="0" transform="translate(8.7,706.6) scale(0.945,1)" font-size="35.4" style="font-family:'Liberation Serif',serif;fill:#000;stroke:none">(<tspan font-weight="bold">a</tspan>)</text>
</svg>
</body></html>
